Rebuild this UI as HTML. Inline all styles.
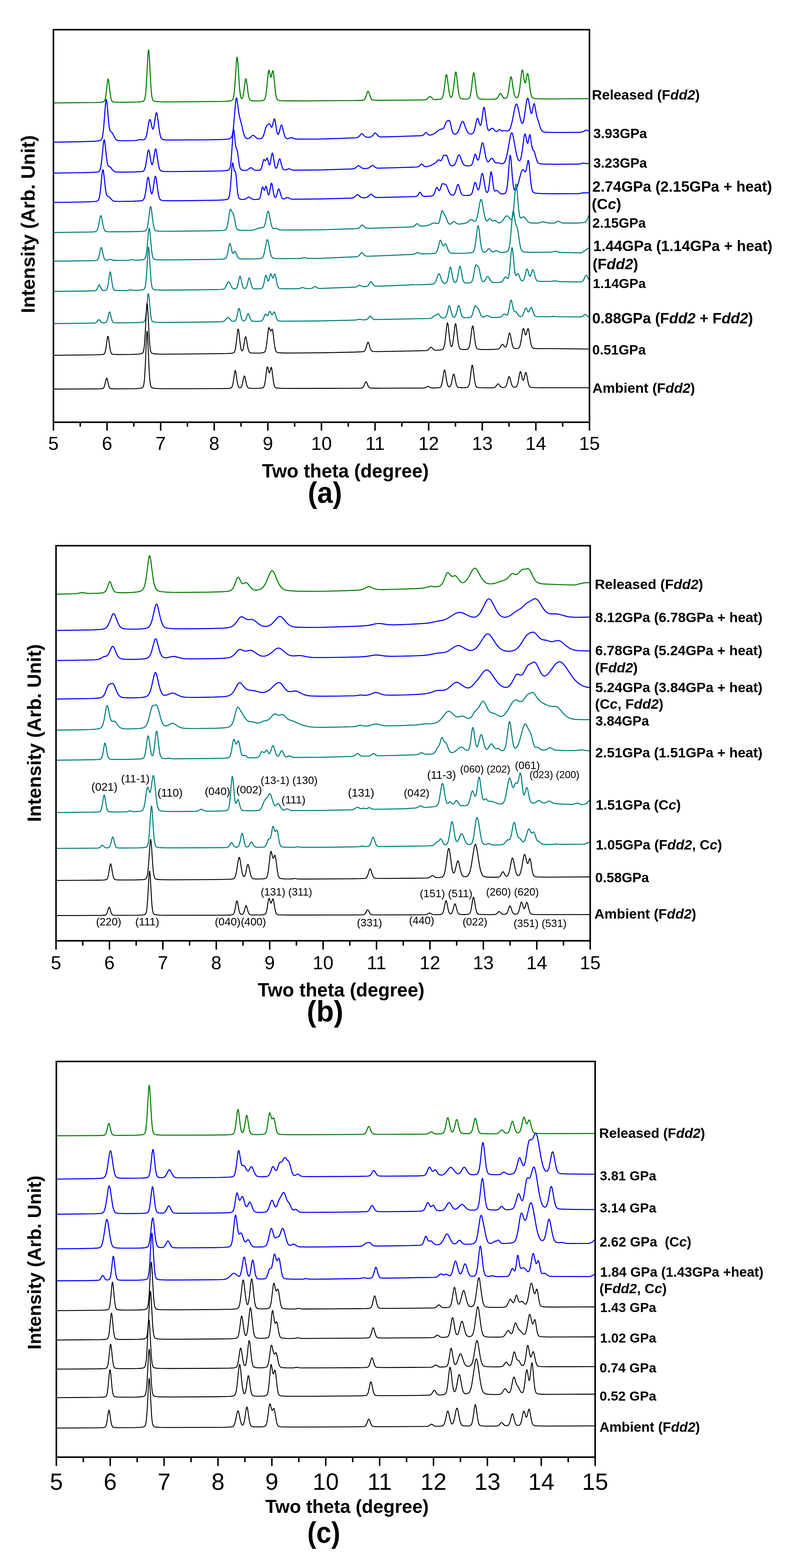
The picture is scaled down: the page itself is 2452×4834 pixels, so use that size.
<!DOCTYPE html>
<html lang="en"><head><meta charset="utf-8"><title>XRD patterns</title>
<style>html,body{margin:0;padding:0;background:#fff}body{width:2452px;height:4834px;overflow:hidden}svg{display:block}</style>
</head><body>
<svg width="2452" height="4834" viewBox="0 0 2452 4834" font-family='"Liberation Sans", Arial, Helvetica, sans-serif' fill="#000">
<rect width="2452" height="4834" fill="#fff"/>
<g>
<polyline fill="none" stroke="#008000" stroke-width="3.20" stroke-linejoin="round" points="165.8,317.3 294.8,316 312.3,315.3 316.8,314.7 319.3,313.9 321.3,312.4 322.8,310 324.3,305.7 325.3,301.3 327.3,288.2 331.3,252.7 332.3,246.7 333.3,243.9 333.8,243.9 334.3,244.9 335.3,249.6 339.8,288.4 341.8,301.3 342.8,305.7 344.3,309.9 345.8,312.3 347.3,313.5 349.3,314.2 351.8,314.6 361.3,315.2 380.8,315.3 408.3,314.9 422.3,314.5 431.8,313.9 438.3,312.9 442.3,311.5 443.8,310.3 444.8,309 446.3,305.5 447.8,298.9 449.3,287.6 451.8,254.1 456.3,168.3 457.3,157.2 457.8,154.5 458.3,153.8 458.8,155.2 459.3,158.7 460.3,171 465.3,265 466.8,284.3 468.3,296.8 470.3,305.8 472.3,309.7 473.8,311.1 475.8,312 482.3,313.3 496.3,314 522.8,314.2 669.8,313 690.3,312.5 702.8,311.9 710.8,310.9 715.3,309.4 716.8,308.2 717.8,306.9 719.3,303.6 720.8,297.6 722.3,287.6 724.8,259.4 729.3,189.4 730.3,179.9 730.8,177.3 731.3,176.3 731.8,176.9 732.3,179.1 733.8,194.1 737.3,249.7 739.3,276.1 741.3,292.8 743.3,301.3 744.8,303.8 745.3,304.1 746.3,303.9 747.8,301.9 749.3,297.4 751.8,283.8 756.3,249.4 757.3,244.8 757.8,243.6 758.3,243.1 758.8,243.5 759.3,244.6 760.3,249.1 765.3,287.6 767.8,300.6 769.3,305.1 771.3,308.3 773.8,309.9 777.3,310.6 783.8,311.1 792.8,311.1 801.8,310.8 808.3,310.2 811.8,309.5 813.8,308.6 815.3,307.4 816.8,305.2 818.8,299.4 820.8,288.5 822.8,271.4 826.8,228.9 828.3,218.9 829.3,216.5 829.8,216.7 830.8,219.3 833.8,234.1 834.8,237.1 835.3,237.7 835.8,237.7 836.8,235.8 839.8,221.8 840.8,218.5 841.3,217.8 841.8,217.9 842.3,218.9 843.3,223.6 844.3,231.4 849.3,282.3 850.8,292.8 852.3,299.9 854.3,305.3 856.3,307.9 857.8,308.8 859.8,309.5 865.8,310.4 884.3,311.1 900.8,310.6 912.3,311.1 932.8,311.1 1083.8,310 1107.3,309.6 1117.8,309.2 1120.8,308.6 1122.8,307.7 1124.3,306.4 1125.8,304.3 1128.3,298.6 1132.8,284.5 1134.3,281.6 1135.3,281 1136.3,281.7 1137.3,283.5 1142.3,298.8 1144.8,304.3 1146.3,306.3 1147.8,307.6 1149.8,308.4 1151.8,308.8 1163.3,309.2 1192.8,309.1 1279.8,308.4 1309.3,307.8 1313.3,307.3 1316.3,306 1318.8,304 1323.8,298.3 1325.3,297.3 1326.3,297.1 1327.3,297.4 1328.8,298.5 1334.3,304.5 1335.8,305.6 1337.8,306.5 1340.3,307 1344.3,307.1 1356.8,306.2 1360.8,305.1 1363.3,302.9 1365.3,299.1 1366.8,294.1 1368.3,286.7 1369.8,276.7 1374.3,239.5 1375.8,231.6 1376.8,229.6 1377.3,229.8 1377.8,230.8 1379.3,237.9 1384.3,277.9 1386.8,291.8 1388.3,296.6 1389.8,299.3 1390.8,300 1391.8,299.9 1393.3,298.3 1395.3,292.9 1397.3,282.8 1399.3,267.7 1403.3,231.9 1404.8,223.6 1405.3,222.4 1405.8,221.9 1406.3,222.3 1406.8,223.5 1408.3,231.7 1413.3,276 1415.8,291.5 1417.3,297.2 1418.8,300.7 1420.8,303.3 1422.8,304.5 1425.8,305.2 1430.8,305.5 1436.8,305.5 1441.8,305 1444.3,304.4 1445.8,303.5 1447.3,302 1448.3,300.4 1450.3,294.9 1452.3,285.4 1454.3,271.1 1458.8,232.5 1460.3,225.5 1460.8,224.6 1461.3,224.5 1462.3,226.8 1463.8,235.4 1468.3,274.4 1470.8,290.3 1472.3,296.3 1473.8,300.2 1475.3,302.5 1477.3,304.1 1479.3,304.9 1482.3,305.4 1494.3,306 1518.8,306 1525.3,305.7 1528.8,305.2 1531.8,303.9 1534.3,301.6 1536.3,298.6 1540.8,290.3 1542.3,288.5 1543.3,288.1 1544.3,288.4 1545.8,289.9 1550.8,298.6 1553.8,302.1 1555.3,303 1557.3,303.5 1559.3,303.3 1560.8,302.6 1562.3,301.4 1563.8,299.1 1565.3,295.3 1566.3,291.8 1568.8,278.7 1573.8,243.5 1575.3,237.6 1575.8,236.8 1576.3,236.7 1577.3,238.4 1578.8,245.2 1583.8,280.1 1586.3,292.1 1587.8,296.5 1589.3,299.2 1591.3,301 1593.3,301.3 1594.8,300.9 1595.8,300.2 1597.8,297.5 1599.3,293.7 1600.8,287.6 1603.3,271.4 1608.3,226.2 1609.8,217.7 1610.8,215.5 1611.3,215.6 1611.8,216.5 1612.8,220.3 1616.8,246.9 1618.3,253.6 1619.3,255.4 1619.8,255.4 1620.3,254.9 1621.3,252.3 1625.3,231.5 1626.3,227.8 1627.3,226.4 1627.8,226.6 1628.3,227.6 1629.3,231.4 1630.3,237.4 1634.8,273.6 1637.3,288.6 1638.8,294.5 1640.3,298.3 1642.3,301.2 1644.8,302.9 1648.3,303.8 1654.3,304.4 1676.3,305 1817.3,304.3"/>
<polyline fill="none" stroke="#0000ff" stroke-width="3.20" stroke-linejoin="round" points="165.8,438.3 249.8,436.8 285.8,435.7 296.8,435 304.3,434.1 308.8,433 311.3,431.6 313.3,429.1 314.8,425.5 316.3,419.7 317.8,410.6 320.3,386.7 325.3,321.1 326.8,309.3 327.3,307.4 327.8,306.7 328.3,307.2 328.8,308.9 329.8,315.4 335.3,378.5 336.8,391 338.8,401 339.8,403.7 340.8,405.3 344.8,407.9 346.8,410.3 353.8,424.3 357.3,429.5 359.3,431.2 361.8,432.6 364.8,433.4 368.3,433.7 387.8,434 414.8,433.5 421.3,432.7 429.8,430.2 432.3,430.2 437.8,431.2 440.8,431.4 443.8,430.8 445.8,429.7 447.8,427.6 449.3,424.8 451.8,417.3 454.3,405.3 459.3,375.8 460.8,370.3 461.8,368.6 462.3,368.4 462.8,368.7 464.3,372.2 468.3,390.2 469.8,395.5 471.3,397.9 472.3,397.5 472.8,396.7 473.8,393.8 475.3,386.6 480.3,353.3 481.8,348 482.3,347.3 482.8,347.3 483.8,349.1 485.3,356.2 490.8,398.8 493.8,415.9 495.3,421.3 497.3,425.9 499.3,428.4 502.3,430.1 505.3,430.8 510.3,431.3 526.8,431.7 645.3,431 690.8,429.9 702.3,429 708.8,427.7 711.8,425.9 713.3,424.1 714.3,422.3 716.3,416.4 717.8,409 719.3,398.5 720.8,384.4 726.8,313.3 728.3,303.7 728.8,302.2 729.3,301.7 729.8,302 730.3,303.2 731.3,307.8 735.8,343 738.3,358.2 744.3,380.9 750.8,408.8 753.3,416.8 756.3,422.9 757.8,424.7 759.3,425.9 761.3,426.9 763.3,427.2 766.3,427 769.3,425.7 771.8,423.9 777.8,418.4 779.3,417.6 780.8,417.3 782.3,417.6 783.8,418.4 790.8,424.9 792.8,426.3 795.3,427.4 798.8,428 802.3,428 805.3,427.3 807.3,426.2 808.8,424.9 810.3,422.8 812.8,417.5 814.8,411.4 819.8,393.6 822.3,387.8 823.8,385.9 828.3,382.5 829.8,381.6 830.8,381.5 831.8,382.1 832.8,383.4 836.8,391.7 837.8,392.3 838.3,392.1 839.3,390.7 840.3,387.9 844.8,368.6 845.8,366.7 846.3,366.5 847.3,367.8 848.3,371.4 853.3,402.1 854.8,409 856.3,413.1 856.8,413.8 857.8,414.3 858.8,413.5 859.8,411.6 861.8,405.2 865.8,389.2 867.3,385.7 868.3,385.2 869.3,386.1 870.8,390 875.8,411.5 878.8,420.9 880.3,423.7 881.8,425.5 883.8,426.8 886.3,427.4 889.8,427.1 896.3,424.8 898.8,424.4 901.3,424.7 907.8,427.4 911.3,428.4 916.3,428.8 926.3,428.9 990.3,428.7 1094.8,425 1100.3,424.4 1104.3,422.9 1107.3,420.5 1113.3,413.5 1114.8,412.4 1115.8,412.2 1117.3,412.4 1118.8,413.5 1124.3,419.5 1127.8,422.1 1131.8,423.2 1137.8,423.3 1142.3,422.6 1145.8,421.1 1148.8,418.4 1154.3,411.7 1155.8,410.6 1157.3,410.2 1158.3,410.5 1159.8,411.5 1165.3,417.8 1168.3,420.3 1171.3,421.6 1175.8,422.2 1210.8,421.4 1299.8,418.3 1302.8,417.7 1305.3,416.5 1307.3,414.8 1311.8,409.4 1312.8,408.7 1313.8,408.4 1314.8,408.7 1315.8,409.4 1319.8,413.9 1321.8,415.6 1324.3,416.5 1327.3,416.5 1333.3,415.1 1338.8,412.6 1343.3,409.5 1352.3,402 1355.8,399.8 1359.3,398.5 1364.8,397.6 1366.8,396.6 1368.8,394.2 1370.3,391.4 1375.3,378.1 1377.3,374.3 1378.8,373 1385.3,371 1386.8,372.1 1388.3,375.8 1393.3,398.4 1395.3,405.6 1397.3,410.2 1398.3,411.6 1399.8,412.8 1401.3,413.4 1402.8,413.6 1405.8,413 1408.8,411.1 1411.3,408.3 1413.3,404.9 1415.3,400.5 1423.3,378.5 1425.3,375.2 1426.8,374.3 1428.3,375 1430.3,378.1 1438.3,399.8 1440.3,404.2 1442.3,407.6 1444.8,410.4 1447.3,412.1 1450.3,413 1453.8,413 1456.3,412.3 1458.3,411 1460.3,408.4 1461.8,405.3 1464.8,395.1 1469.8,371.4 1471.3,366.5 1472.3,364.9 1473.3,364.8 1474.8,367.3 1478.8,381.5 1480.3,385.4 1481.3,386.5 1481.8,386.6 1482.8,385.5 1483.8,382.8 1485.3,375.8 1490.8,336.8 1491.8,332.7 1492.8,331 1493.3,331.2 1493.8,332.1 1495.3,338.5 1500.3,377.3 1502.3,389.8 1504.3,397.7 1505.3,400.1 1506.3,401.5 1507.8,402.4 1509.3,402 1515.3,396.5 1516.8,395.6 1518.3,395.4 1519.8,395.8 1521.3,396.9 1527.3,403.6 1528.8,404.8 1530.3,405.5 1531.8,405.5 1533.3,404.8 1537.8,400.6 1539.8,399.6 1541.8,400 1545.8,402.8 1547.8,403.6 1549.8,403.6 1554.3,402.7 1556.8,402.5 1563.3,403.7 1565.8,403.8 1567.3,403.5 1568.8,402.7 1571.3,400 1573.8,395.3 1575.8,389.7 1579.8,373.7 1588.3,330.2 1590.3,323.6 1591.3,321.6 1592.3,320.6 1593.3,320.6 1594.3,321.7 1595.3,323.7 1596.8,328.4 1598.8,336.9 1604.3,364 1607.3,375.2 1608.8,378.6 1609.8,379.9 1610.8,380.3 1611.3,380.2 1612.3,379.2 1614.3,374.4 1616.8,362.9 1622.8,321.3 1624.8,309.7 1626.3,304.4 1627.3,302.9 1627.8,302.8 1628.8,304 1630.3,308.9 1636.3,343.2 1637.8,348.5 1638.8,349.9 1639.3,349.9 1639.8,349.5 1641.3,345.5 1644.8,327.1 1646.3,321.1 1647.3,319.6 1647.8,319.8 1648.3,320.7 1649.8,326.4 1654.3,353 1656.8,363.1 1660.8,375 1665.8,391.6 1667.8,397.1 1670.8,402.7 1672.3,404.3 1674.3,405.8 1676.8,406.7 1680.3,407.3 1699.3,408.1 1731.8,408.4 1784.8,408.1 1793.3,407.1 1797.3,406.3 1800.8,404.9 1805.8,402 1807.8,401.3 1810.3,401.5 1817.3,403.8"/>
<polyline fill="none" stroke="#0000ff" stroke-width="3.20" stroke-linejoin="round" points="165.8,533.6 245.8,532.5 280.3,531.7 297.8,530.6 302.3,529.8 304.8,528.7 306.8,526.7 308.3,524 309.8,519.6 311.3,512.6 313.8,494.1 318.8,442.6 320.3,433 321.3,430.9 321.8,431.2 322.3,432.4 323.3,437.5 328.8,488.8 330.3,499.3 332.3,508.2 333.3,510.7 334.3,512.2 335.3,513.1 338.8,514.5 340.8,515.8 347.3,523.8 349.8,526.5 352.8,528.6 355.8,529.7 360.8,530.4 370.8,530.6 414.3,530.2 434.3,529.2 438.8,528.6 441.8,527.5 443.8,525.8 445.3,523.6 446.8,520.2 448.3,515 450.8,502.1 455.3,471.8 456.3,466.7 457.3,463.4 458.3,462.3 458.8,462.7 459.8,465 461.3,472 464.8,494 466.3,501.6 467.8,506.3 468.8,507.5 469.3,507.5 470.3,506.2 471.8,501.4 473.3,493.6 477.3,467.4 478.8,460.9 479.8,459.2 480.3,459.2 480.8,459.9 482.3,465.2 487.8,502.6 489.3,510.9 490.8,517.1 492.3,521.4 493.8,524.2 495.8,526.3 498.3,527.5 501.3,528.1 506.3,528.5 523.3,529 613.3,528.2 680.3,527 693.8,526.3 702.3,525 705.8,523.5 707.8,521.2 709.8,515.9 711.3,508 713.8,483.6 718.8,408.8 719.8,400.7 720.3,398.9 720.8,398.6 721.3,399.9 722.3,406.3 725.3,438.2 726.8,450.1 727.8,454.8 728.8,457.4 730.8,460.7 732.3,466.5 737.3,503.5 739.3,514.2 740.8,519.1 742.8,522.5 745.3,524.1 750.3,525.1 757.3,525.3 761.8,524.4 765.3,522.6 771.3,517.8 773.8,517 776.3,517.8 782.8,522.9 786.8,524.6 790.3,525.1 795.3,525.1 799.8,524.7 802.3,523.9 803.8,522.8 804.8,521.5 806.8,517.1 808.3,511.7 811.8,496.3 813.3,492.3 813.8,491.8 814.8,491.9 817.3,495.1 818.3,495.6 818.8,495.5 819.8,494.3 822.3,488.7 823.3,487.4 823.8,487.4 824.3,487.8 825.3,490.1 829.3,506 830.3,508.2 830.8,508.7 831.3,508.7 832.3,507.3 833.3,504.1 837.8,478 838.8,473.8 839.8,472 840.3,472.2 840.8,473 841.8,476.6 847.3,509.8 848.8,515.2 850.3,518 851.3,518.7 852.3,518.4 853.3,517.3 854.3,515.4 856.3,509.2 860.3,493.1 861.8,489.7 862.3,489.4 862.8,489.4 863.8,490.9 864.8,493.8 868.8,510.5 871.3,518.2 872.8,520.9 874.3,522.5 876.3,523.5 878.3,523.8 882.8,523.3 888.8,520.7 891.3,520.2 893.8,520.7 898.8,523.1 901.3,524 904.8,524.5 910.8,524.6 989.8,523.9 1084.8,520.9 1090.3,520.4 1094.3,519.1 1097.3,517 1102.8,511.8 1104.3,510.9 1105.8,510.5 1108.3,511.4 1113.8,516.3 1116.8,518.2 1119.8,519.2 1123.8,519.6 1131.8,519.2 1136.3,518.3 1139.8,516.3 1146.3,510.8 1148.8,509.9 1151.3,510.7 1156.8,515.2 1159.8,517 1162.8,518 1166.8,518.4 1205.8,517.5 1283.3,515 1288.3,514.5 1291.3,513.5 1293.8,511.5 1298.3,506.3 1299.3,505.6 1300.3,505.4 1302.3,506.4 1306.3,510.8 1308.8,512.7 1311.8,513.7 1315.8,513.6 1320.8,512.8 1325.8,511.2 1330.3,509.2 1340.8,503.5 1344.8,500.6 1350.3,494.4 1352.3,492.9 1353.3,492.7 1354.3,493 1358.3,495.7 1359.3,495.8 1360.3,495.4 1362.3,492.5 1367.3,480.2 1368.3,479 1369.8,478.3 1372.8,478.9 1376.3,478.6 1377.3,479 1378.3,480.1 1380.3,484.7 1384.3,498.5 1386.3,504.1 1388.8,508.5 1391.3,510.5 1394.3,511.2 1397.3,510.7 1399.8,509.5 1402.3,507 1404.3,503.8 1406.3,499.4 1412.8,481.3 1414.3,478.7 1415.8,477.6 1417.3,478.4 1418.8,480.7 1426.3,500.9 1428.3,504.9 1430.8,508.1 1433.3,509.9 1436.8,511 1441.8,511.3 1448.3,510.9 1451.3,510.4 1453.3,509.4 1454.8,508 1456.3,505.7 1458.8,498.7 1463.3,479.8 1464.3,476.8 1465.3,475.2 1465.8,475.1 1466.3,475.3 1467.3,477 1471.3,489.8 1472.8,492.9 1473.8,493.7 1474.3,493.7 1475.8,491.9 1477.3,487.7 1478.8,481.5 1485.3,446.8 1486.8,441.9 1487.8,440.4 1488.3,440.2 1488.8,440.4 1489.8,441.9 1491.8,448.8 1497.3,478.8 1499.3,487.9 1501.3,494.4 1503.3,498 1504.8,499.1 1505.8,499.1 1506.8,498.7 1508.8,496.6 1513.8,489.3 1515.3,488.1 1516.8,487.8 1517.8,488.1 1519.3,489.5 1525.3,498.4 1527.3,500.6 1528.8,501.6 1531.3,502.2 1537.8,502.2 1545.8,504.8 1549.3,505 1551.3,504.4 1552.8,503.5 1555.8,500.4 1558.3,495.9 1560.8,489 1562.8,481.6 1565.3,469.8 1573.8,421.1 1576.3,412 1577.3,410.2 1578.3,409.5 1579.3,409.9 1580.3,411.6 1582.8,420.1 1590.8,465 1594.3,481 1596.3,487.6 1597.8,491.3 1599.8,494.4 1601.3,495.5 1602.3,495.5 1603.3,494.9 1604.8,492.7 1606.3,488.8 1607.8,482.8 1610.3,468.1 1616.3,422.3 1617.8,415.3 1618.8,413.1 1619.3,412.8 1620.3,413.9 1621.3,416.9 1625.3,437.2 1626.3,440.5 1627.3,441.9 1627.8,441.7 1628.3,440.9 1629.3,437.7 1632.3,420.5 1633.3,416.2 1633.8,415.2 1634.3,414.9 1634.8,415.6 1636.3,422.4 1639.8,448.4 1641.8,457.9 1643.3,461.1 1646.3,464.4 1647.8,467.4 1649.8,473.5 1654.3,490.2 1656.8,497.1 1659.3,501.3 1660.8,502.8 1662.8,504 1667.8,505.2 1676.8,505.8 1716.8,506.3 1784.8,505.9 1789.3,505.3 1796.3,503.2 1798.8,502.9 1808.3,504.3 1817.3,504.1"/>
<polyline fill="none" stroke="#0000ff" stroke-width="3.20" stroke-linejoin="round" points="165.8,624.2 244.3,623 277.8,622.2 294.8,621 298.8,620.2 301.3,618.9 303.3,616.8 304.8,613.8 306.3,608.9 307.8,601.5 310.3,582.1 314.8,536.1 316.3,526.1 317.3,523.5 317.8,523.5 318.3,524.5 319.3,529 325.3,583 326.8,592.6 328.8,600.4 329.8,602.5 330.8,603.8 332.3,604.8 335.3,605.9 336.8,606.9 345.8,617 348.8,619 351.8,620.1 356.8,620.7 367.3,621 412.3,620.4 432.8,619.3 437.3,618.7 440.3,617.6 442.3,615.9 443.8,613.7 445.3,610.1 446.8,604.8 449.3,591.2 454.3,555 455.3,550 456.3,547.1 456.8,546.6 457.3,546.7 457.8,547.4 458.8,550.6 464.8,589 466.8,596.5 467.8,597.8 468.3,597.8 468.8,597.4 469.8,595.4 471.3,589.3 476.8,551.5 478.3,544.9 479.3,543.3 479.8,543.5 480.3,544.4 481.8,550.7 487.3,591.4 489.8,604.8 491.3,609.9 493.3,614.1 495.3,616.3 497.8,617.5 504.8,618.5 518.3,618.9 581.8,618.6 672.3,617.1 689.3,616.3 698.8,615.1 702.3,613.9 703.8,612.7 704.8,611.3 706.8,606.2 708.3,598.7 710.8,576.1 715.3,515.6 716.8,504.1 717.3,502.7 717.8,502.5 718.8,505.3 722.3,524.8 723.3,527.1 723.8,527.6 725.3,527.9 725.8,528.5 726.8,531.5 727.3,534.3 728.8,547.6 732.3,587.4 733.3,595.8 734.8,604.6 736.3,609.6 738.3,612.6 740.8,614 744.8,614.7 750.8,615 755.3,614.3 758.8,612.7 764.8,608.3 767.3,607.6 768.8,607.8 770.3,608.6 777.3,613.4 780.8,614.6 784.8,615 791.3,614.9 796.3,614.4 798.8,613.5 800.3,612.2 801.3,610.7 803.3,605.2 807.8,581.8 809.3,576.6 809.8,576.1 810.3,576.1 810.8,576.7 813.8,585.3 814.8,586.8 815.3,586.8 816.3,585.5 819.3,575.9 820.3,574.2 820.8,574.2 821.3,574.9 822.3,578 826.3,597.5 827.8,600.9 828.3,601.1 828.8,600.8 829.8,599 831.3,593.1 835.8,567.8 836.8,565 837.3,564.5 837.8,564.8 838.3,565.6 839.3,569.2 844.3,598.3 845.8,604.2 847.3,607.6 848.3,608.6 849.3,608.8 850.3,608.2 851.8,605.8 853.8,600.2 857.8,585.7 858.8,583.4 859.8,582.5 860.8,583.2 861.8,585.3 866.3,601.8 868.8,608.5 869.8,610.2 871.3,611.9 872.8,612.7 874.8,613.1 878.3,612.6 884.3,609.5 886.8,608.9 889.3,609.5 894.3,612.4 896.8,613.3 899.8,613.9 904.8,614.1 989.8,613.3 1082.3,610.8 1087.8,610.2 1091.3,608.8 1094.3,606.6 1099.8,601 1102.3,599.9 1103.8,600.1 1105.3,601 1110.8,606.3 1114.3,608.5 1118.3,609.5 1124.8,609.6 1129.3,609.1 1132.8,607.8 1135.8,605.6 1141.8,599.6 1143.3,598.8 1144.3,598.6 1145.3,598.8 1146.8,599.6 1152.3,604.9 1155.3,607.1 1158.3,608.3 1162.3,608.8 1200.3,608.2 1277.8,606.1 1283.8,605.5 1286.8,604.1 1289.3,601.1 1293.3,594 1294.3,592.9 1295.3,592.6 1296.3,593.1 1297.3,594.4 1300.8,600.6 1302.3,602.6 1303.8,604 1305.3,604.7 1307.8,605.2 1311.8,605.3 1328.8,604.7 1331.8,604.2 1334.3,603.4 1336.3,601.9 1337.8,600.1 1340.3,594.9 1344.8,581.6 1345.8,579.4 1346.8,578.1 1347.8,577.9 1348.8,578.6 1352.3,585.3 1353.8,587.3 1354.8,587.7 1355.8,587.2 1357.8,583.4 1362.3,569.5 1363.8,566.9 1365.3,566.1 1369.3,567.3 1372.8,567.9 1374.3,568.6 1375.3,569.6 1376.8,571.9 1378.3,575 1383.8,589 1386.3,594.3 1389.3,598.6 1390.8,600 1392.8,601.1 1395.3,601.7 1397.8,601.4 1399.8,600.2 1401.8,597.7 1403.3,594.7 1404.8,590.6 1410.3,571.7 1411.8,569 1412.8,568.7 1413.8,569.6 1415.3,573 1421.3,593.4 1423.3,597.7 1425.3,600.3 1427.8,601.8 1431.3,602.5 1438.3,602.7 1446.3,602.2 1449.3,601.7 1451.8,600.6 1453.8,598.7 1455.3,596.3 1456.8,592.6 1458.3,587.5 1463.3,566.2 1464.3,563.4 1465.3,562 1466.3,562.2 1467.8,565.2 1471.8,579.8 1473.3,583.7 1474.8,585.4 1475.8,585 1476.3,584.3 1477.8,580.4 1479.3,574 1484.8,541.3 1486.3,535.8 1487.3,534.5 1487.8,534.6 1488.8,536.2 1490.3,542.1 1495.3,572.8 1498.3,586.6 1499.8,590.7 1501.3,593 1502.8,593.6 1503.8,592.8 1504.8,591.1 1505.8,588.1 1507.3,580.9 1508.8,570.5 1512.8,536.6 1513.8,531.3 1514.3,529.9 1514.8,529.4 1515.3,529.8 1515.8,531.1 1516.8,536.2 1521.8,575.8 1523.3,583.3 1524.8,587.4 1525.8,588.7 1526.8,589.1 1527.8,589 1531.3,587.2 1533.3,587.3 1535.3,588.7 1540.3,594.3 1543.3,596.7 1546.8,597.9 1551.3,597.9 1556.3,596.8 1557.8,595.9 1559.3,594.3 1561.3,590.2 1563.3,582 1564.8,571.7 1566.3,557.3 1571.3,493 1572.8,481.2 1573.3,479.4 1573.8,478.9 1574.3,479.7 1574.8,481.6 1576.3,493.9 1580.3,545.3 1582.8,569.8 1583.8,576.2 1585.3,582.6 1586.3,584.9 1587.8,586.5 1589.3,586.3 1591.3,584.1 1593.3,580.5 1595.3,575.5 1598.8,564.3 1606.3,535.4 1608.3,529.3 1609.8,525.9 1611.8,523.3 1613.3,523.1 1614.8,524.1 1618.3,528.9 1619.3,529.7 1620.3,529.9 1620.8,529.5 1621.8,527.9 1623.8,520.7 1627.8,498.2 1628.8,495.1 1629.3,494.7 1629.8,495 1630.3,496.3 1631.8,505.1 1636.8,558.1 1639.3,577.3 1640.8,584.4 1642.3,588.9 1644.3,592.2 1646.8,594.1 1649.3,595 1653.3,595.7 1666.8,596.7 1687.3,597.2 1720.3,597.3 1784.8,597 1797.8,594.7 1807.8,594.7 1817.3,594"/>
<polyline fill="none" stroke="#008080" stroke-width="3.20" stroke-linejoin="round" points="165.8,716.8 272.8,715.4 288.8,714.8 292.8,714.4 295.3,713.8 297.3,712.7 298.8,711.2 300.3,708.6 301.8,704.6 304.3,694 308.8,669.7 309.8,666.4 310.8,664.8 311.3,664.9 311.8,665.4 313.3,669.8 317.8,694 320.3,704.5 321.8,708.5 323.3,711 324.8,712.5 326.8,713.5 331.3,714.3 341.3,714.6 390.8,714.4 431.8,713.6 441.3,713 446.8,712.1 449.8,710.7 451.8,708.4 453.3,705.1 454.8,699.9 457.3,685.6 462.3,644.7 463.8,637.6 464.3,636.7 464.8,636.6 465.8,638.7 466.8,643.6 472.3,687.9 473.8,696.7 475.8,704.6 477.8,708.8 478.8,710 480.3,711.1 483.8,712.1 490.8,712.7 504.8,713 530.3,712.9 650.8,711.7 680.8,710.9 688.8,710.3 693.3,709.5 695.8,708.3 697.8,706 699.3,702.9 700.8,698.1 703.3,685.4 708.3,651.8 709.8,646.2 710.8,644.9 711.3,644.9 712.3,646.1 715.8,654 718.8,658.1 720.3,661.2 722.3,669.1 726.8,693.3 728.3,699.3 729.8,703.6 731.8,706.9 733.8,708.5 736.3,709.3 740.8,709.8 762.8,710.2 772.3,710 778.3,709.5 786.3,707.7 799.8,702.6 803.3,702 809.8,702.1 812.3,701.2 813.8,699.7 814.8,698.1 817.3,691.5 819.3,683.1 824.3,657.5 825.8,652.7 826.8,651.4 827.3,651.3 827.8,651.8 829.3,655.5 836.3,691.2 838.3,698.2 840.3,702.5 841.8,704.3 843.8,705.1 845.3,704.9 849.8,703.4 851.8,703.5 859.8,707.9 862.3,708.7 865.3,709 894.8,709.2 989.8,708.4 1098.8,704.9 1103.8,704.3 1107.3,702.9 1109.8,700.8 1114.8,695 1116.3,693.9 1117.3,693.7 1118.3,693.9 1119.8,694.9 1124.8,700.4 1127.3,702.3 1130.3,703.4 1134.8,703.8 1246.8,700.6 1270.8,699.1 1274.8,698.4 1277.8,697.2 1279.8,695.5 1284.3,690.4 1286.3,689.4 1288.3,690.2 1293.3,695.1 1296.3,696.7 1301.3,697.1 1312.3,696.3 1317.8,695.4 1322.8,693.9 1333.8,688.7 1337.3,687.5 1339.3,687.3 1341.8,687.4 1349.3,689.3 1350.8,689.2 1352.3,688.3 1354.3,685.2 1355.8,680.9 1361.3,654.9 1362.8,650.4 1363.8,649.4 1364.3,649.5 1365.3,650.6 1369.3,658.8 1373.3,665.4 1375.3,669.8 1380.8,684 1382.8,687.7 1384.8,689.9 1387.3,691.1 1389.8,690.7 1392.3,689 1397.8,683.9 1399.3,683.2 1400.3,683.1 1402.8,684.1 1407.8,688.4 1410.8,690.1 1414.3,690.8 1418.8,690.6 1432.3,688.9 1437.8,687.4 1441.8,685.2 1449.3,678.5 1452.3,676.9 1453.8,676.8 1455.8,677.5 1461.3,681.5 1463.3,682.5 1465.3,682.5 1467.3,680.9 1469.8,676 1471.8,669.3 1474.3,657.4 1480.3,623.2 1482.3,616.4 1483.3,615 1483.8,614.9 1484.3,615.2 1485.3,616.9 1487.3,624.4 1492.8,656.2 1495.3,668.4 1497.3,675.4 1499.3,679.6 1500.8,681 1501.8,681.2 1502.8,680.8 1504.3,679.5 1508.3,674.4 1509.8,673.5 1510.8,673.5 1512.3,674.4 1516.3,679.2 1518.3,680.7 1520.3,681.1 1524.8,679.8 1526.8,679.8 1529.3,681.1 1535.8,686.2 1537.8,687.1 1540.3,687.3 1543.8,686.2 1547.3,683.5 1550.8,679.3 1558.3,668.5 1560.3,666.5 1561.8,665.6 1563.8,665.5 1566.3,666.8 1568.3,668.8 1573.3,674.8 1575.3,676.5 1576.3,676.9 1577.3,676.8 1578.3,676 1579.3,674.2 1581.3,667 1583.3,653.2 1585.3,632 1589.3,581.5 1590.8,569.9 1591.3,568 1591.8,567.4 1592.3,567.9 1592.8,569.5 1594.3,580.7 1598.3,630.1 1600.3,650.8 1601.8,661.4 1603.3,667.9 1604.8,671.2 1606.3,672.3 1607.8,671.9 1612.8,668.6 1614.8,668.4 1616.3,669 1619.3,672 1626.8,681.9 1629.8,684.6 1632.8,686.2 1636.3,687.2 1640.3,687.6 1656.8,687.6 1662.8,686.9 1672.3,684.3 1675.8,683.9 1678.8,684.3 1686.8,686.6 1691.3,687.4 1697.8,687.8 1706.8,687.7 1710.3,687.3 1712.8,686.6 1719.3,682.6 1721.8,681.8 1724.3,682.5 1728.8,685.4 1731.3,686.7 1733.8,687.3 1737.3,687.7 1784.8,687.6 1805.8,685.5 1812.3,674.6 1817.3,660.8"/>
<polyline fill="none" stroke="#008080" stroke-width="3.20" stroke-linejoin="round" points="165.8,805.2 275.3,803.9 291.3,803.3 297.8,802.5 299.8,801.6 301.3,800.1 302.8,797.7 303.8,795.2 305.8,788.1 310.3,766.8 311.3,764 312.3,762.9 313.3,763.9 314.3,766.6 318.8,787.8 320.8,794.9 321.8,797.3 323.3,799.8 324.8,801.2 326.3,801.9 328.8,802.3 331.3,802.1 337.8,799.9 339.8,799.5 341.8,799.8 348.8,802.4 356.3,802.9 393.8,802.5 397.8,802 403.8,800.5 406.3,800.2 415.8,801.9 424.8,801.9 436.8,801.2 443.3,800.1 445.8,798.7 447.8,796.1 449.3,792.1 450.8,785.4 453.3,766.2 457.8,715.6 459.3,705.4 459.8,704.1 460.3,703.8 461.3,706.9 462.3,714 467.3,769.1 468.8,781.1 470.3,789.3 472.3,795.4 474.3,798.3 475.8,799.3 477.8,800 484.3,800.8 496.3,801.2 517.8,801.2 631.8,800.1 676.8,799.3 687.3,798.8 692.3,798.2 694.8,797.2 696.3,796.1 697.8,794 699.3,790.7 701.8,781.4 706.8,755.2 707.8,752 708.8,750.7 709.3,750.8 709.8,751.5 710.8,754.1 715.3,774.6 717.3,780 718.3,781 719.3,780.9 720.3,780.1 723.8,775.4 724.8,775.1 725.8,775.7 727.8,779.2 732.8,791.8 734.8,794.9 737.3,797 739.3,797.7 742.3,798.1 757.3,798.4 788.8,798 798.3,797.5 803.8,796.9 806.8,796.1 809.3,794.4 811.3,791.6 813.3,786.9 816.3,774.9 821.8,744.9 823.3,739.9 824.3,738.5 824.8,738.5 825.8,739.9 827.3,744.9 833.3,777.2 834.8,783.4 836.8,789.3 838.8,792.9 841.3,795.2 844.3,796.3 848.8,796.9 871.8,797.3 922.3,796.9 928.3,796.4 935.3,794.7 937.8,794.4 940.3,794.7 946.3,796.1 950.8,796.5 989.8,796.3 1096.3,791.6 1102.3,790.9 1105.8,789.3 1108.3,787.1 1113.8,780.1 1115.8,779 1116.8,779.1 1118.3,780.1 1123.3,786.1 1125.8,788.3 1128.8,789.5 1133.3,790 1173.3,788.6 1270.8,784.3 1274.8,783.8 1277.8,783.1 1285.3,779.5 1287.8,779 1290.3,779.5 1296.3,782 1300.8,782.7 1325.8,782.1 1338.3,781.4 1341.8,780.8 1344.3,779.5 1346.3,777.4 1347.8,774.8 1349.3,771 1350.8,765.9 1355.8,745.1 1357.3,741.3 1358.3,740.4 1359.3,740.9 1360.3,742.6 1364.3,754.5 1365.8,757.6 1366.8,758.5 1367.8,758.6 1368.8,757.9 1372.3,752.5 1373.3,751.5 1374.3,751.3 1375.3,752.1 1377.3,756.2 1381.3,768.4 1383.3,773.4 1385.8,777.5 1387.3,778.9 1388.8,779.7 1391.3,780.4 1394.3,780.7 1407.8,781 1434.8,780.5 1450.8,779.6 1455.8,778.7 1458.8,777.2 1460.3,775.5 1461.3,773.8 1463.3,768.3 1465.3,759 1466.8,749.1 1472.3,703.6 1473.8,697 1474.3,696.2 1474.8,696.1 1475.8,698.2 1477.3,706.3 1481.8,744.3 1484.3,760.9 1486.8,770.7 1488.3,774 1489.8,775.9 1491.3,776.9 1493.3,777.5 1495.3,777.4 1497.3,776.6 1500.3,774.2 1505.8,767.8 1507.3,766.9 1508.3,766.8 1509.3,767.1 1510.8,768.3 1516.3,774.8 1517.8,775.9 1519.3,776.5 1520.8,776.6 1522.3,776.3 1528.3,773.1 1530.8,772.6 1533.3,773.3 1539.3,776.9 1542.3,777.8 1547.3,778.2 1555.3,777.7 1562.3,776.4 1564.3,775.5 1565.8,774.4 1567.3,772.5 1568.8,769.4 1570.8,762.2 1572.8,749.7 1574.3,736.2 1580.3,664 1581.8,653.1 1582.3,651.3 1582.8,650.3 1583.3,650.3 1583.8,651.1 1584.8,655 1588.8,682 1590.3,689.5 1591.8,694.1 1594.8,700.2 1596.8,708 1602.8,749.1 1605.3,762.2 1606.8,767.5 1608.3,771.1 1610.3,773.9 1612.3,775.4 1614.3,776.2 1617.3,776.8 1628.3,777.6 1645.8,777.8 1674.3,777.7 1700.3,777.2 1703.8,776.7 1710.3,774.8 1712.8,774.5 1715.8,774.9 1723.3,777.4 1728.8,778.1 1793.3,779.6 1817.3,763.6"/>
<polyline fill="none" stroke="#008080" stroke-width="3.20" stroke-linejoin="round" points="165.8,898.4 268.3,897.2 292.3,896.4 295.3,895.5 297.8,893.4 299.8,890 303.8,880.3 304.8,878.6 305.8,878 306.8,878.4 307.8,879.8 312.3,890.3 313.8,892.7 315.3,894.2 317.3,895.2 319.3,895.5 323.3,895.4 326.3,894.8 327.8,894 329.3,892.3 330.8,889.2 331.8,885.8 333.8,875.4 337.8,845.6 338.8,840.4 339.8,838.1 340.3,838.3 340.8,839.3 341.8,843.7 345.8,873.3 347.8,884.5 349.8,890.7 351.3,893.1 352.8,894.3 355.8,895.2 361.8,895.6 387.8,895.7 394.3,895.3 401.3,893.6 403.3,893.4 410.8,895 417.3,895.2 434.3,894.3 439.8,893.5 442.8,892.6 444.3,891.6 445.3,890.5 446.8,887.6 448.3,882 449.8,871.9 452.3,841.8 456.3,774.8 457.3,764.8 457.8,762.3 458.3,761.7 458.8,763 459.8,771 464.8,851.6 466.3,868.9 467.8,880.1 469.8,887.8 471.8,891 473.3,892.1 475.3,892.8 482.8,893.9 502.8,894.4 550.3,894.2 656.8,892.9 676.8,892.5 685.8,892 690.3,890.8 692.3,889.5 693.8,887.9 696.8,883 702.3,870.9 703.8,868.9 704.8,868.3 706.3,868.9 707.8,870.9 713.3,882.8 715.3,886.2 716.8,888 718.8,889.6 720.8,890.4 723.3,890.7 725.8,890.5 727.8,889.8 729.3,888.7 730.8,886.5 731.8,884.2 734.3,875.2 738.3,855.8 739.3,852.8 740.3,851.6 741.3,852.5 742.3,855.4 746.3,874.5 748.3,882.2 750.3,886.7 752.3,888.9 754.3,889.5 756.3,889.2 758.3,887.6 759.8,885.2 762.3,878 766.8,859.6 767.8,857.4 768.8,856.8 769.8,858 770.8,860.7 774.8,877.4 776.3,882.5 777.8,886 779.8,888.7 782.3,890.1 785.8,890.6 795.3,890.6 803.3,890.1 806.3,889.4 808.3,888.2 809.8,886.3 811.3,883.2 813.8,874.3 817.8,854.4 819.3,849.8 820.3,849 821.3,850.2 825.3,863.6 826.3,865.8 827.3,866.4 828.3,865.5 829.3,863 832.8,848.4 833.8,845.3 834.8,843.9 835.3,843.9 836.3,845.3 839.8,855.4 840.8,856.8 841.3,856.9 841.8,856.7 842.8,855.3 846.3,845.5 847.3,844.4 848.3,845.3 849.3,848.1 850.3,852.5 854.8,876.3 857.3,884.2 859.3,887.3 861.3,888.7 863.8,889.4 868.8,889.9 888.8,890.3 920.3,889.9 924.8,889.3 931.3,886.6 933.3,886.3 935.3,886.7 940.3,888.7 943.3,889.4 948.3,889.7 957.8,889.5 960.8,889.1 963.3,888.3 969.8,883.7 971.8,883.1 973.8,883.7 978.3,887.1 980.8,888.4 983.3,889 987.3,889.3 1083.3,885.7 1093.8,885.1 1098.3,884.5 1101.3,883.4 1106.8,879.9 1108.8,879.2 1110.8,879.6 1115.8,882.4 1118.3,883.3 1121.8,883.7 1127.3,883.6 1131.8,882.8 1134.8,881.2 1137.3,878.2 1142.3,869.7 1143.3,868.7 1144.3,868.3 1145.3,868.7 1146.3,869.6 1150.8,877.1 1153.3,880.1 1155.8,881.6 1159.8,882.3 1177.8,881.9 1259.3,878.7 1272.8,877.3 1281.8,878 1287.3,878 1316.3,877.1 1331.8,876.2 1335.3,875.7 1337.8,874.9 1339.8,873.7 1341.8,871.5 1343.8,868 1345.3,864.4 1351.3,846.8 1352.8,844.4 1353.8,843.9 1354.8,844.4 1356.3,846.8 1361.8,862.5 1364.8,869 1366.3,871 1368.3,872.6 1370.3,873.4 1372.3,873.5 1374.8,872.9 1376.8,871.3 1378.3,869 1379.8,865.2 1382.3,854.8 1386.8,829.1 1388.3,824.1 1388.8,823.4 1389.3,823.4 1390.3,824.9 1391.3,828.4 1395.8,853.6 1398.3,864 1399.3,866.7 1400.8,869.4 1402.3,870.7 1403.8,871.1 1405.8,870.3 1407.3,868.5 1408.8,865.3 1409.8,862.2 1411.8,853.3 1416.3,826.9 1417.8,821.7 1418.3,820.9 1418.8,820.8 1419.8,822.2 1421.3,828.1 1424.8,849.1 1426.8,859.2 1428.3,864.6 1429.8,868.1 1431.8,870.7 1434.3,872.1 1438.8,872.6 1446.3,872.4 1450.3,871.8 1452.8,870.8 1454.8,869 1456.8,865.3 1458.3,860.8 1459.8,854.4 1464.3,828.6 1465.8,821.5 1467.3,817.4 1467.8,816.7 1468.8,816.4 1469.8,816.9 1474.3,820.9 1476.3,824.1 1478.3,830.9 1482.3,850.7 1484.3,859 1486.3,864.6 1487.3,866.3 1488.8,867.9 1489.8,868.3 1491.3,868.3 1493.8,866.6 1496.3,863.3 1501.3,854.5 1502.8,852.8 1504.3,852.2 1505.3,852.6 1506.8,854.2 1513.8,866.1 1515.8,868.3 1517.8,869.7 1520.8,870.6 1524.8,871 1534.3,870.8 1542.3,870.3 1546.3,869.3 1549.3,867.3 1551.8,864 1556.3,855.8 1558.3,853.7 1559.3,853.5 1560.3,853.9 1563.8,857.8 1565.3,858.8 1566.3,858.6 1566.8,858.2 1568.3,855 1569.8,848.5 1571.3,837.9 1576.8,777.1 1578.3,766.1 1578.8,764.3 1579.3,763.6 1579.8,764 1580.3,765.5 1581.3,771.5 1586.3,825.3 1587.8,837.5 1589.3,845.2 1590.3,847.9 1590.8,848.6 1591.8,849 1592.8,848.4 1596.3,844.1 1597.3,843.9 1598.3,844.5 1600.3,848.2 1605.3,860.9 1607.3,864 1609.3,865.6 1611.3,865.9 1612.8,865.3 1614.3,863.9 1615.8,861.4 1618.3,854.2 1623.3,833.4 1624.8,829.7 1625.8,829.1 1626.8,830.1 1627.8,832.4 1632.3,848.2 1633.8,851.1 1634.8,851.6 1635.8,851 1637.3,848.1 1641.8,833.8 1643.3,831.7 1644.3,832.1 1645.3,833.9 1646.3,836.8 1650.8,854.5 1653.3,861.4 1654.8,864 1656.3,865.6 1658.3,866.7 1660.3,867.2 1672.3,867.7 1698.8,867.3 1702.8,867 1710.8,865.7 1713.3,866 1720.8,867.6 1726.8,868.1 1777.3,869.2 1786.8,869.2 1790.8,868.9 1795.3,867.7 1796.8,866.8 1798.3,865.3 1800.8,861.4 1805.8,850.6 1807.3,848.7 1808.3,848.4 1809.3,848.9 1810.8,850.9 1815.3,860.5 1817.3,863.7"/>
<polyline fill="none" stroke="#008080" stroke-width="3.20" stroke-linejoin="round" points="165.8,997.6 267.8,996.5 291.3,995.9 294.3,995.4 296.8,994 298.8,992 302.8,986.5 303.8,985.7 304.8,985.5 305.8,985.9 306.8,986.8 311.3,992.7 313.8,994.6 315.8,995.2 317.8,995.3 324.3,994.9 326.3,994.2 327.8,993 329.3,990.9 330.3,988.6 332.3,981.9 335.8,966.3 336.8,963.2 337.8,961.8 338.3,961.8 338.8,962.3 339.8,964.7 343.8,982 345.8,988.6 347.8,992.4 349.3,993.8 350.8,994.5 354.8,995.1 363.8,995.3 409.8,994.9 432.3,994.2 438.8,993.6 442.3,992.9 444.8,991.4 446.3,989.3 447.8,985.3 449.3,978.3 451.3,962.5 455.8,912.8 456.8,906.7 457.3,905.3 457.8,905.3 458.8,909 459.8,916.9 463.3,956.9 464.8,970.9 465.8,977.9 467.3,985 468.8,989 469.8,990.6 471.3,991.9 474.8,993 481.3,993.6 498.8,994 537.8,993.8 650.3,992.6 683.3,991.9 688.3,991.2 691.8,989.6 694.8,986.9 700.3,980 701.8,978.8 703.3,978.4 704.3,978.7 705.8,979.8 711.3,986.4 714.3,989 717.8,990.4 722.3,990.5 724.3,989.8 726.3,988.2 727.8,985.8 728.8,983.4 730.8,976.1 735.3,954.3 736.3,951.5 736.8,950.9 737.3,950.8 738.3,952.2 739.3,955.4 743.3,975.1 745.8,983.9 746.8,986.1 748.3,988.2 749.8,989.2 751.8,989.6 753.3,989.4 754.8,988.7 756.3,987.2 757.3,985.6 759.3,981.2 763.3,969.5 764.3,967.6 765.3,966.8 766.3,967.3 767.3,969 771.3,980.6 773.3,985.4 774.8,987.7 776.8,989.4 780.3,990.5 787.3,990.7 800.8,990.4 806.3,989.6 808.8,988.1 810.8,985.4 812.8,981.2 816.3,971.7 817.8,968.9 818.8,968.1 819.8,968.3 823.3,972.6 824.3,973.3 825.3,973.1 826.3,972 827.3,970.1 830.8,961.2 831.8,959.9 832.3,959.8 832.8,959.9 833.8,961.1 837.3,969 838.8,970.7 839.8,970.5 840.8,969.4 844.3,962.6 845.3,961.7 846.3,962.1 847.3,963.7 848.3,966.4 852.8,981.3 855.3,986.4 856.8,988 858.8,989.1 861.3,989.7 865.8,990 895.8,990.1 989.8,989.3 1075.8,987.3 1096.3,986.7 1099.8,986.1 1105.3,984.5 1107.8,984.2 1116.8,985.9 1124.8,986 1129.3,985.4 1132.3,984.2 1134.8,981.9 1139.8,975.5 1140.8,974.8 1141.8,974.6 1142.8,974.9 1143.8,975.6 1148.3,981.3 1150.8,983.6 1153.3,984.7 1157.3,985.2 1322.3,982 1327.3,981.5 1330.8,980.5 1333.3,978.8 1339.3,973.1 1340.8,972.4 1345.3,971.5 1349.8,968 1351.3,967.4 1352.3,967.6 1353.8,968.8 1358.8,976.2 1361.3,978.7 1364.3,980 1368.3,980.3 1371.3,979.7 1373.3,978.6 1374.8,977 1376.3,974.4 1378.8,967.1 1383.8,946 1384.8,943.5 1385.8,942.4 1386.8,943.1 1388.3,946.9 1392.8,965.9 1394.8,972.1 1395.8,974.3 1397.3,976.5 1398.8,977.6 1400.3,978 1401.8,977.6 1403.3,976.5 1404.8,974.3 1405.8,972.1 1408.3,964 1412.3,946.8 1413.8,942.7 1414.8,941.8 1415.8,942.6 1417.3,946.6 1421.3,963.8 1423.8,972.1 1426.3,976.6 1427.8,978 1429.8,978.9 1435.8,979.5 1446.8,979.2 1450.8,978.3 1453.3,976.6 1455.3,973.7 1456.8,970.2 1458.8,963.7 1463.3,946.4 1464.8,943.2 1465.8,942.5 1467.3,943.2 1470.3,946.9 1473.8,949.7 1475.3,951.5 1477.3,955.8 1482.8,971.1 1484.8,974.6 1487.3,976.8 1489.3,977.4 1491.8,977.1 1494.3,976.2 1499.8,973.1 1502.3,972.6 1505.3,973.5 1511.8,977.1 1515.8,978.3 1522.8,978.6 1538.3,978.2 1542.8,977.7 1545.8,976.6 1548.3,974.7 1553.3,969.3 1555.3,968.2 1557.3,968.5 1560.8,971 1562.3,971.7 1563.8,971.5 1564.8,970.6 1566.3,967.9 1567.8,963.1 1569.8,953.7 1573.8,930.9 1575.3,925.9 1575.8,925.2 1576.3,925.1 1577.3,926.3 1578.3,929.5 1582.8,951.5 1584.3,956.6 1585.3,958.8 1586.8,960.5 1590.3,960.8 1591.8,961.6 1593.3,963.4 1597.3,970.1 1599.3,972.8 1601.3,974.6 1603.8,975.7 1606.3,975.8 1608.3,975.4 1610.3,974.1 1611.8,972.4 1613.3,969.8 1614.8,966.2 1619.3,952.9 1620.3,950.8 1621.3,949.7 1622.3,949.6 1623.3,950.5 1627.8,960 1629.3,961.7 1630.3,961.8 1631.3,961.1 1632.3,959.5 1636.8,948.9 1638.3,947.6 1639.3,948 1640.8,950.8 1645.3,964.9 1647.8,970.8 1649.3,973.1 1650.8,974.5 1652.8,975.5 1654.8,976 1665.3,976.5 1690.8,976.4 1699.3,976.1 1708.3,975.2 1717.8,976.3 1723.3,976.5 1789.8,977.1 1793.3,976.6 1795.8,975.6 1797.8,974.3 1802.3,970.4 1803.8,969.6 1804.8,969.4 1805.8,969.6 1807.3,970.4 1813.8,976.1 1817.3,977.6"/>
<polyline fill="none" stroke="#000000" stroke-width="2.80" stroke-linejoin="round" points="165.8,1095.3 293.8,1093.9 311.3,1093.3 318.8,1092.4 320.8,1091.4 322.3,1089.7 323.8,1086.5 324.8,1083.2 326.8,1072.9 330.8,1043.8 331.8,1038.9 332.8,1036.9 333.3,1037.2 333.8,1038.3 334.8,1042.7 338.8,1071.7 340.8,1082.4 342.8,1088.3 344.3,1090.5 345.8,1091.6 349.8,1092.6 359.8,1093 407.3,1092.6 428.8,1091.6 434.8,1090.6 438.3,1089.4 439.8,1088.3 440.8,1087 442.3,1083.6 443.8,1077 445.3,1065.2 447.8,1029.8 451.8,950.9 452.8,939.1 453.3,936.1 453.8,935.4 454.3,936.9 455.3,946.3 460.3,1041.3 461.8,1061.7 463.3,1074.8 464.3,1080.3 465.3,1083.9 466.3,1086.2 467.3,1087.7 468.8,1089 470.8,1089.8 477.3,1091 490.3,1091.7 513.8,1091.8 652.3,1090.7 701.8,1089.8 712.8,1089.2 718.8,1088.3 721.3,1087 722.8,1085.3 724.3,1082.2 725.8,1076.7 728.3,1060.6 732.8,1020.4 733.8,1015.6 734.3,1014.6 734.8,1014.5 735.8,1017.3 736.8,1023.5 740.3,1055.3 742.3,1070.1 743.8,1077.1 744.8,1079.9 745.8,1081.4 746.8,1081.7 747.8,1080.9 748.8,1079 749.8,1076 751.8,1066.5 755.8,1042.7 756.8,1039.2 757.3,1038.4 757.8,1038.2 758.8,1039.8 759.8,1043.8 763.8,1068.4 765.8,1077.9 767.8,1083.6 769.8,1086.4 771.3,1087.4 773.8,1088.1 782.8,1088.6 801.3,1088.4 807.8,1087.9 812.3,1087.2 815.3,1085.9 817.3,1083.7 818.8,1080.4 820.3,1074.8 822.8,1058.8 827.3,1018.5 828.8,1011.1 829.3,1010.1 829.8,1009.9 830.8,1011.2 833.3,1018.5 834.3,1020.3 834.8,1020.6 835.8,1020 838.8,1014.9 839.3,1014.8 839.8,1015.4 840.3,1016.5 841.3,1020.9 842.3,1027.6 846.8,1064.9 849.3,1077.9 850.8,1082.1 852.8,1085.1 855.3,1086.6 858.8,1087.3 869.3,1088 887.8,1088.3 989.8,1087.6 1092.8,1085.5 1118.3,1084.4 1120.8,1084 1122.8,1083.2 1124.3,1082 1125.8,1080 1128.3,1074.3 1133.3,1057.5 1134.3,1055.5 1135.3,1054.9 1136.3,1055.6 1137.3,1057.7 1141.8,1072.8 1144.3,1079 1145.8,1081.1 1147.3,1082.4 1148.8,1083.2 1151.3,1083.7 1161.3,1083.9 1184.3,1083.6 1289.3,1081.6 1313.3,1080.9 1317.3,1080.3 1320.3,1078.9 1322.8,1076.6 1327.3,1071.3 1329.3,1070.3 1331.3,1071.1 1336.8,1077.1 1338.3,1078.3 1340.3,1079.3 1342.8,1079.8 1345.8,1079.9 1357.3,1079.2 1362.8,1078.3 1365.8,1076.6 1367.8,1073.9 1369.8,1068.3 1371.3,1061.2 1372.8,1050.9 1377.8,1004.7 1379.3,996.4 1379.8,995.3 1380.3,995.2 1381.3,997.6 1382.3,1003.3 1386.3,1040.1 1388.3,1055.5 1389.8,1063.2 1391.3,1067.6 1392.3,1068.7 1393.3,1068.5 1393.8,1067.9 1395.3,1064.1 1396.3,1059.8 1398.3,1046.8 1402.8,1007 1404.3,999 1404.8,997.9 1405.3,997.7 1406.3,1000 1407.3,1005.4 1412.3,1049.5 1414.8,1064.8 1416.3,1070.2 1418.3,1074.3 1420.3,1076.1 1423.3,1077.1 1431.8,1077.6 1440.3,1077 1442.3,1076.3 1443.8,1075.3 1445.3,1073.6 1446.3,1071.7 1448.3,1065.4 1449.8,1057.7 1455.3,1014.6 1456.8,1006.6 1457.8,1004.8 1458.3,1005 1458.8,1006.1 1460.3,1013.5 1464.8,1049.9 1466.3,1059.6 1467.8,1066.6 1469.3,1071.1 1470.8,1073.9 1472.8,1075.7 1475.8,1076.8 1484.8,1077.5 1501.3,1077.6 1526.3,1077.1 1535.8,1076.3 1538.3,1075.4 1540.8,1073.5 1542.8,1070.9 1547.3,1063.3 1548.8,1061.7 1549.8,1061.3 1550.8,1061.6 1551.8,1062.4 1556.8,1069.2 1558.3,1070.2 1559.3,1070.1 1560.3,1069.4 1561.3,1067.9 1563.3,1062.4 1565.3,1053.5 1569.3,1032 1570.8,1027.4 1571.3,1026.7 1571.8,1026.6 1572.8,1028 1574.3,1033.4 1579.8,1061.9 1581.3,1067 1582.8,1070.3 1584.8,1072.9 1586.3,1073.8 1587.8,1074.3 1590.8,1074.6 1594.3,1074.4 1596.8,1074 1598.8,1073.3 1600.8,1071.8 1602.3,1069.6 1603.8,1065.9 1604.8,1062.4 1607.3,1049.6 1611.8,1019.5 1613.3,1013.6 1614.3,1012.4 1614.8,1012.7 1615.8,1014.7 1619.3,1028.7 1620.3,1031.4 1621.3,1032.6 1622.3,1032.1 1623.3,1029.9 1627.3,1014.8 1628.3,1013.1 1628.8,1013.1 1629.3,1013.6 1630.3,1016.4 1631.3,1021.1 1635.8,1050.9 1638.3,1063 1639.8,1067.6 1641.3,1070.4 1643.3,1072.5 1645.3,1073.5 1650.8,1074.4 1661.8,1074.8 1697.3,1074.6 1817.3,1076.1"/>
<polyline fill="none" stroke="#000000" stroke-width="2.80" stroke-linejoin="round" points="165.8,1199.5 291.8,1199 308.8,1198.7 315.8,1198.2 317.3,1197.7 318.8,1196.8 320.3,1194.9 321.3,1192.9 323.3,1186.5 327.3,1168.6 328.3,1166 328.8,1165.5 329.3,1165.5 329.8,1166.1 330.8,1168.7 334.8,1186.6 336.8,1193 338.8,1196.3 340.3,1197.4 341.8,1198 347.3,1198.5 360.8,1198.8 414.3,1198.3 430.8,1197.3 435.8,1196.4 438.8,1195.2 440.3,1194 441.3,1192.6 442.3,1190.3 443.3,1186.7 444.8,1177.1 445.8,1166.7 447.8,1133.9 451.8,1040.2 452.8,1025.5 453.3,1021.8 453.8,1020.9 454.3,1022.8 455.3,1034.5 459.8,1137.5 461.3,1162.6 462.8,1178.5 464.3,1187.4 465.3,1190.8 466.8,1193.5 468.3,1194.9 469.8,1195.7 476.3,1197.1 485.8,1197.9 501.3,1198.3 575.3,1198.4 685.3,1197.9 702.8,1197.5 710.8,1196.7 713.3,1195.6 714.8,1194.1 716.3,1191.1 717.3,1188 719.3,1178.4 723.8,1147.2 724.8,1143.3 725.3,1142.4 725.8,1142.4 726.8,1144.7 727.8,1149.7 731.3,1174.7 733.3,1185.6 735.3,1191.8 736.3,1193.5 737.8,1194.9 739.8,1195.5 742.3,1194.9 743.8,1193.6 745.3,1191 747.8,1182.8 751.8,1163.4 752.8,1160.2 753.8,1159 754.8,1160 755.8,1163.1 759.8,1182.6 761.3,1188.4 763.3,1193.2 765.3,1195.5 766.8,1196.3 769.3,1196.8 778.3,1197.3 797.3,1197.1 808.3,1196.2 810.8,1195.4 812.8,1193.9 814.3,1191.4 815.8,1187.1 818.3,1173.5 822.8,1137.1 823.8,1132.3 824.3,1131 824.8,1130.6 825.3,1131 826.3,1133.8 829.3,1147.3 830.3,1149.5 830.8,1149.7 831.3,1149.4 832.3,1147 834.8,1136.2 835.8,1133.2 836.3,1132.6 836.8,1132.7 837.3,1133.6 838.3,1137.7 839.3,1144.3 843.3,1176.1 845.8,1188.3 847.3,1192.1 849.3,1194.6 851.8,1195.9 855.8,1196.5 872.3,1197.3 909.3,1197.5 1077.3,1197.1 1112.8,1196.6 1116.8,1195.9 1118.3,1195.2 1119.8,1193.8 1122.3,1189.8 1126.8,1179 1127.8,1177.5 1128.8,1177 1129.8,1177.5 1130.8,1178.9 1135.3,1189.6 1137.3,1193.1 1138.8,1194.7 1140.3,1195.6 1144.3,1196.5 1180.8,1196.8 1304.3,1196.3 1308.3,1196 1310.8,1195.5 1313.3,1194.4 1317.8,1191.6 1319.8,1191.1 1321.8,1191.7 1327.3,1194.8 1330.8,1195.8 1339.8,1196 1352.3,1195.4 1355.8,1194.8 1358.3,1193.5 1360.3,1190.9 1361.8,1187.2 1364.3,1176.4 1369.3,1144.8 1370.3,1141.3 1370.8,1140.5 1371.3,1140.4 1372.3,1142.2 1373.3,1146.4 1377.3,1172.4 1379.3,1182.6 1381.3,1188.9 1383.3,1191.9 1385.3,1192.9 1387.3,1192.3 1388.8,1190.8 1390.3,1187.9 1392.8,1179.4 1397.3,1157.5 1398.3,1154.4 1399.3,1153.2 1400.3,1154.1 1401.8,1158.8 1405.3,1176.5 1407.3,1184.9 1408.8,1189.1 1410.8,1192.5 1413.3,1194.3 1416.8,1195 1425.3,1195.3 1435.3,1195 1440.3,1194.4 1442.8,1193.2 1444.8,1191 1446.8,1186 1448.3,1179.6 1449.8,1170.4 1454.8,1130.8 1455.8,1126.7 1456.3,1125.7 1456.8,1125.7 1457.8,1128 1458.8,1133.3 1463.3,1169.7 1465.8,1183.8 1467.3,1188.7 1468.8,1191.6 1470.8,1193.5 1473.8,1194.6 1481.3,1195.3 1494.3,1195.6 1515.8,1195.6 1523.3,1195.1 1525.8,1194.3 1527.8,1193 1529.8,1190.8 1534.3,1184.5 1535.3,1183.7 1536.3,1183.4 1537.3,1183.7 1538.3,1184.5 1543.3,1191.2 1546.3,1193.7 1548.3,1194.5 1550.8,1194.8 1553.8,1194.7 1556.3,1194.2 1557.8,1193.5 1559.3,1192.2 1561.8,1187.8 1563.8,1181.7 1568.3,1164.2 1569.3,1161.8 1570.3,1160.9 1571.3,1161.6 1572.3,1163.8 1577.3,1182.9 1578.8,1187.3 1580.3,1190.3 1582.3,1192.6 1584.3,1193.6 1587.3,1193.9 1590.3,1193.4 1592.3,1192.3 1593.8,1190.5 1595.3,1187.6 1596.3,1184.7 1598.3,1176.3 1602.8,1151.2 1604.3,1146.3 1604.8,1145.6 1605.3,1145.5 1606.3,1147 1607.3,1150.3 1611.3,1168.6 1612.3,1171.4 1613.3,1172.6 1614.3,1172.1 1615.8,1168.6 1620.3,1150 1621.3,1148.2 1621.8,1148.1 1622.3,1148.5 1623.3,1150.8 1624.3,1154.7 1628.3,1176.3 1630.8,1186.1 1632.3,1189.7 1633.8,1192 1635.3,1193.2 1637.8,1194.2 1647.3,1195.1 1669.3,1195.4 1817.3,1195.3"/>
<rect x="164.80" y="91.50" width="1653.30" height="1210.20" fill="none" stroke="#000" stroke-width="4.80"/>
<path d="M164.80 1301.70V1325.80M247.47 1301.70V1313.50M330.13 1301.70V1325.80M412.79 1301.70V1313.50M495.46 1301.70V1325.80M578.12 1301.70V1313.50M660.79 1301.70V1325.80M743.45 1301.70V1313.50M826.12 1301.70V1325.80M908.78 1301.70V1313.50M991.45 1301.70V1325.80M1074.12 1301.70V1313.50M1156.78 1301.70V1325.80M1239.44 1301.70V1313.50M1322.11 1301.70V1325.80M1404.77 1301.70V1313.50M1487.44 1301.70V1325.80M1570.10 1301.70V1313.50M1652.77 1301.70V1325.80M1735.43 1301.70V1313.50M1818.10 1301.70V1325.80" stroke="#000" stroke-width="4.60" stroke-linecap="round" fill="none"/>
<text transform="translate(164.80 1386.80)" font-size="57.50" font-weight="normal" text-anchor="middle" style="white-space:pre">5</text>
<text transform="translate(330.13 1386.80)" font-size="57.50" font-weight="normal" text-anchor="middle" style="white-space:pre">6</text>
<text transform="translate(495.46 1386.80)" font-size="57.50" font-weight="normal" text-anchor="middle" style="white-space:pre">7</text>
<text transform="translate(660.79 1386.80)" font-size="57.50" font-weight="normal" text-anchor="middle" style="white-space:pre">8</text>
<text transform="translate(826.12 1386.80)" font-size="57.50" font-weight="normal" text-anchor="middle" style="white-space:pre">9</text>
<text transform="translate(991.45 1386.80)" font-size="57.50" font-weight="normal" text-anchor="middle" style="white-space:pre">10</text>
<text transform="translate(1156.78 1386.80)" font-size="57.50" font-weight="normal" text-anchor="middle" style="white-space:pre">11</text>
<text transform="translate(1322.11 1386.80)" font-size="57.50" font-weight="normal" text-anchor="middle" style="white-space:pre">12</text>
<text transform="translate(1487.44 1386.80)" font-size="57.50" font-weight="normal" text-anchor="middle" style="white-space:pre">13</text>
<text transform="translate(1652.77 1386.80)" font-size="57.50" font-weight="normal" text-anchor="middle" style="white-space:pre">14</text>
<text transform="translate(1818.10 1386.80)" font-size="57.50" font-weight="normal" text-anchor="middle" style="white-space:pre">15</text>
<text transform="translate(808.06 1471.60)" font-size="58.36" font-weight="bold" text-anchor="start" style="white-space:pre">Two theta (degree)</text>
<text transform="translate(107.10 965.40) rotate(-90)" font-size="59.14" font-weight="bold" text-anchor="start" style="white-space:pre">Intensity (Arb. Unit)</text>
<text transform="translate(1002.20 1549.50) scale(0.9600 1)" font-size="90.00" font-weight="bold" text-anchor="middle" style="white-space:pre">(a)</text>
<text transform="translate(1825.56 307.30)" font-size="43.08" font-weight="bold" text-anchor="start" style="white-space:pre">Released (F<tspan font-style="italic">dd2</tspan>)</text>
<text transform="translate(1829.98 425.60)" font-size="41.86" font-weight="bold" text-anchor="start" style="white-space:pre">3.93GPa</text>
<text transform="translate(1829.98 516.90)" font-size="41.86" font-weight="bold" text-anchor="start" style="white-space:pre">3.23GPa</text>
<text transform="translate(1826.83 590.70)" font-size="46.05" font-weight="bold" text-anchor="start" style="white-space:pre">2.74GPa (2.15GPa + heat)</text>
<text transform="translate(1825.11 645.00)" font-size="46.74" font-weight="bold" text-anchor="start" style="white-space:pre">(C<tspan font-style="italic">c</tspan>)</text>
<text transform="translate(1826.98 702.00)" font-size="41.73" font-weight="bold" text-anchor="start" style="white-space:pre">2.15GPa</text>
<text transform="translate(1829.55 773.70)" font-size="45.94" font-weight="bold" text-anchor="start" style="white-space:pre">1.44GPa (1.14GPa + heat)</text>
<text transform="translate(1827.64 829.60)" font-size="46.06" font-weight="bold" text-anchor="start" style="white-space:pre">(F<tspan font-style="italic">dd2</tspan>)</text>
<text transform="translate(1828.33 888.00)" font-size="41.39" font-weight="bold" text-anchor="start" style="white-space:pre">1.14GPa</text>
<text transform="translate(1826.61 996.70)" font-size="45.89" font-weight="bold" text-anchor="start" style="white-space:pre">0.88GPa (F<tspan font-style="italic">dd2</tspan> + F<tspan font-style="italic">dd2</tspan>)</text>
<text transform="translate(1826.77 1093.00)" font-size="41.79" font-weight="bold" text-anchor="start" style="white-space:pre">0.51GPa</text>
<text transform="translate(1827.26 1211.00)" font-size="43.17" font-weight="bold" text-anchor="start" style="white-space:pre">Ambient (F<tspan font-style="italic">dd2</tspan>)</text>
</g>
<g>
<polyline fill="none" stroke="#008000" stroke-width="3.20" stroke-linejoin="round" points="173.8,1831.8 231.3,1830.5 239.3,1829.7 249.3,1827.4 252.8,1826.9 256.3,1827.1 267.8,1829.2 276.8,1829.6 303.3,1828.9 312.3,1828.1 317.8,1827.2 320.8,1826.3 322.8,1825.2 324.8,1823.5 326.8,1820.9 328.8,1817.1 330.3,1813.5 336.3,1795.7 337.8,1793.3 338.8,1792.8 339.8,1793.5 341.3,1796.2 346.8,1812.5 349.8,1819.2 351.3,1821.5 353.3,1823.6 355.3,1825 357.3,1825.8 362.8,1826.8 371.3,1827.3 384.8,1827.3 400.3,1826.8 411.8,1826.1 421.8,1825.1 428.8,1823.8 433.8,1822.2 438.3,1819.7 440.3,1817.7 441.8,1815.7 444.3,1810.7 446.8,1802.8 449.3,1791.1 451.3,1778.6 458.3,1723.9 459.8,1716.2 460.8,1713.6 461.3,1713.2 461.8,1713.3 462.8,1715.4 464.8,1725.5 470.8,1773.1 473.8,1792.3 476.3,1803.6 479.3,1812.2 481.3,1815.8 483.3,1818.2 485.8,1820.2 488.8,1821.7 492.8,1823 497.8,1824 511.3,1825.4 528.8,1826.1 554.8,1826.3 641.3,1825.6 684.3,1824.4 696.8,1823.5 705.3,1822.3 709.3,1821.2 712.8,1819.5 715.8,1817.1 718.3,1814 720.8,1809.6 722.8,1805.2 730.8,1783.4 732.8,1780.1 734.3,1779.3 735.3,1779.6 736.8,1781.1 743.8,1794.6 745.8,1797.3 747.3,1798.5 748.8,1799.2 750.8,1799.2 757.3,1796.2 758.8,1795.9 760.3,1796.3 761.8,1797.1 763.8,1799 773.8,1812 776.3,1814.4 778.8,1816.2 782.8,1818.1 786.8,1818.9 791.8,1819.1 796.8,1818.5 801.8,1817 806.3,1814.7 810.3,1811.4 814.3,1806.6 817.8,1801 821.3,1794 830.3,1772.3 833.3,1765.7 836.3,1761.1 837.8,1759.8 839.3,1759.4 840.3,1759.6 841.8,1760.6 844.8,1764.7 847.8,1771 856.3,1791.8 859.8,1799.2 864.8,1807.4 867.3,1810.5 870.3,1813.5 873.3,1815.7 876.3,1817.3 879.8,1818.7 884.3,1819.9 895.3,1821.4 912.3,1822.3 942.8,1822.9 989.8,1823 1063.3,1821.1 1100.8,1819.7 1110.3,1818.8 1117.3,1817.3 1123.3,1814.9 1133.3,1809.4 1135.8,1808.5 1137.8,1808.3 1139.8,1808.4 1142.3,1809.2 1152.3,1814.1 1158.3,1816.1 1165.8,1817.3 1176.3,1817.6 1228.3,1816.5 1288.3,1814.3 1299.3,1813.6 1307.3,1812.6 1313.3,1811.3 1323.3,1808.3 1327.3,1807.6 1331.3,1807.6 1342.3,1808.9 1348.8,1808.7 1353.3,1807.7 1357.3,1805.9 1360.3,1803.6 1363.3,1800.1 1365.8,1796.1 1368.3,1790.9 1376.8,1769.6 1378.8,1766.3 1380.3,1765.1 1381.8,1765.1 1383.3,1766 1389.8,1774.3 1392.8,1776.6 1394.3,1777.1 1396.3,1776.9 1402.8,1774.7 1404.3,1774.8 1405.8,1775.4 1408.8,1778.2 1416.3,1788.8 1420.3,1793.3 1422.3,1794.8 1424.3,1795.8 1426.3,1796.3 1428.8,1796.2 1431.3,1795.4 1433.8,1793.9 1436.3,1791.7 1439.3,1788.4 1444.8,1780.2 1454.3,1762.6 1457.8,1756.8 1461.3,1752.9 1462.8,1752 1464.3,1751.7 1465.8,1752 1467.3,1752.8 1468.8,1754.1 1470.8,1756.5 1474.3,1762.2 1484.8,1781.3 1488.3,1786.5 1491.8,1790.8 1495.8,1794.5 1499.8,1797.1 1504.3,1798.9 1508.8,1799.8 1512.8,1800 1516.8,1799.9 1525.8,1798.3 1534.3,1795.8 1555.8,1788.2 1560.8,1785.9 1564.8,1783 1568.3,1779.6 1575.3,1771.3 1578.3,1768.8 1579.8,1768.3 1581.8,1768.3 1589.3,1771.1 1591.3,1771.2 1593.3,1770.9 1595.3,1770 1597.8,1768.1 1606.3,1759.1 1610.3,1756.1 1613.8,1755 1620.8,1754.4 1627.8,1753.3 1629.8,1753.6 1631.3,1754.3 1632.8,1755.7 1634.8,1758.4 1637.3,1763 1645.8,1781.4 1648.8,1786.6 1651.8,1790.6 1654.8,1793.7 1657.8,1795.8 1661.3,1797.5 1665.8,1798.9 1672.8,1799.9 1683.3,1800.7 1729.3,1802.5 1770.8,1803.7 1800.8,1796.9 1819.3,1795.8"/>
<polyline fill="none" stroke="#0000ff" stroke-width="3.20" stroke-linejoin="round" points="173.8,1943.7 247.3,1942.6 286.3,1941.8 308.8,1940.6 315.3,1939.9 320.3,1938.9 323.8,1937.5 326.8,1935.7 329.8,1932.8 332.3,1929.3 336.8,1920.4 345.8,1897 348.3,1892.9 349.3,1892.1 350.3,1891.8 351.3,1892.1 352.3,1893 354.8,1897.1 363.3,1919.1 367.3,1927.4 369.3,1930.5 371.8,1933.4 374.3,1935.4 376.8,1936.8 381.3,1938.2 386.8,1939 395.3,1939.5 407.3,1939.7 421.8,1939.5 434.8,1938.9 444.8,1938 451.3,1936.8 455.8,1935.1 459.3,1932.6 462.3,1928.9 465.3,1923 467.8,1916 470.3,1906.9 478.8,1869.4 480.8,1864 481.8,1862.6 482.8,1862.3 483.8,1862.9 484.8,1864.6 486.8,1870.5 494.3,1903.9 497.3,1915.1 500.3,1923.4 503.8,1929.7 505.8,1932 508.3,1934 510.8,1935.2 513.8,1936.2 522.8,1937.5 537.8,1938.3 580.8,1938.6 649.8,1937.7 686.8,1936.5 697.3,1935.8 704.8,1934.9 709.3,1933.8 713.3,1932.4 716.8,1930.5 719.8,1928.3 722.8,1925.6 726.3,1921.6 735.8,1908.4 738.8,1904.8 742.3,1902 745.3,1901.2 746.8,1901.4 748.8,1902.2 757.3,1907.7 761.8,1909.7 766.3,1910.3 775.8,1909.5 778.3,1909.8 780.8,1910.6 785.3,1913.3 796.8,1922.8 802.8,1926.9 806.3,1928.6 809.8,1929.9 813.3,1930.7 817.3,1931.1 821.8,1931 826.3,1930.1 830.8,1928.5 834.8,1926.2 838.3,1923.5 842.3,1919.6 852.8,1907.2 856.3,1903.5 859.8,1901 862.8,1900.2 864.3,1900.3 866.3,1901 869.8,1903.5 873.3,1907.1 884.8,1920.7 889.3,1924.9 893.8,1928 898.8,1930.4 904.3,1932 910.8,1933.1 919.3,1933.7 945.3,1934.3 989.8,1934.2 1111.3,1930.1 1125.3,1929.2 1135.3,1928.1 1143.8,1926.6 1159.8,1922.8 1166.8,1922 1174.3,1922.4 1195.3,1925.6 1210.8,1926.3 1232.8,1925.8 1273.3,1924.2 1310.8,1921.9 1320.3,1920.8 1328.8,1919.4 1347.8,1915.3 1362.8,1912.7 1370.3,1910.7 1376.3,1908.4 1382.3,1905.4 1400.3,1894 1405.3,1891.2 1410.3,1889.1 1414.8,1888.1 1420.3,1888.1 1426.3,1889.5 1431.8,1891.8 1446.3,1898.9 1454.3,1901.8 1457.8,1902.4 1461.3,1902.6 1464.3,1902.3 1467.3,1901.5 1470.8,1899.7 1473.8,1897.5 1476.8,1894.6 1479.8,1890.9 1482.8,1886.4 1486.3,1880.3 1496.8,1859.1 1500.3,1852.9 1502.3,1850 1504.3,1847.9 1506.3,1846.6 1507.8,1846.2 1509.8,1846.5 1511.8,1847.7 1513.8,1849.8 1515.8,1852.6 1519.3,1858.7 1530.8,1881.4 1534.8,1887.9 1538.3,1892.7 1541.8,1896.5 1545.8,1899.7 1549.8,1901.7 1553.8,1902.8 1558.3,1903.1 1562.8,1902.4 1567.3,1900.9 1572.3,1898.4 1577.8,1894.8 1591.3,1884.6 1603.3,1877.8 1607.3,1875.1 1611.8,1871.2 1620.8,1862.2 1625.3,1858.7 1635.8,1852.8 1644.8,1847.4 1647.8,1846.1 1650.3,1845.7 1652.3,1845.9 1654.3,1846.6 1656.3,1848 1658.3,1849.8 1662.8,1855.6 1673.8,1873.3 1679.8,1881.5 1683.3,1885.3 1686.3,1887.8 1689.3,1889.7 1692.8,1891.3 1696.3,1892.2 1699.8,1892.6 1713.3,1892.3 1720.3,1892.9 1726.3,1894.3 1746.8,1900.1 1754.3,1901.5 1761.8,1902.4 1770.3,1902.9 1781.3,1903.1 1819.3,1902.3"/>
<polyline fill="none" stroke="#0000ff" stroke-width="3.20" stroke-linejoin="round" points="173.8,2036.3 276.3,2034.7 294.3,2034 299.3,2033.4 303.3,2032.7 309.3,2030.4 318.8,2024.9 321.3,2024.1 327.3,2023.1 329.3,2022.2 330.8,2021 333.3,2018.2 335.8,2014 342.3,1999.5 344.3,1995.6 346.3,1993.3 347.8,1992.8 348.8,1993.2 349.8,1994 351.8,1997.2 359.3,2014.9 363.3,2022.5 365.3,2025.2 367.8,2027.8 370.3,2029.5 372.8,2030.6 377.3,2031.7 383.3,2032.4 405.3,2032.8 433.3,2032.1 443.3,2031.3 449.8,2030.3 454.3,2028.9 457.8,2026.8 460.8,2023.5 463.3,2019.3 465.8,2013.4 468.3,2005.6 476.3,1975.2 478.3,1970.5 479.3,1969.3 480.3,1969 481.8,1970.4 483.8,1975 491.3,2003.3 494.8,2014 496.8,2018.4 498.8,2021.8 500.8,2024.2 502.8,2025.8 506.8,2027.4 512.3,2027.8 518.3,2026.9 530.8,2024 537.3,2023.7 542.8,2024.6 554.8,2028.1 561.3,2029.6 568.8,2030.6 578.3,2031.1 613.3,2031.2 663.3,2030.4 690.3,2029.4 703.8,2028 710.8,2026.1 713.8,2024.7 716.8,2022.9 722.8,2017.6 731.3,2007.9 734.3,2004.9 737.3,2002.9 740.3,2002.1 743.3,2002.6 751.8,2006.3 756.3,2007.3 760.8,2007.1 770.8,2005 773.3,2004.9 775.8,2005.4 778.3,2006.2 781.3,2007.8 794.3,2016.9 800.8,2020.5 804.8,2021.9 808.3,2022.7 811.8,2023 815.8,2022.9 822.3,2021.3 828.8,2018.3 835.3,2013.7 846.3,2004.2 850.3,2001 854.3,1998.8 858.3,1997.9 861.8,1998.4 865.8,2000.3 869.8,2003.1 879.8,2011.8 884.8,2015.6 890.8,2019.1 896.3,2021.1 900.8,2021.9 905.3,2022.2 920.8,2021.1 927.3,2021.2 932.8,2022 950.8,2025.5 964.8,2026.8 982.8,2027.2 1008.3,2027.1 1072.3,2026.1 1112.3,2025.1 1130.8,2023.7 1153.3,2019.8 1160.3,2019.1 1167.8,2019.6 1189.3,2022.6 1205.3,2023.3 1231.8,2023 1276.3,2022 1309.3,2020.3 1324.3,2018.4 1347.3,2013.7 1365.3,2012.3 1373.3,2010.7 1378.8,2008.7 1384.3,2005.8 1399.8,1995.3 1403.8,1992.9 1407.8,1991.1 1411.3,1990.3 1415.8,1990.4 1420.8,1991.9 1425.3,1994.1 1437.3,2001 1444.8,2004.1 1448.3,2004.8 1451.8,2005.1 1455.3,2004.9 1458.8,2004 1462.3,2002.4 1465.3,2000.5 1468.3,1998.1 1471.8,1994.6 1478.8,1985.5 1490.8,1966.5 1495.3,1960.2 1497.8,1957.5 1499.8,1955.8 1502.3,1954.5 1504.3,1954.2 1506.3,1954.5 1508.3,1955.5 1510.3,1957 1512.8,1959.5 1517.3,1965.6 1527.3,1981.2 1532.3,1988.4 1537.8,1994.9 1543.3,1999.9 1549.3,2003.7 1556.3,2006.4 1564.3,2007.7 1572.8,2007.7 1579.3,2006.8 1584.8,2005.2 1589.8,2002.8 1594.3,1999.6 1598.8,1995.3 1603.8,1989.2 1608.3,1982.5 1618.8,1965.6 1624.3,1958.6 1628.3,1955 1633.3,1951.9 1638.8,1949.6 1643.3,1948.8 1645.3,1949 1647.3,1949.6 1650.8,1951.8 1654.3,1955.2 1664.3,1966.7 1667.8,1969.5 1670.8,1971.2 1674.8,1972.4 1684.8,1973.8 1694.8,1977.1 1699.8,1978.1 1702.8,1978.1 1705.8,1977.8 1718.3,1974.7 1721.8,1974.7 1725.3,1975.4 1728.8,1977 1732.8,1979.6 1746.8,1991.4 1753.3,1996.3 1759.8,2000.1 1766.3,2002.7 1774.8,2004.8 1784.8,2006 1798.3,2006.5 1819.3,2006.7"/>
<polyline fill="none" stroke="#0000ff" stroke-width="3.20" stroke-linejoin="round" points="173.8,2155.1 241.8,2154.2 278.3,2153.5 299.8,2152.4 306.3,2151.6 310.8,2150.8 314.3,2149.4 316.8,2147.8 319.3,2145.2 321.3,2142.3 324.8,2135 331.3,2117.4 332.8,2114.2 334.3,2111.9 335.8,2110.4 337.3,2109.6 344.8,2107 346.3,2106.8 347.8,2107.1 349.3,2108.1 351.8,2111.8 360.3,2132.6 362.8,2137.8 364.8,2141.2 366.8,2143.9 368.8,2146 370.8,2147.5 373.3,2148.8 377.8,2150.1 383.8,2150.9 393.3,2151.3 405.8,2151.4 420.3,2151.2 432.8,2150.5 441.8,2149.6 448.3,2148.4 452.8,2146.6 456.3,2144 459.3,2140.1 462.3,2133.9 464.3,2128.3 466.8,2119.4 475.3,2081.4 477.3,2075.5 478.3,2073.8 479.3,2073.1 480.3,2073.5 481.3,2074.9 483.3,2080.3 491.3,2115.5 494.8,2127.9 498.3,2136.2 500.3,2139.2 502.3,2141.3 504.3,2142.6 506.3,2143.3 508.3,2143.5 510.8,2143.3 515.8,2142 527.8,2137.4 530.8,2136.8 533.8,2136.8 536.3,2137.3 539.3,2138.3 551.3,2144.3 557.3,2146.7 563.8,2148.4 571.8,2149.5 583.3,2150 602.3,2150.1 658.3,2149.2 687.8,2147.9 696.3,2147 702.8,2145.8 706.8,2144.4 710.3,2142.6 713.8,2140 716.8,2136.9 719.3,2133.8 722.3,2129.2 733.3,2109.4 736.3,2105.8 737.8,2104.8 739.3,2104.4 741.3,2104.8 743.8,2106.6 755.3,2120.4 758.8,2123.6 762.8,2125.9 768.3,2127.5 778.8,2128.6 783.8,2129.4 802.3,2134.1 809.8,2134.9 813.8,2134.6 817.8,2133.8 821.8,2132.4 825.8,2130.4 829.8,2127.7 834.3,2124.1 847.3,2111.6 851.8,2107.8 856.8,2104.9 859.3,2104.3 861.3,2104.3 863.8,2105.1 866.8,2107.4 869.8,2110.7 877.3,2121 880.8,2125.3 884.8,2129 888.8,2131.3 891.8,2132.2 895.3,2132.4 907.8,2130.3 910.8,2130.2 913.8,2130.6 919.3,2132.4 933.3,2139.5 940.8,2142.4 949.8,2144.6 960.3,2145.7 989.8,2146.3 1043.3,2146 1094.3,2145 1100.8,2144.4 1112.3,2142.5 1122.8,2143.6 1127.8,2143.6 1133.3,2143 1138.3,2141.8 1143.3,2140.1 1153.3,2135.9 1156.3,2135.1 1158.8,2134.8 1161.3,2135 1164.3,2135.6 1175.3,2139.8 1181.3,2141.5 1187.3,2142.5 1194.3,2143 1211.8,2143.1 1247.3,2142.5 1279.8,2141.1 1300.3,2139.9 1311.8,2138.7 1321.3,2137 1328.8,2134.9 1342.8,2130 1347.8,2128.7 1353.3,2128.1 1366.3,2128.1 1370.3,2127.5 1373.8,2126.6 1378.3,2124.5 1383.3,2121.3 1387.8,2117.6 1396.8,2109.2 1400.8,2106.1 1404.3,2104.2 1407.3,2103.4 1411.3,2103.7 1415.3,2105.4 1419.3,2108 1429.3,2115.6 1435.8,2119.3 1439.3,2120.4 1442.3,2120.8 1445.3,2120.6 1448.3,2119.8 1451.3,2118.3 1454.8,2115.9 1461.8,2109 1473.8,2094.7 1487.3,2076.1 1491.8,2070.7 1496.3,2066.9 1498.8,2065.8 1500.8,2065.4 1503.3,2065.7 1505.8,2066.8 1508.3,2068.5 1511.3,2071.5 1516.3,2077.9 1531.8,2100.2 1537.3,2106.7 1542.3,2111.5 1547.8,2115.5 1553.3,2118.1 1558.8,2119.2 1561.3,2119.2 1563.8,2118.7 1566.8,2117.5 1569.3,2115.9 1572.3,2113.2 1574.8,2110.2 1579.3,2103 1588.3,2085.8 1590.3,2082.6 1592.3,2080.3 1594.3,2078.8 1596.3,2078.3 1598.8,2078.8 1603.3,2080.8 1605.8,2081.5 1608.3,2081.3 1610.3,2080.3 1612.3,2078.4 1614.8,2074.9 1623.8,2057.1 1625.8,2053.9 1627.8,2051.3 1629.8,2049.5 1631.8,2048.3 1637.8,2045.6 1644.3,2042.1 1647.3,2041.2 1649.3,2041.5 1650.8,2042.3 1652.3,2043.7 1654.3,2046.3 1657.8,2052.8 1666.3,2071 1670.8,2078.3 1672.8,2080.7 1674.8,2082.4 1676.8,2083.5 1679.3,2084 1681.8,2083.6 1684.3,2082.5 1686.8,2080.8 1689.8,2078 1695.3,2071.4 1709.8,2051.5 1713.3,2047.5 1716.8,2044.1 1720.3,2041.8 1723.8,2040.5 1726.8,2040.4 1730.3,2041.4 1732.8,2042.8 1735.3,2044.8 1740.8,2050.7 1746.3,2058.2 1759.8,2078.7 1766.3,2087.9 1773.8,2097 1780.8,2103.9 1788.8,2109.9 1793.3,2112.5 1797.8,2114.6 1802.8,2116.4 1807.8,2117.8 1819.3,2119.8"/>
<polyline fill="none" stroke="#008080" stroke-width="3.20" stroke-linejoin="round" points="173.8,2250.9 244.3,2249.9 279.8,2249 290.8,2248.4 299.3,2247.5 305.3,2246.4 309.3,2245 311.8,2243.4 314.3,2240.4 316.3,2236.6 318.3,2230.8 321.3,2218 327.3,2183.7 328.8,2177.8 329.8,2175.7 330.3,2175.3 331.3,2175.8 332.8,2179.6 339.3,2210.4 341.3,2217.2 342.3,2219.6 343.8,2222.1 344.8,2223 346.3,2223.7 351.8,2223.3 353.3,2223.7 354.8,2224.6 357.8,2227.8 365.8,2238.6 368.3,2241.2 371.3,2243.4 373.8,2244.7 376.8,2245.7 384.8,2246.8 406.3,2247.1 428.3,2246 435.3,2245.2 440.3,2244.2 443.8,2243 446.8,2241.2 449.3,2238.9 451.8,2235.4 453.8,2231.4 455.8,2226.3 459.3,2214.4 465.8,2187.7 467.3,2182.8 468.8,2179.2 470.3,2176.8 472.3,2175.2 480.8,2173.2 482.3,2173.6 483.8,2174.9 486.3,2179.7 488.8,2187.6 494.8,2211.1 497.8,2221.2 499.8,2226.5 501.8,2230.7 503.8,2233.8 505.8,2235.9 507.3,2237 509.3,2237.8 511.3,2238.1 513.8,2237.8 518.3,2236.1 528.3,2230.7 531.3,2230 533.8,2230 535.8,2230.6 538.3,2231.8 548.8,2239 554.8,2242.2 561.3,2244.2 569.3,2245.3 582.3,2245.9 605.8,2246 666.3,2245.1 681.8,2244.4 693.3,2243.6 701.3,2242.5 706.8,2241 710.3,2239.1 712.8,2236.8 715.3,2233.3 717.3,2229.4 721.3,2218 727.8,2192.7 729.8,2186 731.8,2181.6 732.8,2180.5 733.8,2180.1 735.3,2180.8 737.3,2183.2 754.8,2212.2 758.8,2217.3 762.8,2221.3 765.3,2223 768.3,2224.2 779.8,2225.5 789.3,2228.4 793.3,2229.2 796.8,2229.2 800.3,2228.5 813.3,2222.9 822.8,2220.9 826.8,2219.4 829.8,2217.5 832.8,2214.8 843.3,2202.7 845.8,2201 847.8,2200.6 850.3,2201.1 856.3,2204.4 859.3,2205.2 862.3,2205 869.3,2202.9 872.3,2203.1 874.3,2204.1 876.3,2205.7 885.8,2215.5 888.3,2217.4 891.3,2219 902.3,2222.2 918.8,2229.8 929.3,2234.2 936.3,2236.6 948.3,2239.7 961.8,2241.5 975.3,2242.1 993.3,2242.3 1041.8,2241.6 1085.8,2240.5 1092.8,2240.1 1097.3,2239.4 1100.8,2238.5 1107.3,2236.2 1110.3,2235.7 1113.3,2236.1 1121.8,2238.3 1128.8,2238.6 1138.3,2237.3 1153.8,2232.6 1159.3,2231.9 1164.8,2232.5 1175.3,2235.4 1180.3,2236.5 1186.3,2237.3 1192.8,2237.6 1210.3,2237.5 1246.8,2236.6 1282.8,2234.9 1292.3,2233.9 1310.3,2231.3 1327.8,2231.2 1333.8,2230.8 1339.8,2229.8 1345.3,2228 1351.3,2224.8 1356.8,2220.4 1362.8,2213.9 1375.8,2197.3 1379.8,2193.9 1381.8,2193 1383.3,2192.7 1386.3,2193 1389.3,2194.6 1392.3,2197.1 1401.8,2206.1 1404.8,2208.2 1407.8,2209.6 1410.3,2210.2 1413.3,2210.2 1416.3,2209.6 1423.3,2207.6 1427.3,2207.5 1431.3,2208.7 1439.3,2213.3 1442.3,2214.6 1445.3,2215.2 1448.3,2214.7 1451.3,2213 1454.8,2209.3 1465.3,2193 1467.8,2190.2 1472.8,2185.6 1475.8,2181.9 1485.8,2164.9 1487.8,2162.7 1489.8,2161.8 1491.8,2162.4 1494.3,2165.2 1496.8,2169.7 1505.3,2187.4 1508.3,2191.9 1511.3,2195.1 1513.3,2196.4 1515.3,2197.3 1522.8,2198.9 1525.8,2199.9 1536.3,2206.1 1539.8,2207.7 1543.8,2208.7 1547.8,2208.3 1550.8,2207.1 1553.8,2205.1 1556.8,2202.4 1559.8,2198.9 1565.8,2190.1 1579.3,2167.1 1582.8,2162.4 1585.8,2159.6 1588.8,2158 1591.8,2157.7 1595.3,2158.7 1601.3,2161.8 1603.8,2162.8 1606.8,2163.1 1609.3,2162.5 1611.8,2160.9 1614.3,2158.4 1623.3,2145.3 1626.8,2141.4 1630.3,2139.2 1640.3,2135.1 1642.8,2134.6 1645.3,2135.3 1647.8,2137.6 1656.3,2151.2 1660.3,2156.3 1665.3,2160.9 1671.8,2166 1677.3,2169.2 1692.3,2175.9 1695.8,2177.2 1701.3,2178 1712.3,2177.6 1715.3,2178.2 1718.3,2179.5 1721.3,2181.6 1724.8,2184.8 1737.3,2199.2 1742.8,2204.9 1748.8,2209.8 1754.8,2213.2 1759.3,2215 1763.8,2216.3 1774.8,2217.9 1791.8,2218.6 1819.3,2218.7"/>
<polyline fill="none" stroke="#008080" stroke-width="3.20" stroke-linejoin="round" points="173.8,2343.7 286.8,2342.2 302.8,2341.6 306.8,2341.2 309.3,2340.6 311.3,2339.5 312.8,2337.7 314.3,2334.7 315.3,2331.7 317.3,2322.9 321.8,2296.2 322.8,2292.5 323.8,2291.1 324.3,2291.3 324.8,2292.1 325.8,2295.4 330.3,2321.8 332.3,2330.8 333.3,2334 334.8,2337.2 336.3,2339 338.3,2340.2 342.3,2341 351.3,2341.3 392.3,2341.1 425.8,2340.2 434.3,2339.6 439.3,2338.7 441.8,2337.5 443.8,2335.4 445.3,2332.5 446.8,2327.8 448.3,2320.9 449.8,2311.7 454.3,2277.7 455.8,2270.4 456.8,2268.6 457.3,2268.7 457.8,2269.6 459.3,2275.8 463.8,2308.8 466.3,2322.6 467.3,2326.1 468.8,2329.1 469.8,2329.6 470.3,2329.5 471.3,2328.3 472.3,2325.9 473.3,2322.3 474.8,2314.2 480.8,2263.3 482.3,2255.3 482.8,2254.1 483.3,2253.8 483.8,2254.3 484.3,2255.6 485.3,2260.5 490.8,2308.3 492.3,2318.7 494.3,2328.2 496.3,2333.5 497.3,2335.1 498.8,2336.6 501.8,2338 507.3,2338.7 512.8,2338.6 520.8,2337.3 523.3,2337.6 530.3,2339 537.3,2339.3 644.8,2338.4 687.8,2337.5 698.3,2336.8 703.8,2336 706.3,2334.8 708.3,2332.9 709.8,2330.2 711.3,2326.1 713.8,2315.3 718.8,2285.9 720.3,2280.6 721.3,2279.4 721.8,2279.4 722.8,2280.9 726.3,2291.4 727.3,2293.4 728.3,2294.3 729.3,2294 730.3,2292.5 733.8,2284.5 734.8,2283.8 735.8,2284.7 736.8,2287.4 737.8,2291.4 743.3,2319.9 744.8,2324.9 746.8,2328.6 747.8,2329.5 748.8,2329.8 753.3,2328.4 755.3,2328.5 756.8,2329.4 761.3,2333.3 763.3,2334.6 766.3,2335.8 769.8,2336.2 788.3,2336.1 792.8,2335.7 795.3,2334.9 797.8,2333.2 799.8,2330.7 805.3,2319.6 806.8,2317.5 807.8,2316.8 808.8,2316.8 812.8,2320 813.8,2320.4 814.8,2320.3 816.8,2318.5 820.3,2313.2 821.8,2312.3 822.8,2312.6 823.8,2313.7 828.8,2322.7 830.3,2323.7 831.3,2323.4 832.8,2321.6 834.3,2318.2 839.8,2301.1 840.8,2299.4 841.8,2298.8 842.3,2298.9 843.3,2299.9 844.8,2303.3 849.3,2318.9 851.3,2324.7 853.3,2328.7 855.3,2330.9 856.3,2331.3 857.3,2331.2 858.3,2330.8 859.8,2329.4 861.8,2326.2 866.3,2316.6 867.8,2314.6 868.8,2314.2 869.8,2314.5 870.8,2315.6 877.3,2329 878.8,2331.1 880.8,2332.8 882.3,2333.4 884.3,2333.4 890.8,2330.6 892.8,2330.3 895.3,2331 901.8,2334.3 907.3,2335.2 989.8,2334.7 1085.3,2332 1089.8,2331.4 1092.8,2330.2 1095.3,2328.4 1099.8,2323.8 1101.3,2322.8 1102.3,2322.6 1103.3,2322.7 1104.8,2323.4 1109.8,2328.1 1112.3,2329.8 1115.8,2330.9 1120.3,2331.2 1134.3,2330.8 1139.8,2330.2 1143.3,2328.8 1149.3,2324.2 1151.8,2323.2 1154.3,2323.9 1159.3,2327.6 1161.8,2328.9 1164.8,2329.7 1169.3,2330 1246.8,2328.2 1282.8,2326.7 1286.8,2326.3 1289.8,2325.5 1292.3,2324.4 1297.3,2321.3 1299.8,2320.6 1301.8,2321 1307.8,2324 1311.8,2325.1 1318.3,2325.3 1330.8,2324.5 1334.8,2323.8 1337.8,2322.5 1340.3,2320.4 1342.3,2317.6 1348.3,2306.3 1353.3,2299.9 1354.8,2297.1 1356.8,2291.5 1360.8,2277.3 1362.3,2274.1 1363.3,2273.5 1364.3,2274.1 1365.3,2275.6 1368.8,2283.5 1370.3,2285.9 1371.8,2287.3 1374.8,2289 1376.8,2291.5 1378.8,2295.9 1383.8,2309.9 1386.8,2315.9 1388.3,2317.8 1390.3,2319.3 1392.3,2320 1394.8,2320.1 1398.8,2319.1 1402.8,2317.1 1406.8,2314.1 1416.3,2305.7 1418.8,2304.1 1421.3,2303.3 1423.8,2303.4 1426.8,2304.6 1436.3,2311.7 1439.8,2313.6 1441.3,2313.9 1442.8,2313.8 1444.8,2312.2 1446.3,2309.6 1447.3,2306.9 1449.3,2298.6 1451.3,2286.2 1455.8,2252.2 1457.3,2244.9 1458.3,2242.9 1458.8,2242.9 1459.3,2243.6 1460.8,2249.2 1465.3,2281.2 1467.3,2293.1 1468.8,2298.8 1470.3,2301.7 1470.8,2302 1471.8,2301.8 1472.8,2300.5 1473.8,2298.3 1475.8,2291.8 1481.3,2269.5 1482.8,2265.9 1483.8,2264.8 1484.3,2264.7 1484.8,2264.9 1485.8,2266.2 1487.3,2270.1 1493.3,2295.1 1495.3,2302 1497.3,2306.8 1499.3,2309.6 1500.3,2310.2 1501.3,2310.4 1502.3,2310.2 1503.8,2309.1 1506.3,2305.9 1512.3,2295.6 1514.3,2293.5 1515.8,2293 1517.3,2293.5 1518.8,2295 1524.8,2304.5 1526.3,2306.4 1527.8,2307.6 1530.3,2308.3 1534.8,2307.1 1536.8,2307.2 1538.8,2308.3 1543.3,2312 1545.3,2313.3 1547.3,2314.1 1549.8,2314.3 1552.8,2313.4 1555.3,2311.1 1557.3,2307.4 1559.3,2301.2 1560.8,2294.2 1562.8,2281.7 1568.8,2233.9 1570.3,2226.6 1571.3,2224.4 1571.8,2224.2 1572.3,2224.7 1573.3,2227.5 1574.8,2235.5 1579.8,2275.1 1582.8,2293.4 1584.3,2299.3 1585.8,2303.2 1587.3,2305.4 1588.8,2306.4 1590.8,2306.1 1593.3,2304.1 1595.8,2300.5 1598.3,2295.4 1600.8,2288.9 1603.3,2281 1611.3,2250.7 1614.3,2240.7 1615.8,2236.9 1617.3,2234 1618.8,2232.4 1620.3,2231.9 1621.8,2232.7 1623.8,2235.4 1629.8,2248 1636.3,2259.3 1638.8,2266.7 1643.8,2287.5 1645.8,2294.7 1648.3,2300.8 1649.8,2302.9 1651.3,2304 1652.8,2304.3 1656.8,2303.8 1658.8,2304 1660.8,2305.1 1667.8,2310.6 1670.8,2311.8 1674.3,2312.3 1679.3,2312.3 1683.8,2311.5 1687.3,2310 1693.8,2306.1 1696.8,2305.2 1699.8,2306 1706.3,2310 1709.3,2311.5 1712.8,2312.4 1716.8,2312.9 1738.3,2313.6 1771.3,2313.9 1778.8,2313.5 1789.3,2311.9 1793.3,2311.6 1797.3,2312 1809.3,2314.1 1819.3,2314.6"/>
<polyline fill="none" stroke="#008080" stroke-width="3.20" stroke-linejoin="round" points="173.8,2505 284.8,2503.9 300.8,2503.3 304.8,2502.9 307.3,2502.3 308.8,2501.5 310.3,2500 311.8,2497.1 312.8,2494.2 315.3,2482.4 319.3,2456.6 320.3,2452.6 321.3,2451.1 321.8,2451.4 322.3,2452.5 323.3,2456.4 327.3,2482.1 329.3,2492.1 330.3,2495.5 331.8,2499 333.3,2500.9 334.8,2501.9 338.3,2502.7 346.3,2503.1 383.3,2503 391.8,2502.5 400.8,2499.9 402.8,2500.1 409.3,2502 413.8,2502.3 429.3,2501.5 433.8,2500.8 436.8,2500 439.3,2498.4 441.3,2495.9 443.3,2491.2 444.8,2485.7 447.3,2472.2 452.3,2436.6 454.3,2427.9 455.3,2426.5 455.8,2426.5 456.8,2428 460.3,2439.7 461.3,2442.1 462.3,2443 462.8,2442.8 463.8,2441.1 465.8,2432 470.8,2396.3 471.8,2392.2 472.8,2390.7 473.3,2390.9 474.3,2393.6 475.8,2402.4 482.3,2463.5 484.3,2477.5 486.8,2488.9 489.3,2495.1 490.8,2497.1 492.8,2498.7 494.8,2499.6 497.8,2500.3 507.3,2501.2 520.8,2501.6 541.8,2501.8 603.3,2501.2 606.8,2500.9 609.8,2500.1 612.8,2498.7 618.3,2495.4 620.8,2494.8 623.3,2495.4 628.8,2498.6 631.8,2499.9 634.8,2500.6 638.3,2500.9 661.8,2500.8 684.3,2500.2 695.3,2499.3 698.8,2498.7 700.8,2497.9 702.3,2496.9 703.3,2495.7 704.8,2492.8 706.3,2487.6 707.3,2482.4 709.8,2461.3 714.3,2405.8 715.8,2394.9 716.3,2393.5 716.8,2393.4 717.8,2396.9 718.8,2404.9 723.8,2462 724.8,2469.2 726.3,2475.5 727.3,2476.9 728.3,2476.3 729.3,2474.5 732.3,2466.7 733.3,2465.3 734.3,2465.4 735.3,2467 736.3,2469.9 740.8,2487.5 743.3,2494 744.8,2496.3 746.8,2497.9 749.3,2498.8 753.3,2499.2 769.8,2499.6 789.8,2499.1 796.8,2498.4 799.3,2497.6 801.3,2496.6 804.3,2493.8 806.8,2489.8 809.3,2484.2 814.3,2470.9 816.8,2465.9 818.8,2463.4 823.3,2459.4 825.3,2456.6 829.8,2448.9 831.3,2447.3 832.3,2447.1 833.8,2448 835.8,2451.6 843.3,2476.1 845.3,2480.9 846.8,2483.1 848.3,2484.2 849.8,2484.1 851.8,2482.4 855.8,2477.6 857.3,2476.8 858.3,2476.9 859.3,2477.5 860.8,2479.4 866.3,2490 868.8,2493.8 871.8,2496.4 874.8,2497.4 878.3,2497 884.3,2493.9 886.3,2493.5 888.3,2494 893.3,2497 895.8,2498 899.3,2498.7 904.3,2498.9 989.8,2498.5 1080.8,2496.6 1086.8,2496.1 1090.8,2495.2 1093.8,2493.7 1099.8,2489.2 1102.3,2488.4 1104.8,2488.9 1110.3,2492.4 1113.3,2493.4 1115.3,2493.3 1119.8,2491.9 1121.8,2491.6 1123.8,2491.9 1127.8,2493.2 1130.3,2493.3 1132.8,2492.5 1137.3,2490 1139.3,2489.7 1141.3,2490.2 1145.8,2493 1148.3,2494.1 1150.8,2494.7 1153.8,2495 1246.8,2493.3 1275.3,2491.5 1283.3,2490.8 1287.8,2489.3 1294.3,2484.7 1296.8,2483.9 1299.3,2484.6 1305.3,2488.1 1309.3,2489 1317.3,2488.8 1339.8,2487 1344.3,2486 1347.3,2484.3 1349.8,2481.2 1351.8,2476.7 1353.8,2469.7 1355.3,2462.6 1361.8,2422.7 1363.3,2417 1364.3,2415.3 1364.8,2415.1 1365.3,2415.4 1366.3,2417.5 1367.8,2423.5 1372.8,2454.3 1375.3,2466.9 1377.3,2473.3 1379.3,2476.6 1380.3,2477.1 1381.8,2476.9 1386.8,2472.2 1387.8,2471.7 1388.8,2471.7 1390.8,2473 1395.3,2478.1 1396.8,2479 1398.3,2478.9 1399.3,2478.3 1400.8,2476.6 1405.8,2468.9 1406.8,2468.1 1407.8,2467.8 1408.8,2468.1 1409.8,2469.1 1415.8,2479.1 1417.8,2481.5 1419.8,2483 1422.3,2483.9 1425.3,2484.2 1435.8,2483.6 1439.3,2482.8 1441.8,2481.4 1443.8,2479.4 1445.8,2475.9 1448.8,2467.1 1454.3,2444.2 1455.8,2440 1456.8,2438.5 1457.8,2438.3 1459.3,2440.2 1463.3,2451.5 1464.8,2454.4 1465.8,2455 1466.3,2454.8 1467.3,2453.3 1468.8,2448.3 1470.3,2440 1475.3,2403.5 1476.8,2397.1 1477.8,2395.8 1478.8,2397.2 1480.3,2403.7 1485.3,2442.4 1487.3,2455 1488.8,2461.3 1489.8,2464 1490.8,2465.5 1491.8,2466.2 1492.8,2466.1 1496.8,2463 1497.8,2462.6 1498.8,2462.8 1500.8,2464.2 1505.3,2468.9 1507.8,2470.3 1510.3,2470.6 1515.8,2470.4 1518.8,2470.8 1522.3,2471.9 1531.3,2476 1535.8,2477.6 1540.8,2478.5 1545.8,2478.4 1549.3,2477.4 1552.3,2475.1 1554.8,2471.2 1557.3,2464.8 1559.3,2457.2 1561.3,2447.5 1567.8,2409.3 1569.3,2402.9 1570.8,2399.2 1571.3,2398.6 1572.3,2398.5 1573.8,2400.8 1575.3,2405.5 1579.8,2423.2 1580.8,2425.8 1581.8,2427.4 1582.3,2427.8 1583.3,2427.9 1584.3,2426.9 1585.3,2425.1 1588.8,2416.2 1590.3,2413.7 1591.8,2413 1594.3,2414.5 1595.3,2414.8 1596.3,2414.1 1596.8,2413.4 1598.8,2407.2 1602.8,2386.7 1603.8,2383.5 1604.3,2382.8 1604.8,2382.7 1605.8,2384.7 1607.3,2392.5 1612.3,2434.9 1613.8,2444 1614.8,2447.9 1615.3,2449.1 1616.3,2450.2 1616.8,2450.1 1617.8,2448.8 1619.3,2444.4 1622.8,2431.2 1624.3,2428.2 1624.8,2427.9 1625.3,2428.1 1626.3,2429.7 1627.8,2434.8 1632.3,2457.2 1634.8,2466.8 1636.3,2470.6 1637.8,2473.2 1639.3,2474.7 1641.3,2475.8 1644.8,2476.3 1648.8,2475.5 1652.3,2473.6 1658.8,2468.7 1660.3,2468 1661.8,2467.8 1663.3,2468.1 1664.8,2468.8 1672.3,2474.3 1674.3,2475.2 1676.8,2475.8 1679.3,2475.7 1681.8,2475.1 1690.8,2470.4 1692.8,2469.8 1694.3,2469.7 1697.3,2470.6 1703.3,2474.3 1706.8,2476 1710.3,2477 1714.3,2477.6 1740.8,2479.2 1761.3,2479.9 1767.3,2479.3 1776.8,2476.6 1780.3,2476.1 1783.8,2476.8 1791.8,2480 1793.3,2480.5 1794.3,2480.5 1799.8,2479.7 1809.3,2477.3 1819.3,2465"/>
<polyline fill="none" stroke="#008080" stroke-width="3.20" stroke-linejoin="round" points="173.8,2615.5 275.8,2615 301.3,2614.6 304.8,2614.1 307.3,2613 309.3,2611.4 313.3,2607 315.3,2605.9 316.3,2606 317.3,2606.5 322.3,2611.7 324.8,2613.2 328.3,2614 333.3,2613.7 335.3,2613 336.8,2611.9 338.3,2609.9 339.3,2607.9 341.3,2601.9 345.8,2583.2 346.8,2580.8 347.8,2580.1 348.8,2581.3 349.8,2584.1 353.8,2600.9 355.8,2607.3 356.8,2609.5 358.3,2611.7 359.8,2612.9 361.3,2613.5 365.8,2614.1 376.8,2614.3 424.8,2614 442.8,2613.2 448.3,2612.4 451.3,2611.5 452.8,2610.5 453.8,2609.4 455.3,2606.6 456.8,2601.3 458.3,2592.2 460.8,2565.3 465.3,2496.6 466.3,2487.8 466.8,2485.6 467.3,2485 467.8,2486.2 468.3,2489 469.3,2498.8 474.3,2574.2 475.8,2589.6 477.3,2599.7 479.3,2607 481.3,2610.1 482.8,2611.2 484.8,2612 492.3,2613.1 509.3,2613.7 545.3,2613.9 663.3,2613.4 697.8,2612.9 701.8,2612.2 704.8,2610.5 707.3,2607.3 711.8,2599.2 712.8,2598 713.8,2597.5 714.8,2597.7 715.8,2598.6 720.8,2607.2 723.3,2610.1 724.8,2611.1 726.8,2611.7 731.3,2611.7 733.3,2611 735.3,2609.4 736.8,2607 737.8,2604.7 740.3,2595.5 744.8,2573.1 745.8,2570.2 746.8,2569.2 747.8,2570.3 748.8,2573.2 753.3,2595.5 755.3,2603.2 757.3,2607.8 758.3,2609.2 759.8,2610.4 761.3,2610.9 763.3,2611 764.8,2610.5 766.3,2609.4 768.8,2606.3 773.8,2596.9 774.8,2595.9 775.8,2595.6 776.8,2596.1 777.8,2597.3 781.8,2605.1 783.8,2608.3 785.3,2609.9 787.3,2611.2 790.3,2612 795.3,2612.2 806.8,2612 813.3,2611.5 816.8,2610.1 818.3,2608.8 819.8,2606.7 821.8,2602.5 826.3,2590 827.8,2587.2 829.3,2586.1 832.3,2586 833.8,2584.1 835.8,2577.1 840.3,2551.5 841.3,2548.2 841.8,2547.4 842.3,2547.2 842.8,2547.6 843.8,2549.7 846.8,2560.1 848.3,2563 848.8,2563.3 849.8,2562.9 852.8,2558.6 853.8,2558.6 854.3,2559.2 855.3,2561.8 856.3,2566 860.8,2592.3 862.3,2599.2 863.8,2604.1 865.3,2607.2 867.3,2609.5 869.8,2610.8 873.3,2611.4 885.3,2612.1 904.8,2612.2 909.8,2611.9 918.3,2610.3 926.8,2611.9 931.8,2612.2 989.8,2612.2 1101.3,2610.7 1107.3,2610.3 1114.3,2608.7 1116.8,2608.4 1126.3,2609.9 1133.3,2609.8 1135.8,2609.4 1137.8,2608.5 1139.3,2607.4 1140.8,2605.5 1143.3,2600.3 1148.3,2584.7 1149.8,2581.9 1150.8,2581.4 1151.8,2582.2 1152.8,2584 1157.8,2599.4 1160.3,2604.9 1161.8,2606.9 1163.3,2608.1 1165.3,2609 1167.8,2609.4 1188.3,2609.7 1254.8,2608.9 1312.8,2608 1332.3,2607.2 1335.8,2606.4 1338.8,2604.6 1345.8,2596.7 1347.8,2595.3 1350.8,2594.2 1352.3,2593.3 1353.8,2591.8 1357.3,2587.1 1358.3,2586.2 1359.3,2585.9 1360.3,2586.3 1361.8,2588.2 1366.3,2597.7 1368.8,2601.7 1371.3,2603.8 1372.8,2604.3 1374.3,2604.3 1376.8,2603.3 1379.3,2600.7 1381.3,2596.6 1382.8,2591.8 1385.8,2577.2 1391.3,2541.7 1392.8,2535.4 1393.8,2533.4 1394.3,2533.2 1394.8,2533.5 1395.8,2535.5 1397.3,2541.8 1402.3,2573.4 1404.3,2583.7 1405.8,2589.2 1407.8,2593.3 1408.8,2594.2 1409.8,2594.3 1410.8,2593.8 1412.3,2592.1 1414.3,2588.3 1420.8,2572.6 1422.8,2570.2 1424.3,2569.9 1425.8,2571.2 1427.3,2573.7 1434.3,2591.6 1436.3,2595.8 1438.3,2598.9 1440.3,2601.1 1442.8,2602.7 1445.8,2603.6 1448.8,2603.7 1451.8,2602.9 1454.3,2601.1 1456.3,2597.9 1458.3,2592.3 1459.8,2585.9 1461.8,2574.2 1467.8,2530.3 1469.3,2523.8 1470.3,2521.5 1471.3,2520.8 1472.3,2521.5 1473.3,2523.4 1475.8,2532.7 1482.8,2577.5 1485.8,2591.5 1487.3,2596.1 1489.3,2600 1491.3,2602.1 1494.3,2603.4 1498.3,2603.3 1504.8,2601.1 1507.3,2600.7 1509.3,2601 1515.8,2603.8 1519.3,2604.6 1524.8,2604.9 1535.8,2604.8 1548.3,2604.1 1551.3,2603.3 1553.8,2601.9 1556.8,2599 1561.8,2592.1 1563.8,2590 1565.8,2589 1569.3,2589.3 1570.8,2589.1 1572.3,2587.9 1573.3,2586.3 1574.8,2582.5 1576.8,2574.7 1583.3,2540.2 1584.8,2536 1585.8,2535.1 1586.8,2535.9 1588.3,2540 1594.3,2569.9 1595.8,2575.6 1597.3,2579.6 1599.3,2582.5 1603.3,2584.3 1604.8,2585.5 1610.8,2593.7 1612.3,2595.1 1613.3,2595.6 1614.8,2595.7 1616.3,2594.7 1618.8,2590.6 1621.3,2583.6 1627.8,2560.4 1629.8,2556.4 1630.3,2555.9 1631.3,2555.7 1632.3,2556.3 1633.3,2557.7 1637.3,2565.9 1639.3,2568.2 1640.3,2568.5 1641.3,2568.2 1645.3,2564.8 1646.3,2564.9 1647.3,2565.9 1649.3,2570.6 1654.3,2586.7 1655.8,2589.9 1657.3,2591.9 1658.8,2593 1663.3,2595.3 1670.3,2601 1672.3,2602 1674.8,2602.7 1680.8,2603.3 1696.3,2603.4 1705.8,2603.2 1716.3,2602 1725.8,2603 1731.8,2603.2 1802.8,2602.5 1819.3,2595.5"/>
<polyline fill="none" stroke="#000000" stroke-width="2.80" stroke-linejoin="round" points="173.8,2714.4 301.8,2713.5 319.3,2713.1 326.8,2712.2 328.8,2711.2 330.3,2709.6 331.8,2706.8 332.8,2703.9 334.8,2695.2 339.3,2667.9 340.3,2664.2 340.8,2663.3 341.3,2663 342.3,2664.5 343.3,2668.4 347.3,2693 349.3,2702.5 350.3,2705.7 351.8,2708.9 353.3,2710.7 354.8,2711.7 358.8,2712.5 368.3,2712.9 413.3,2712.8 437.3,2712 444.3,2711.3 448.3,2710.3 450.8,2708.6 452.8,2705.2 454.3,2700 455.8,2691 458.3,2664.5 462.8,2598.3 463.8,2590.1 464.3,2588.2 464.8,2587.9 465.8,2592.2 466.8,2602 471.8,2674.9 473.3,2689.5 474.8,2699.1 476.8,2705.9 478.8,2708.8 480.3,2709.8 482.3,2710.5 488.8,2711.5 501.8,2712.1 525.8,2712.3 660.3,2711.6 702.8,2710.9 713.3,2710.3 718.8,2709.5 721.3,2708.4 723.3,2706.5 725.3,2703 726.8,2698.8 729.8,2684.9 735.3,2649.7 736.8,2644.2 737.8,2643.1 738.8,2644.2 740.3,2649.7 745.3,2681.5 747.3,2691.9 749.3,2698.9 750.3,2701 751.3,2702.3 752.3,2702.7 753.8,2701.9 755.8,2698 757.8,2690.9 762.3,2670 763.8,2665.8 764.8,2665 765.8,2666 767.3,2670.4 771.8,2691.9 773.8,2699.5 775.8,2704.5 778.3,2707.7 780.3,2708.8 782.3,2709.4 790.3,2709.9 806.8,2709.7 813.3,2709.2 817.3,2708.6 820.3,2707.3 822.3,2705.3 824.3,2701.1 825.8,2695.5 828.3,2679.9 833.3,2634.9 834.8,2626.7 835.8,2624.9 836.3,2625.1 837.3,2627.4 840.3,2640.8 841.3,2644 842.3,2645.6 842.8,2645.7 843.8,2644.6 846.3,2638.5 847.3,2636.9 847.8,2636.8 848.3,2637.3 848.8,2638.4 849.8,2642.3 850.8,2648.3 855.8,2686.6 858.3,2698.8 859.8,2703.1 861.8,2706.3 864.3,2708 867.8,2708.9 878.3,2709.7 895.3,2709.9 900.3,2709.6 908.8,2708 916.8,2709.6 920.3,2709.9 943.3,2710 1087.8,2709.1 1113.3,2708.7 1124.3,2708.2 1126.8,2707.7 1128.8,2706.9 1130.3,2705.7 1131.8,2703.7 1134.3,2698.2 1139.3,2681.9 1140.8,2679 1141.8,2678.5 1142.8,2679.3 1143.8,2681.2 1148.8,2697.4 1151.3,2703.2 1152.8,2705.2 1154.3,2706.5 1156.3,2707.4 1158.3,2707.8 1169.8,2708.2 1198.8,2708.2 1282.3,2707.4 1316.8,2706.8 1321.3,2706.3 1324.3,2705.3 1326.8,2703.8 1331.3,2700 1333.8,2699 1335.8,2699.5 1341.3,2703.7 1344.8,2705.3 1349.3,2705.7 1356.8,2705.3 1362.3,2704.3 1364.3,2703.5 1365.8,2702.4 1368.3,2699.2 1370.8,2692.8 1372.8,2684.4 1374.8,2672.5 1381.3,2623.5 1382.8,2617.1 1383.8,2615.5 1384.3,2615.6 1384.8,2616.2 1386.3,2621.4 1387.8,2630.5 1393.8,2675.1 1395.8,2684.7 1397.8,2690.2 1398.8,2691.4 1399.8,2691.5 1400.8,2690.8 1402.3,2687.9 1404.3,2681.4 1409.3,2659.7 1410.8,2655.5 1411.8,2654.2 1412.3,2654 1413.3,2654.9 1414.8,2658.6 1420.8,2685.3 1422.8,2692.3 1424.3,2696.2 1426.3,2699.6 1428.8,2701.8 1431.8,2702.8 1435.8,2702.8 1438.3,2702.3 1440.3,2701.5 1442.3,2700.1 1443.8,2698.6 1446.8,2693.7 1449.3,2687 1451.3,2679.3 1453.8,2666.8 1462.3,2613.6 1464.3,2605.9 1465.3,2603.9 1466.3,2603.3 1467.3,2604.1 1468.3,2606.2 1470.3,2614.2 1478.3,2664.7 1480.8,2677.7 1482.8,2685.8 1485.3,2693 1487.8,2697.7 1489.3,2699.5 1491.3,2701.2 1495.3,2703 1501.8,2704 1514.3,2704.5 1531.3,2704.5 1538.3,2703.8 1540.8,2702.7 1542.8,2700.8 1544.8,2697.7 1548.8,2689.6 1550.3,2687.7 1551.3,2687.5 1552.3,2688 1553.3,2689.3 1557.3,2696.9 1559.3,2699.7 1560.3,2700.6 1561.8,2701.3 1563.3,2701.2 1564.3,2700.8 1565.8,2699.5 1567.3,2697.2 1569.8,2690.8 1572.3,2680.5 1577.8,2651.5 1579.3,2646.6 1580.3,2645.1 1580.8,2645.1 1581.8,2646.1 1583.3,2650.6 1589.3,2681.5 1592.3,2692.5 1593.8,2695.9 1595.8,2698.6 1597.8,2699.6 1599.3,2699.6 1600.3,2699.1 1601.8,2697.8 1603.3,2695.5 1604.8,2692.1 1606.3,2687.4 1609.3,2673.6 1614.8,2642.1 1616.3,2636.5 1617.3,2634.5 1617.8,2634.1 1618.8,2634.6 1620.3,2638.1 1624.8,2657.1 1625.8,2660.1 1626.8,2661.8 1627.8,2662 1628.8,2660.8 1633.3,2647.4 1633.8,2646.8 1634.3,2646.7 1635.3,2648.3 1636.8,2654.5 1640.8,2680.5 1643.3,2692.6 1644.3,2695.8 1645.8,2699 1647.8,2701.3 1649.8,2702.3 1653.3,2703.1 1659.3,2703.6 1681.3,2704.1 1819.3,2703.5"/>
<polyline fill="none" stroke="#000000" stroke-width="2.80" stroke-linejoin="round" points="173.8,2822.5 298.8,2822.2 315.8,2822 323.3,2821.5 325.3,2821.1 326.8,2820.2 328.3,2818.7 329.3,2817 331.3,2811.8 334.8,2799.7 335.8,2797.5 336.8,2796.7 337.8,2797.6 338.8,2800 342.3,2812.1 344.3,2817.2 346.3,2819.9 347.8,2820.9 349.3,2821.3 354.8,2821.8 367.8,2821.9 422.8,2821.6 438.8,2820.8 443.8,2820.1 446.8,2819.1 448.3,2818 449.3,2816.8 450.8,2813.4 452.3,2806.6 453.3,2799.3 455.8,2767.4 459.3,2703.5 460.3,2690.9 461.3,2685.6 461.8,2686.2 462.3,2688.8 463.3,2699.9 467.8,2779.1 469.3,2797 470.8,2808.1 472.3,2814.1 473.3,2816.3 474.8,2818.2 477.8,2819.7 484.3,2820.7 494.3,2821.3 510.3,2821.6 588.3,2821.7 691.3,2821.3 707.8,2821 715.8,2820.4 718.3,2819.6 719.8,2818.5 721.3,2816.3 722.3,2813.9 724.8,2804.1 728.8,2781.9 729.8,2778.5 730.3,2777.7 730.8,2777.4 731.8,2778.9 732.8,2782.6 736.3,2802.3 738.3,2811.1 740.3,2816.3 741.3,2817.7 742.8,2818.9 744.8,2819.5 747.3,2819.1 748.8,2818.2 750.3,2816.4 752.8,2810.4 756.8,2795.9 757.8,2793.4 758.8,2792.2 759.8,2792.8 760.8,2794.9 764.8,2809.4 766.8,2815 768.8,2818.2 770.8,2819.7 774.8,2820.6 785.3,2820.9 802.8,2820.7 813.3,2820 816.3,2819.3 818.3,2817.9 819.8,2815.7 821.3,2811.9 823.8,2800.6 827.8,2775.3 828.8,2771.3 829.8,2769.7 830.3,2769.8 831.3,2771.6 834.3,2782 835.3,2783.9 835.8,2784.2 836.3,2784.1 837.3,2782.4 840.8,2771.7 841.3,2771 841.8,2771 842.3,2771.5 843.3,2774.3 844.3,2779.2 848.3,2803.8 850.8,2813.6 852.3,2816.7 854.3,2818.8 856.8,2819.8 860.8,2820.3 877.3,2820.9 913.8,2821 1081.8,2820.8 1117.8,2820.4 1122.3,2819.8 1123.8,2819.1 1125.3,2817.9 1127.8,2814.4 1131.8,2806.9 1132.8,2805.6 1133.8,2805.1 1134.8,2805.4 1135.8,2806.4 1140.3,2814.7 1142.8,2818 1145.3,2819.6 1149.3,2820.3 1187.8,2820.6 1309.3,2820.2 1313.3,2819.9 1315.8,2819.3 1318.3,2818.2 1322.8,2815.3 1324.8,2814.7 1326.8,2815.2 1332.8,2818.8 1335.8,2819.6 1343.3,2819.9 1356.8,2819.5 1360.3,2819 1362.8,2818 1364.8,2816 1366.3,2813.1 1368.8,2804.7 1373.8,2780.2 1374.8,2777.5 1375.3,2776.9 1375.8,2776.8 1376.8,2778.2 1377.8,2781.5 1381.8,2801.6 1383.8,2809.6 1385.8,2814.4 1387.8,2816.7 1389.3,2817.3 1391.3,2816.9 1392.8,2815.6 1394.3,2813.3 1396.8,2806.4 1401.3,2789.3 1402.3,2787.2 1403.3,2786.4 1404.3,2787.3 1405.3,2789.7 1409.3,2805.2 1411.3,2811.6 1412.8,2814.8 1414.8,2817.4 1417.3,2818.7 1420.8,2819.2 1429.8,2819.5 1439.3,2819.2 1444.3,2818.7 1446.8,2817.8 1448.8,2815.9 1450.8,2811.9 1452.3,2806.8 1453.8,2799.5 1458.3,2771.5 1459.3,2767.6 1460.3,2765.9 1460.8,2766 1461.3,2766.8 1462.3,2770.1 1467.3,2800.6 1469.8,2811.1 1471.3,2814.6 1472.8,2816.8 1474.8,2818.2 1477.8,2818.9 1484.8,2819.4 1497.8,2819.7 1518.8,2819.7 1526.3,2819.3 1528.8,2818.8 1531.3,2817.4 1537.3,2811.3 1539.3,2810.2 1541.3,2810.9 1546.3,2816.1 1549.3,2818.1 1553.3,2819 1558.8,2818.6 1561.8,2817.1 1564.3,2813.8 1566.3,2809.2 1570.8,2795.5 1571.8,2793.7 1572.8,2792.9 1573.8,2793.3 1574.8,2794.9 1579.8,2809.7 1581.3,2813.1 1582.8,2815.5 1584.8,2817.3 1586.8,2818.1 1590.3,2818.4 1593.8,2817.9 1595.3,2817.2 1596.8,2816 1598.3,2813.8 1599.3,2811.7 1601.8,2803.5 1606.3,2784.1 1607.3,2781.6 1608.3,2780.6 1609.3,2781.4 1610.3,2783.7 1614.8,2799.3 1615.8,2801.1 1616.8,2801.6 1617.8,2800.8 1618.8,2798.8 1623.3,2783.9 1624.3,2782.2 1624.8,2781.9 1625.8,2782.6 1627.3,2786.4 1631.8,2805.4 1633.8,2811.7 1635.3,2814.7 1636.8,2816.6 1638.8,2818 1640.8,2818.6 1650.3,2819.3 1671.8,2819.6 1819.3,2819.5"/>
<rect x="172.80" y="1682.30" width="1647.50" height="1218.00" fill="none" stroke="#000" stroke-width="4.80"/>
<path d="M172.80 2900.30V2925.80M255.18 2900.30V2913.50M337.55 2900.30V2925.80M419.93 2900.30V2913.50M502.30 2900.30V2925.80M584.67 2900.30V2913.50M667.05 2900.30V2925.80M749.42 2900.30V2913.50M831.80 2900.30V2925.80M914.17 2900.30V2913.50M996.55 2900.30V2925.80M1078.92 2900.30V2913.50M1161.30 2900.30V2925.80M1243.67 2900.30V2913.50M1326.05 2900.30V2925.80M1408.42 2900.30V2913.50M1490.80 2900.30V2925.80M1573.17 2900.30V2913.50M1655.55 2900.30V2925.80M1737.92 2900.30V2913.50M1820.30 2900.30V2925.80" stroke="#000" stroke-width="4.60" stroke-linecap="round" fill="none"/>
<text transform="translate(172.80 2987.60)" font-size="57.50" font-weight="normal" text-anchor="middle" style="white-space:pre">5</text>
<text transform="translate(337.55 2987.60)" font-size="57.50" font-weight="normal" text-anchor="middle" style="white-space:pre">6</text>
<text transform="translate(502.30 2987.60)" font-size="57.50" font-weight="normal" text-anchor="middle" style="white-space:pre">7</text>
<text transform="translate(667.05 2987.60)" font-size="57.50" font-weight="normal" text-anchor="middle" style="white-space:pre">8</text>
<text transform="translate(831.80 2987.60)" font-size="57.50" font-weight="normal" text-anchor="middle" style="white-space:pre">9</text>
<text transform="translate(996.55 2987.60)" font-size="57.50" font-weight="normal" text-anchor="middle" style="white-space:pre">10</text>
<text transform="translate(1161.30 2987.60)" font-size="57.50" font-weight="normal" text-anchor="middle" style="white-space:pre">11</text>
<text transform="translate(1326.05 2987.60)" font-size="57.50" font-weight="normal" text-anchor="middle" style="white-space:pre">12</text>
<text transform="translate(1490.80 2987.60)" font-size="57.50" font-weight="normal" text-anchor="middle" style="white-space:pre">13</text>
<text transform="translate(1655.55 2987.60)" font-size="57.50" font-weight="normal" text-anchor="middle" style="white-space:pre">14</text>
<text transform="translate(1820.30 2987.60)" font-size="57.50" font-weight="normal" text-anchor="middle" style="white-space:pre">15</text>
<text transform="translate(794.66 3071.60)" font-size="58.36" font-weight="bold" text-anchor="start" style="white-space:pre">Two theta (degree)</text>
<text transform="translate(126.40 2534.10) rotate(-90)" font-size="59.12" font-weight="bold" text-anchor="start" style="white-space:pre">Intensity (Arb. Unit)</text>
<text transform="translate(1002.60 3149.00) scale(0.9800 1)" font-size="90.00" font-weight="bold" text-anchor="middle" style="white-space:pre">(b)</text>
<text transform="translate(1834.54 1815.80)" font-size="43.28" font-weight="bold" text-anchor="start" style="white-space:pre">Released (F<tspan font-style="italic">dd2</tspan>)</text>
<text transform="translate(1836.07 1918.10)" font-size="42.86" font-weight="bold" text-anchor="start" style="white-space:pre">8.12GPa (6.78GPa + heat)</text>
<text transform="translate(1835.86 2020.40)" font-size="42.87" font-weight="bold" text-anchor="start" style="white-space:pre">6.78GPa (5.24GPa + heat)</text>
<text transform="translate(1835.29 2072.70)" font-size="43.02" font-weight="bold" text-anchor="start" style="white-space:pre">(F<tspan font-style="italic">dd2</tspan>)</text>
<text transform="translate(1836.11 2133.60)" font-size="42.85" font-weight="bold" text-anchor="start" style="white-space:pre">5.24GPa (3.84GPa + heat)</text>
<text transform="translate(1835.29 2185.00)" font-size="43.10" font-weight="bold" text-anchor="start" style="white-space:pre">(C<tspan font-style="italic">c</tspan>, F<tspan font-style="italic">dd2</tspan>)</text>
<text transform="translate(1836.48 2237.40)" font-size="41.86" font-weight="bold" text-anchor="start" style="white-space:pre">3.84GPa</text>
<text transform="translate(1835.94 2334.70)" font-size="42.87" font-weight="bold" text-anchor="start" style="white-space:pre">2.51GPa (1.51GPa + heat)</text>
<text transform="translate(1837.26 2495.50)" font-size="42.57" font-weight="bold" text-anchor="start" style="white-space:pre">1.51GPa (C<tspan font-style="italic">c</tspan>)</text>
<text transform="translate(1837.25 2619.20)" font-size="42.78" font-weight="bold" text-anchor="start" style="white-space:pre">1.05GPa (F<tspan font-style="italic">dd2</tspan>, C<tspan font-style="italic">c</tspan>)</text>
<text transform="translate(1835.76 2720.00)" font-size="42.04" font-weight="bold" text-anchor="start" style="white-space:pre">0.58GPa</text>
<text transform="translate(1833.37 2832.20)" font-size="42.81" font-weight="bold" text-anchor="start" style="white-space:pre">Ambient (F<tspan font-style="italic">dd2</tspan>)</text>
<text transform="translate(281.85 2437.70)" font-size="34.61" font-weight="normal" text-anchor="start" style="white-space:pre">(021)</text>
<text transform="translate(373.19 2412.00)" font-size="34.09" font-weight="normal" text-anchor="start" style="white-space:pre">(11-1)</text>
<text transform="translate(485.67 2455.70)" font-size="34.29" font-weight="normal" text-anchor="start" style="white-space:pre">(110)</text>
<text transform="translate(631.51 2450.50)" font-size="33.75" font-weight="normal" text-anchor="start" style="white-space:pre">(040)</text>
<text transform="translate(728.59 2446.00)" font-size="34.02" font-weight="normal" text-anchor="start" style="white-space:pre">(002)</text>
<text transform="translate(803.84 2417.10)" font-size="33.28" font-weight="normal" text-anchor="start" style="white-space:pre">(13-1) (130)</text>
<text transform="translate(868.09 2476.90)" font-size="33.97" font-weight="normal" text-anchor="start" style="white-space:pre">(111)</text>
<text transform="translate(1073.04 2455.70)" font-size="34.88" font-weight="normal" text-anchor="start" style="white-space:pre">(131)</text>
<text transform="translate(1245.29 2455.70)" font-size="34.02" font-weight="normal" text-anchor="start" style="white-space:pre">(042)</text>
<text transform="translate(1317.27 2401.00)" font-size="34.36" font-weight="normal" text-anchor="start" style="white-space:pre">(11-3)</text>
<text transform="translate(1419.06 2381.80)" font-size="31.31" font-weight="normal" text-anchor="start" style="white-space:pre">(060) (202)</text>
<text transform="translate(1587.95 2370.80)" font-size="33.11" font-weight="normal" text-anchor="start" style="white-space:pre">(061)</text>
<text transform="translate(1633.07 2399.10)" font-size="31.16" font-weight="normal" text-anchor="start" style="white-space:pre">(023) (200)</text>
<text transform="translate(296.13 2853.00)" font-size="33.43" font-weight="normal" text-anchor="start" style="white-space:pre">(220)</text>
<text transform="translate(416.89 2853.00)" font-size="34.02" font-weight="normal" text-anchor="start" style="white-space:pre">(111)</text>
<text transform="translate(662.39 2853.00)" font-size="34.02" font-weight="normal" text-anchor="start" style="white-space:pre">(040)</text>
<text transform="translate(742.73 2853.00)" font-size="33.43" font-weight="normal" text-anchor="start" style="white-space:pre">(400)</text>
<text transform="translate(803.88 2761.00)" font-size="32.64" font-weight="normal" text-anchor="start" style="white-space:pre">(131) (311)</text>
<text transform="translate(1100.73 2856.20)" font-size="33.43" font-weight="normal" text-anchor="start" style="white-space:pre">(331)</text>
<text transform="translate(1261.43 2849.10)" font-size="33.43" font-weight="normal" text-anchor="start" style="white-space:pre">(440)</text>
<text transform="translate(1294.83 2766.20)" font-size="33.32" font-weight="normal" text-anchor="start" style="white-space:pre">(151) (511)</text>
<text transform="translate(1426.66 2853.00)" font-size="32.84" font-weight="normal" text-anchor="start" style="white-space:pre">(022)</text>
<text transform="translate(1499.26 2761.00)" font-size="32.91" font-weight="normal" text-anchor="start" style="white-space:pre">(260) (620)</text>
<text transform="translate(1584.05 2857.50)" font-size="33.05" font-weight="normal" text-anchor="start" style="white-space:pre">(351) (531)</text>
</g>
<g>
<polyline fill="none" stroke="#008000" stroke-width="3.20" stroke-linejoin="round" points="174.8,3501.5 296.3,3500.8 313.8,3500.4 320.8,3499.7 322.8,3499 324.3,3497.9 325.8,3495.9 326.8,3493.9 329.3,3486 333.8,3466.9 334.8,3464.5 335.8,3463.8 336.8,3464.9 337.8,3467.6 342.3,3486.8 344.3,3493.1 345.3,3495.3 346.8,3497.4 348.3,3498.7 349.8,3499.4 354.3,3500 365.8,3500.3 415.8,3499.9 434.3,3499 439.8,3498.1 443.3,3497 445.8,3494.9 447.8,3490.9 449.3,3484.8 450.8,3474.5 453.3,3444.7 458.3,3358.3 459.3,3348.7 459.8,3346.3 460.3,3345.7 461.3,3350.1 462.3,3360.9 467.3,3447.6 468.8,3466.8 470.8,3483 472.8,3491.3 473.8,3493.6 475.3,3495.6 476.8,3496.7 478.8,3497.5 485.3,3498.7 498.3,3499.4 521.8,3499.7 651.3,3499.3 699.8,3498.6 710.8,3498 716.8,3497.1 719.3,3495.9 721.3,3493.6 722.8,3490.4 724.3,3485.1 726.8,3470.2 731.8,3427.8 732.8,3422.6 733.8,3420.4 734.3,3420.6 734.8,3421.7 736.3,3429.3 740.3,3463.6 742.3,3477.8 743.8,3484.9 745.8,3490.3 747.3,3491.8 748.8,3491.4 750.3,3489.2 751.8,3484.9 754.3,3472.7 758.8,3443.8 759.8,3440 760.8,3438.4 761.3,3438.6 761.8,3439.5 762.8,3442.9 768.3,3477.8 769.8,3485 771.3,3490.1 773.3,3494 775.3,3496 778.3,3497.1 782.8,3497.6 797.3,3497.9 810.8,3497.2 815.8,3496.2 817.3,3495.3 818.8,3493.8 820.3,3491.1 821.3,3488.4 823.3,3480.3 825.3,3468.1 829.3,3439.1 830.8,3432.3 831.8,3430.6 832.3,3430.6 833.3,3432.3 836.8,3445.3 838.3,3449 838.8,3449.5 839.8,3449.7 843.3,3446.2 844.3,3446.6 845.3,3448.4 847.3,3456.3 852.3,3482.7 853.8,3488.1 855.3,3491.8 857.3,3494.7 859.3,3496.1 862.3,3497 867.8,3497.5 890.8,3498.1 946.3,3498.1 1088.8,3497.5 1119.8,3496.8 1122.3,3496.4 1124.3,3495.7 1126.3,3494.2 1127.8,3492.4 1130.3,3487.6 1134.8,3475.8 1136.3,3473.2 1137.3,3472.5 1138.3,3472.8 1139.8,3474.8 1144.8,3487.6 1147.3,3492.4 1148.8,3494.2 1150.3,3495.3 1152.3,3496.2 1154.8,3496.6 1165.3,3497 1191.8,3497 1312.3,3496.3 1316.8,3495.8 1319.8,3494.9 1322.3,3493.6 1327.3,3489.9 1329.8,3489.2 1332.3,3490 1338.3,3494.1 1341.8,3495.4 1348.3,3495.8 1360.3,3495.3 1363.8,3494.7 1366.3,3493.6 1368.3,3491.6 1370.3,3488 1371.8,3483.6 1373.3,3477.8 1378.8,3450.2 1380.3,3446.1 1381.3,3445.5 1382.3,3446.7 1383.8,3451.5 1388.3,3474.2 1390.3,3482.3 1392.3,3487.4 1393.3,3488.9 1394.8,3489.9 1396.3,3489.4 1397.3,3488.4 1399.3,3484.3 1401.3,3477.6 1406.3,3455.7 1407.8,3452 1408.8,3451.3 1409.8,3452.2 1411.3,3456.2 1415.8,3476.4 1417.8,3483.9 1419.8,3489 1421.8,3492 1423.3,3493.2 1425.3,3494.2 1430.8,3494.9 1444.8,3494.8 1448.3,3494.3 1450.8,3493.4 1452.3,3492.2 1453.8,3490.3 1456.3,3484.6 1458.8,3474.9 1463.3,3453.1 1464.8,3448.6 1465.8,3447.4 1466.8,3448 1468.3,3451.9 1473.8,3478 1476.3,3486.5 1477.8,3489.8 1479.3,3491.9 1480.8,3493.2 1482.8,3494.1 1487.8,3494.9 1499.8,3495.3 1522.8,3495.2 1532.3,3494.8 1535.3,3494 1537.8,3492.6 1540.3,3490.2 1545.3,3484.5 1546.8,3483.5 1547.8,3483.4 1548.8,3483.7 1550.3,3484.7 1555.3,3490.3 1557.8,3492.3 1559.3,3493.1 1561.3,3493.5 1564.8,3493.1 1566.3,3492.4 1567.8,3491 1570.3,3486.8 1572.8,3479.7 1577.8,3461.1 1579.3,3457.8 1580.3,3457 1581.3,3457.6 1582.8,3460.7 1588.3,3480.7 1590.8,3487.2 1592.3,3489.7 1593.8,3491.2 1595.8,3492.3 1597.8,3492.5 1599.8,3492 1601.8,3490.7 1603.8,3488 1605.3,3484.6 1607.8,3475.8 1613.3,3449.3 1614.8,3445.1 1615.8,3444.2 1616.8,3444.8 1617.8,3446.8 1621.8,3460.4 1623.3,3463.8 1624.3,3464.8 1625.3,3464.6 1626.3,3463.5 1630.8,3453.5 1631.8,3452.6 1632.3,3452.5 1633.3,3453.4 1635.3,3458.6 1640.3,3479 1642.8,3486.4 1644.3,3489.3 1645.8,3491.2 1647.8,3492.7 1650.3,3493.6 1660.3,3494.4 1683.8,3494.8 1834.8,3494.4"/>
<polyline fill="none" stroke="#0000ff" stroke-width="3.20" stroke-linejoin="round" points="174.8,3635 257.8,3634.1 294.3,3633.4 312.8,3632.4 317.3,3631.7 320.3,3630.5 322.8,3628.5 324.8,3625.5 326.8,3620.5 328.3,3615.1 331.3,3599.3 337.3,3557.8 339.3,3549.4 340.3,3547.8 340.8,3547.7 341.3,3548.2 342.3,3550.5 343.8,3557.2 349.8,3598.5 352.8,3614.5 354.3,3620 355.8,3623.9 357.8,3627.4 359.8,3629.4 362.8,3630.9 366.8,3631.7 374.8,3632.2 386.8,3632.4 434.8,3632 447.3,3631.3 453.8,3630.3 456.8,3628.8 458.8,3626.2 460.3,3622.6 461.8,3616.8 464.3,3600.6 469.3,3553.7 470.8,3545.3 471.3,3544.1 471.8,3543.8 472.8,3546 473.8,3551.4 479.3,3601.9 480.8,3612.2 482.3,3619.5 484.3,3625.3 486.3,3628.1 488.8,3629.6 493.3,3630.4 498.8,3630.6 502.8,3630.2 505.8,3629.4 508.3,3627.9 510.3,3625.8 512.3,3622.9 519.3,3608.9 520.8,3607 522.3,3606.2 523.8,3606.7 525.3,3608.4 531.8,3621.4 535.3,3626.6 536.8,3628 538.8,3629.3 540.8,3630.1 543.8,3630.6 553.3,3631 576.8,3631 676.8,3630 705.3,3629 713.3,3628.3 717.8,3627.4 720.3,3626 722.3,3623.7 724.3,3619.1 725.8,3613.4 728.3,3598.6 733.8,3554.2 735.3,3547.9 735.8,3547.1 736.3,3547 737.3,3548.7 738.3,3552.8 743.3,3583.3 744.8,3589.2 746.3,3592.5 747.8,3593.7 751.8,3593.1 752.8,3593.4 753.8,3594.1 755.8,3596.9 761.3,3607.7 762.8,3609.5 764.3,3610.2 765.8,3609.9 767.3,3608.4 772.3,3599.5 773.8,3597.4 775.3,3596.5 776.3,3596.7 777.3,3597.6 778.8,3600 785.3,3616.2 788.8,3622.5 790.8,3624.7 792.8,3626.1 795.3,3627 798.3,3627.5 807.8,3627.8 819.3,3627.4 824.3,3626.6 827.3,3625.1 829.8,3622.4 831.8,3619 833.8,3614.4 838.8,3600.6 840.3,3597.8 841.8,3596.5 842.8,3596.7 844.3,3598.2 848.3,3605.7 849.8,3607.8 851.3,3608.6 852.3,3608.3 853.3,3607.3 854.8,3604.4 859.8,3589.5 861.8,3585 863.8,3582.9 867.8,3582.1 869.8,3580.7 871.8,3577.9 876.3,3569.9 877.8,3568.5 878.8,3568.2 879.8,3568.5 881.3,3569.9 885.3,3575.5 890.3,3580.6 891.8,3583 894.3,3590 900.3,3613.1 902.3,3618.4 904.8,3622.3 906.8,3623.6 909.3,3623.8 911.3,3623 916.3,3620 918.8,3619.7 921.3,3620.8 927.8,3625.4 930.3,3626.3 933.8,3627 946.3,3627.3 976.8,3627.3 1103.8,3626.6 1134.3,3626 1138.8,3625.1 1140.8,3624.1 1142.3,3622.9 1144.8,3619.9 1150.3,3610.7 1151.8,3609.1 1152.8,3608.7 1153.8,3608.9 1155.3,3610.2 1160.8,3619.3 1163.8,3623 1166.8,3624.8 1170.8,3625.7 1188.8,3626 1246.3,3625.7 1286.3,3625.3 1302.3,3624.7 1305.8,3624.3 1308.3,3623.6 1310.3,3622.6 1312.3,3620.9 1314.3,3618.1 1315.8,3615.3 1321.8,3601.2 1323.3,3599 1324.8,3598.3 1325.8,3598.8 1326.8,3599.9 1331.3,3608 1333.3,3610.5 1334.3,3611 1335.8,3611 1337.3,3610 1340.8,3606.8 1342.3,3606.3 1343.3,3606.6 1345.3,3608.5 1350.3,3616.8 1352.3,3619.5 1354.8,3621.6 1357.8,3622.6 1361.3,3622.7 1364.8,3622 1367.8,3620.8 1370.8,3619 1373.3,3616.8 1375.8,3614 1385.3,3601.6 1387.8,3599.5 1390.3,3598.8 1392.8,3599.6 1395.3,3601.7 1403.3,3611.9 1406.8,3615.7 1410.3,3618 1413.3,3618.7 1416.3,3617.8 1418.8,3615.7 1421.8,3611.7 1428.3,3600.8 1430.3,3598.8 1431.3,3598.4 1432.3,3598.4 1433.8,3599.2 1435.3,3600.8 1443.3,3614.1 1445.3,3616.7 1447.8,3619 1450.8,3620.6 1453.8,3621.4 1457.8,3621.7 1463.3,3621.5 1468.8,3620.6 1470.8,3619.8 1472.3,3618.8 1474.8,3615.3 1477.3,3608 1479.3,3597.8 1480.8,3587.2 1486.8,3532.8 1488.3,3524.7 1489.3,3522.6 1489.8,3522.8 1490.8,3525.3 1492.3,3534 1497.3,3580.1 1499.8,3598.6 1502.3,3610.2 1503.8,3614.3 1505.8,3617.6 1507.3,3618.9 1508.8,3619.7 1513.8,3620.8 1525.3,3621.4 1538.8,3621.2 1542.3,3620.6 1544.8,3619.6 1547.3,3617.9 1551.8,3614 1554.3,3613.1 1556.8,3613.9 1561.8,3617.8 1564.8,3619.4 1568.8,3620.1 1574.8,3619.8 1579.8,3619.1 1583.3,3617.6 1585.8,3615.5 1588.3,3611.9 1590.3,3607.5 1592.3,3601.5 1599.3,3575.2 1600.8,3571.4 1602.3,3569.5 1602.8,3569.3 1603.8,3569.7 1605.3,3571.9 1610.8,3588 1612.8,3592.4 1613.8,3593.6 1614.8,3594 1615.8,3593.6 1616.8,3592.2 1618.8,3586.9 1620.8,3578 1628.3,3530.6 1629.8,3523.2 1631.3,3517.9 1632.3,3515.6 1633.8,3513.8 1635.3,3513.5 1638.8,3514 1640.3,3513.5 1641.3,3512.6 1643.8,3508.6 1649.3,3496.2 1650.8,3494.3 1651.8,3493.8 1653.3,3494.4 1654.8,3496.9 1656.3,3501.2 1657.8,3507 1660.8,3522.4 1668.8,3569.3 1673.3,3589.6 1675.8,3597.7 1678.3,3603.7 1680.8,3607.9 1683.3,3610.4 1685.8,3611.3 1687.8,3610.6 1689.8,3608.2 1691.8,3603.8 1693.3,3598.9 1695.3,3590.3 1701.3,3558.2 1702.8,3552.9 1703.8,3551.1 1704.3,3550.8 1704.8,3550.9 1705.8,3552.2 1707.8,3559 1713.8,3592 1716.8,3604.6 1718.3,3608.9 1720.3,3612.9 1722.3,3615.3 1724.3,3616.7 1727.3,3617.7 1731.3,3618.3 1749.8,3619.2 1780.8,3619.7 1834.8,3620"/>
<polyline fill="none" stroke="#0000ff" stroke-width="3.20" stroke-linejoin="round" points="174.8,3743.3 290.3,3742 308.8,3741.1 313.3,3740.4 316.3,3739.3 318.8,3737.4 320.8,3734.4 322.8,3729.6 324.3,3724.3 327.3,3708.8 333.8,3664.2 335.3,3658.1 336.3,3656.2 336.8,3656 337.3,3656.3 338.3,3658.4 339.8,3664.8 346.8,3712.4 348.8,3722.6 350.8,3729.8 353.3,3735.3 354.8,3737.2 356.3,3738.5 358.3,3739.5 360.3,3740.1 366.8,3740.8 392.8,3741.4 434.3,3740.9 449.8,3740 453.3,3739.2 455.3,3738.2 457.3,3736 458.8,3732.8 460.3,3727.7 461.3,3722.9 463.8,3705.3 467.8,3669.4 469.3,3660.7 470.3,3658.6 470.8,3658.8 471.3,3659.9 472.8,3667.6 477.8,3711.3 479.3,3721.4 481.3,3730.4 483.3,3735.3 485.3,3737.7 488.3,3739.1 492.8,3739.7 498.8,3739.9 502.8,3739.6 505.8,3738.8 507.8,3737.6 509.8,3735.6 511.8,3732.6 517.8,3720.2 519.3,3718.2 520.3,3717.7 521.8,3718.2 523.3,3720.2 528.8,3731.7 531.8,3736.3 533.3,3737.7 535.3,3738.9 539.8,3740 549.3,3740.3 571.8,3740.4 669.8,3739.6 699.8,3738.8 708.3,3738.3 713.3,3737.5 715.8,3736.6 717.8,3734.8 719.3,3732.4 720.8,3728.6 722.3,3722.8 723.8,3715 728.8,3683.4 730.3,3678.4 730.8,3677.8 731.3,3677.7 731.8,3678.2 732.8,3680.5 736.8,3696.1 737.8,3698.8 738.8,3700.3 739.8,3700.6 741.3,3699.1 744.8,3691.4 746.3,3689.2 747.3,3688.8 747.8,3688.9 748.8,3690 750.8,3694.9 756.3,3714.1 757.8,3717.7 759.3,3719.6 760.8,3720 762.3,3718.9 763.8,3716.5 768.3,3707.7 769.8,3706.2 770.8,3706.2 772.3,3707.5 773.8,3710.3 778.8,3723.9 781.3,3729.5 783.8,3733.4 786.3,3735.6 789.8,3737 794.8,3737.6 807.8,3737.6 816.8,3737 819.8,3736.2 821.8,3735.2 823.8,3733.5 825.8,3730.8 829.3,3723.1 835.3,3705.1 836.8,3702 838.3,3700.4 838.8,3700.3 839.8,3700.7 841.3,3702.8 846.3,3715.2 848.3,3719.1 849.3,3720.3 850.3,3720.8 851.3,3720.7 852.3,3719.8 854.8,3715.2 859.3,3702.2 861.8,3696.4 866.8,3688.2 871.8,3678.6 873.3,3676.6 874.8,3675.8 876.3,3676.6 878.3,3680.2 883.8,3696.4 885.8,3701.1 887.8,3704.3 891.3,3708.1 892.8,3710.2 894.8,3714.3 899.3,3725.2 901.8,3729.1 903.3,3730.3 904.8,3730.6 906.3,3730.2 910.3,3728.2 911.8,3728 912.8,3728.2 914.8,3729.3 919.3,3733.5 921.8,3735.3 924.8,3736.5 928.3,3737.1 948.8,3737.5 999.8,3737.4 1100.8,3736.4 1128.8,3735.7 1133.3,3734.8 1135.3,3733.8 1136.8,3732.6 1139.8,3728.6 1145.3,3718.4 1146.8,3716.7 1147.8,3716.4 1148.8,3716.7 1150.3,3718.3 1155.8,3728.4 1158.3,3731.8 1161.3,3734.1 1165.3,3735.2 1179.3,3735.5 1223.3,3735.2 1276.8,3734.5 1297.8,3733.8 1301.3,3733.4 1303.8,3732.7 1305.8,3731.6 1307.8,3729.7 1310.8,3724.8 1316.8,3710.5 1318.3,3708.4 1319.8,3707.8 1320.8,3708.3 1321.8,3709.5 1325.8,3716.9 1327.8,3719.5 1328.8,3720 1330.3,3719.9 1334.8,3716 1335.8,3715.7 1336.8,3715.9 1338.8,3718.2 1343.3,3726.4 1345.3,3729.2 1347.8,3731.3 1350.8,3732.3 1355.8,3732.6 1361.3,3732.1 1364.8,3731.2 1367.8,3729.7 1370.3,3727.5 1372.8,3724.5 1379.8,3712.7 1381.8,3709.9 1383.8,3708.1 1385.3,3707.8 1386.8,3708.3 1388.8,3710.2 1395.8,3721.3 1398.3,3724.6 1400.3,3726.5 1402.8,3727.8 1405.8,3727.8 1409.3,3726.2 1412.3,3723.7 1420.3,3715.2 1422.8,3713.6 1424.8,3713.2 1426.8,3713.7 1428.8,3715 1438.3,3724.9 1440.8,3727 1443.8,3728.8 1447.3,3730.1 1450.8,3730.7 1455.3,3730.9 1461.3,3730.6 1467.3,3729.6 1469.3,3728.8 1470.8,3727.7 1472.3,3725.9 1473.3,3724.1 1475.3,3718.4 1477.3,3709 1478.8,3699.1 1485.3,3641.7 1486.8,3634.3 1487.3,3633.2 1487.8,3632.8 1488.3,3633.2 1489.3,3636.3 1490.8,3645.5 1495.8,3691.2 1498.3,3709 1500.8,3719.9 1502.3,3723.8 1504.3,3726.8 1505.8,3728.1 1507.3,3728.8 1512.3,3729.8 1524.8,3730.3 1533.3,3729.8 1535.8,3729.1 1537.8,3727.9 1539.8,3726 1544.8,3719.9 1546.3,3718.9 1547.3,3718.7 1549.3,3719.7 1554.8,3726 1556.3,3727.3 1558.3,3728.4 1560.3,3729 1563.3,3729.3 1572.3,3728.8 1577.3,3728 1580.3,3726.9 1582.8,3724.9 1585.3,3721.4 1587.3,3717.1 1589.3,3711.2 1596.3,3685 1597.8,3681.4 1598.8,3680.2 1599.3,3680 1600.3,3680.2 1601.8,3682.4 1606.8,3696.4 1608.8,3700.6 1609.8,3701.5 1610.8,3701.6 1612.3,3699.8 1613.8,3695.7 1615.8,3686.7 1621.8,3648 1623.3,3640.1 1624.8,3634.6 1625.8,3632.4 1627.3,3631.1 1628.3,3631.1 1631.3,3632.5 1632.3,3632.5 1633.8,3631.6 1634.8,3630.1 1637.3,3623.8 1643.3,3602.6 1645.3,3598.6 1646.3,3597.9 1646.8,3597.9 1647.8,3598.6 1649.3,3601.5 1650.8,3606.5 1652.3,3613.2 1654.8,3627.3 1662.3,3674.9 1666.8,3697 1669.3,3705.8 1671.8,3712.4 1674.8,3717.6 1677.8,3720.6 1679.3,3721.3 1680.8,3721.5 1682.3,3721.2 1683.3,3720.6 1685.3,3718.1 1687.3,3713.7 1688.8,3708.8 1690.8,3700.1 1697.3,3664.4 1698.8,3659.4 1699.8,3657.8 1700.3,3657.7 1700.8,3657.9 1701.8,3659.6 1703.3,3664.8 1709.8,3701.3 1712.8,3713.9 1714.3,3718.1 1716.3,3722 1718.3,3724.3 1720.3,3725.7 1723.3,3726.7 1727.3,3727.3 1746.3,3728.2 1778.3,3728.7 1834.8,3729"/>
<polyline fill="none" stroke="#0000ff" stroke-width="3.20" stroke-linejoin="round" points="174.8,3850 249.3,3849.3 283.3,3848.7 301.3,3847.6 305.3,3846.9 308.3,3845.7 310.8,3843.7 312.8,3840.8 314.8,3836.1 316.3,3831 319.8,3813.3 326.3,3769.3 328.3,3761.2 329.3,3759.6 329.8,3759.5 330.3,3759.8 331.3,3761.9 333.3,3770.7 339.3,3811.6 342.8,3829.8 344.3,3835.1 346.3,3840 348.3,3843.1 350.3,3845 353.3,3846.3 358.3,3847.2 367.8,3847.8 381.8,3848 409.3,3848 432.8,3847.6 445.8,3846.8 452.3,3845.7 454.8,3844.4 456.8,3842.1 458.8,3837.5 460.3,3831.8 461.8,3823.6 463.3,3812.6 468.8,3763 470.3,3755.9 470.8,3755.1 471.3,3755.1 472.3,3757.4 473.8,3766.3 478.8,3812.2 481.3,3829 482.8,3835.5 484.8,3840.9 486.8,3843.6 489.3,3845.1 493.3,3845.9 499.3,3846.1 502.8,3845.5 505.3,3844.2 507.3,3842.3 509.3,3839.5 515.3,3827.9 516.8,3826.1 517.8,3825.7 519.3,3826.2 520.8,3828.1 526.3,3839 529.3,3843.3 530.8,3844.6 532.8,3845.7 537.3,3846.7 547.3,3847 569.8,3847 660.3,3846.3 689.8,3845.5 698.8,3845 704.8,3844.2 708.8,3842.9 711.3,3840.8 713.3,3837.1 715.3,3830.1 716.8,3821.9 718.3,3810.7 723.8,3756.9 725.3,3748 726.3,3745.9 726.8,3746.2 727.3,3747.2 728.8,3754.6 733.8,3792.9 735.3,3799.9 736.8,3803.5 737.8,3804.3 738.8,3804.1 741.8,3801.5 742.8,3801.1 743.8,3801.4 744.8,3802.4 746.8,3806.5 752.3,3823.1 753.8,3826.4 755.3,3828.3 756.3,3828.9 757.8,3828.6 759.3,3827.4 763.3,3822.6 764.8,3821.8 765.8,3821.9 766.8,3822.6 768.3,3824.6 773.8,3835.7 776.8,3840.2 778.3,3841.7 780.3,3842.9 782.3,3843.7 785.3,3844.2 798.3,3844.4 811.8,3843.8 816.8,3842.7 818.8,3841.6 820.3,3840.3 822.8,3836.7 825.3,3830.3 827.8,3820.9 833.8,3793.1 835.3,3788.8 836.3,3787.3 836.8,3787.1 837.8,3787.6 839.3,3790.4 843.8,3806.3 845.8,3812.2 847.3,3815 848.3,3815.9 849.3,3816.3 850.8,3816 854.8,3813.8 858.8,3812.7 860.8,3811 863.3,3806.3 869.3,3789.9 870.3,3788.2 871.3,3787.3 872.3,3787.1 872.8,3787.4 874.3,3789.6 876.3,3795.1 882.3,3818.6 884.8,3827 887.3,3833.2 889.8,3837.1 892.3,3839.1 894.8,3839.5 897.3,3838.8 903.3,3835.6 904.8,3835.3 906.3,3835.4 908.8,3836.4 914.3,3840.4 917.3,3842.1 920.8,3843.3 924.8,3843.9 945.3,3844.3 999.8,3844.1 1083.8,3842.8 1110.3,3842.2 1114.8,3841.6 1118.3,3840.3 1121.3,3838.2 1126.3,3833.5 1128.8,3832 1138.3,3830.5 1140.3,3830.9 1141.8,3831.7 1147.8,3837.6 1150.8,3839.8 1153.8,3840.9 1157.8,3841.4 1179.3,3841.4 1245.8,3840.3 1279.3,3839.6 1294.3,3839 1297.8,3838.5 1299.8,3837.8 1301.8,3836.5 1303.3,3834.7 1304.8,3832 1306.3,3828.3 1310.8,3814.7 1312.3,3811.9 1313.3,3811.2 1314.3,3811.7 1315.3,3813.1 1319.3,3822.1 1320.8,3824.7 1321.8,3825.7 1323.8,3826.4 1327.8,3825.5 1329.8,3825.9 1331.8,3827.3 1337.3,3833.2 1340.3,3835.6 1344.3,3837 1349.8,3837.2 1353.8,3836.6 1356.8,3835.5 1359.3,3833.9 1361.8,3831.4 1365.8,3825.3 1374.3,3807.7 1376.3,3805.1 1378.3,3804.1 1379.3,3804.3 1380.3,3804.9 1382.8,3808.2 1389.8,3822.6 1393.3,3828.6 1396.3,3832 1399.8,3834.2 1401.8,3834.7 1403.3,3834.7 1406.3,3833.5 1408.8,3831.4 1414.3,3824.9 1415.8,3823.8 1417.3,3823.5 1418.3,3823.8 1419.8,3824.8 1426.8,3832.9 1428.8,3834.3 1431.3,3835.4 1434.3,3835.9 1439.3,3836 1448.3,3835.6 1455.8,3835 1460.8,3833.8 1462.8,3832.7 1464.3,3831.5 1466.8,3828 1469.3,3821.8 1471.3,3814 1473.3,3803.7 1480.3,3757.3 1482.3,3749.1 1483.3,3747.1 1483.8,3746.8 1484.8,3747.2 1485.8,3749.1 1487.8,3756.2 1497.8,3805.9 1500.3,3816.9 1503.3,3826 1504.8,3828.8 1506.3,3830.7 1508.3,3832.2 1510.3,3833 1513.3,3833.3 1515.8,3833 1518.8,3831.7 1524.8,3826.7 1526.3,3826.3 1529.3,3826.6 1530.8,3826.4 1532.3,3825.7 1535.3,3823.5 1536.8,3823 1537.8,3823.3 1538.8,3824.1 1544.3,3831 1545.8,3832.2 1547.8,3833.1 1550.3,3833.5 1554.8,3833.5 1571.3,3832.6 1579.3,3831.5 1583.8,3830 1585.8,3828.7 1587.3,3827.2 1589.8,3823.4 1592.8,3815.6 1595.3,3805.5 1597.8,3792 1603.8,3754.1 1605.3,3746.8 1606.8,3741.8 1608.3,3739.6 1608.8,3739.5 1609.8,3740.2 1611.8,3744.2 1615.3,3755 1617.3,3759.9 1618.3,3761.4 1619.3,3762.2 1620.3,3762.1 1621.3,3761.3 1622.8,3758.4 1624.8,3752.2 1631.3,3723 1633.3,3715.4 1635.3,3710.2 1636.3,3708.8 1637.3,3708.2 1638.8,3708.9 1640.3,3711.6 1641.8,3716.1 1643.3,3722.1 1645.8,3734.6 1653.8,3780.3 1656.3,3792.4 1658.8,3802.4 1661.3,3810.3 1664.3,3817.2 1667.3,3821.7 1670.3,3824.2 1672.8,3824.9 1674.3,3824.6 1675.3,3824 1677.8,3821.1 1679.8,3816.7 1681.3,3812 1683.3,3803.7 1690.3,3766.4 1691.8,3761.3 1692.8,3759.5 1693.3,3759.1 1693.8,3759.1 1694.8,3760.3 1696.8,3766.6 1703.3,3802.1 1706.8,3816.6 1708.8,3821.9 1710.8,3825.5 1713.3,3828.1 1715.8,3829.6 1719.3,3830.6 1723.8,3831.1 1734.3,3830.2 1743.3,3832.8 1752.8,3833.6 1815.8,3833.3 1826.3,3830 1834.8,3821"/>
<polyline fill="none" stroke="#0000ff" stroke-width="3.20" stroke-linejoin="round" points="174.8,3948.6 277.3,3947.9 302.8,3947.2 306.3,3946.2 308.8,3944.2 310.8,3941.3 314.8,3933.6 315.8,3932.4 316.8,3932 317.8,3932.4 318.8,3933.5 323.3,3941.6 324.8,3943.7 326.3,3945 328.3,3945.8 330.3,3946.1 333.3,3945.8 335.3,3945.2 337.3,3943.7 338.8,3941.3 340.3,3936.9 341.3,3932.5 343.3,3919.1 347.8,3879 348.8,3874.1 349.3,3873 349.8,3872.9 350.8,3875.7 351.8,3881.9 355.8,3918.4 357.8,3932 359.8,3939.8 361.3,3942.9 362.8,3944.6 364.3,3945.4 366.3,3946 372.8,3946.6 385.3,3946.9 406.3,3946.9 426.3,3946.6 439.3,3946 447.8,3945.1 452.3,3943.8 454.8,3941.8 456.8,3937.5 458.3,3931.1 459.8,3920.1 462.3,3888.5 466.3,3818.8 467.3,3807.2 468.3,3802 468.8,3802.3 469.3,3804.3 470.3,3813.6 475.3,3897.8 476.8,3916.3 478.8,3931.6 480.8,3939.1 482.8,3942.3 484.3,3943.4 486.3,3944.2 493.3,3945.3 512.8,3946.1 556.3,3946.1 655.8,3945.4 678.8,3945 689.3,3944.5 696.3,3943.3 701.8,3940.9 706.8,3937.1 716.3,3927.7 718.8,3926.1 721.3,3925.5 723.3,3925.9 725.8,3927.2 734.3,3934.1 736.3,3934.9 737.8,3934.8 739.3,3933.8 740.3,3932.4 741.8,3929.1 742.8,3925.9 745.3,3914.2 750.3,3883.4 751.8,3877.4 752.8,3875.6 753.3,3875.4 754.3,3876.7 755.8,3882 760.8,3913 762.8,3923.5 764.8,3930.7 766.3,3933.6 767.3,3934.3 767.8,3934.4 768.8,3933.6 769.8,3931.8 770.8,3928.8 772.8,3919.5 777.3,3890.6 778.8,3885.1 779.3,3884.5 779.8,3884.5 780.8,3886.5 781.8,3890.8 785.8,3917.4 787.8,3928.5 789.3,3934.2 791.3,3938.9 792.3,3940.2 793.8,3941.5 795.3,3942.2 797.8,3942.7 807.8,3943.1 812.8,3942.8 816.3,3942.3 818.3,3941.6 819.8,3940.6 821.3,3939 822.8,3936.4 824.8,3931.4 828.8,3917.8 830.8,3912.6 832.3,3910.9 835.8,3910.6 836.8,3909.6 837.8,3907.5 839.8,3899.4 844.3,3871.9 845.8,3866.6 846.3,3865.9 846.8,3865.7 847.3,3866.1 848.3,3868.2 851.8,3882 852.8,3884.9 853.8,3886.5 854.3,3886.7 855.3,3886.2 858.3,3880.3 859.3,3879 859.8,3878.8 860.3,3879 860.8,3879.7 861.8,3882.5 863.3,3889.7 868.8,3924.2 871.3,3934 873.3,3938.3 875.3,3940.5 877.8,3941.8 882.3,3942.7 898.8,3943.5 929.3,3943.6 935.3,3943.3 941.8,3941.9 944.3,3941.6 952.3,3943.1 956.8,3943.5 999.8,3943.4 1106.8,3941.7 1112.8,3941.2 1119.8,3939.4 1122.3,3939 1132.3,3940.8 1141.8,3940.5 1144.8,3939.9 1146.8,3938.8 1148.3,3937.3 1149.8,3934.9 1152.3,3928.3 1157.3,3910 1158.3,3907.8 1159.3,3906.9 1160.3,3907.5 1161.8,3910.8 1166.3,3927.5 1168.8,3934.2 1170.3,3936.7 1171.8,3938.3 1173.8,3939.4 1176.3,3939.9 1186.3,3940.3 1208.8,3940.1 1274.3,3939.1 1289.3,3938.4 1304.8,3938.7 1340.3,3938 1344.8,3937.4 1348.3,3936.1 1351.3,3933.9 1356.8,3928.5 1358.3,3927.6 1359.8,3927.3 1361.3,3927.5 1365.8,3930 1367.8,3930.6 1370.3,3930.2 1374.8,3928.3 1377.3,3928.3 1379.3,3929.2 1384.3,3932.6 1386.8,3933.2 1388.8,3932.5 1390.3,3931.1 1391.8,3928.9 1393.3,3925.6 1395.8,3917.7 1401.8,3893.2 1403.3,3889.3 1404.3,3888 1404.8,3887.7 1405.3,3887.8 1406.3,3888.9 1407.8,3892.5 1414.3,3917.7 1416.3,3923.3 1418.3,3926.6 1419.3,3927.3 1420.8,3927.2 1421.8,3926.4 1423.3,3924.1 1425.8,3917.9 1431.3,3900.3 1432.8,3897.3 1434.3,3896.1 1435.8,3897.2 1437.3,3900.2 1443.8,3921.4 1445.8,3926.5 1447.8,3930.1 1449.8,3932.5 1452.3,3934 1455.3,3934.7 1459.3,3934.7 1463.3,3933.7 1465.8,3931.7 1467.8,3928.3 1469.8,3922 1471.8,3911.7 1473.3,3901 1478.8,3851.7 1480.3,3843.5 1481.3,3841.5 1481.8,3841.6 1482.3,3842.5 1483.8,3849.4 1489.8,3902.3 1491.3,3912.7 1492.8,3920.6 1494.3,3926.1 1496.3,3930.6 1498.8,3933.3 1501.8,3934.6 1505.3,3935.1 1509.3,3935.1 1517.3,3933.3 1519.3,3933.2 1521.3,3933.4 1527.3,3935.1 1530.8,3935.7 1544.8,3935.9 1561.8,3935.2 1565.3,3934.6 1567.8,3933.5 1569.8,3931.7 1571.8,3928.6 1577.8,3913.7 1578.8,3911.8 1579.8,3910.7 1580.8,3910.4 1581.8,3911.1 1585.3,3916.8 1586.8,3918.4 1587.8,3918.2 1588.8,3916.6 1589.8,3913.3 1591.3,3905.1 1595.3,3874.6 1596.3,3870.4 1596.8,3869.6 1597.3,3869.7 1598.3,3872.3 1602.8,3900.3 1603.8,3904.7 1605.3,3908.9 1606.3,3910.2 1607.3,3910.6 1608.8,3910.3 1612.8,3908.5 1614.3,3908.4 1615.8,3908.8 1618.8,3911 1626.3,3919.5 1628.3,3920.6 1629.8,3920.5 1631.3,3919.1 1632.3,3917.4 1634.3,3911.7 1636.8,3900.4 1641.8,3871.9 1643.3,3866.5 1644.3,3864.8 1644.8,3864.6 1645.8,3865.5 1646.8,3868.1 1651.3,3888.8 1653.3,3894.9 1654.3,3895.9 1655.3,3895.4 1656.3,3893.7 1658.8,3887.6 1659.8,3886.3 1660.3,3886.2 1660.8,3886.5 1661.3,3887.4 1662.8,3892.7 1667.3,3916.5 1668.8,3921.9 1670.3,3925.1 1671.3,3926.2 1672.8,3926.7 1677.8,3925.2 1679.3,3925.2 1680.8,3925.6 1682.8,3926.8 1688.8,3931.7 1692.8,3933.8 1698.3,3934.8 1708.3,3935.1 1815.8,3935.6 1824.3,3934 1834.8,3928.4"/>
<polyline fill="none" stroke="#000000" stroke-width="2.80" stroke-linejoin="round" points="174.8,4040.6 308.8,4039.4 326.3,4038.6 330.8,4038 333.3,4037.1 335.3,4035.3 336.8,4032.3 338.3,4026.7 339.3,4020.9 341.3,4003.8 344.8,3964.3 345.8,3956.3 346.8,3952.7 347.3,3952.7 347.8,3954.1 348.8,3960.3 352.8,4004.2 354.8,4021.2 356.8,4030.8 358.3,4034.4 359.8,4036.3 362.8,4037.7 369.8,4038.5 382.3,4038.8 403.3,4038.8 424.3,4038.5 437.8,4038 446.3,4037.1 449.3,4036.4 451.3,4035.6 452.8,4034.5 453.8,4033.2 455.3,4029.7 456.8,4023.1 458.3,4011.4 460.3,3985.3 464.8,3903.4 465.8,3893.3 466.3,3891.2 466.8,3891.1 467.8,3897.2 468.8,3910.3 472.3,3976.3 473.8,3999.5 474.8,4011 476.3,4022.8 477.8,4029.5 478.8,4032.1 480.3,4034.3 481.8,4035.4 483.8,4036.2 490.3,4037.3 503.8,4037.9 528.8,4038.1 672.3,4037.2 714.3,4036.4 724.8,4035.7 730.8,4034.6 733.8,4033.1 735.8,4030.7 737.8,4026 739.3,4020.3 740.8,4012.1 742.3,4001.3 747.3,3956.9 748.8,3948.4 749.8,3946.2 750.3,3946.2 750.8,3947.1 752.3,3953.8 757.3,3996.7 759.8,4013.3 760.8,4017.6 762.3,4021.4 763.3,4022.2 763.8,4022 764.8,4020.6 766.3,4015.8 767.8,4007.4 769.8,3991.2 773.8,3952.9 775.3,3944.1 775.8,3942.8 776.3,3942.3 776.8,3942.7 777.3,3944 778.8,3952.5 784.3,4004.7 785.8,4015.2 787.3,4022.7 789.3,4028.8 790.3,4030.6 791.8,4032.4 794.8,4034 800.3,4034.8 813.8,4035.2 825.3,4034.4 827.8,4033.8 829.8,4032.8 831.3,4031.3 832.3,4029.8 834.3,4024.3 836.3,4014.6 838.3,3999.9 842.3,3965.3 843.8,3957.7 844.3,3956.6 844.8,3956.2 845.3,3956.6 846.3,3959.2 849.8,3975.7 851.3,3979.6 851.8,3980 852.8,3979.7 855.3,3975.2 856.3,3974 856.8,3973.9 857.3,3974.4 858.3,3976.8 859.8,3984 864.8,4016.8 866.3,4023.5 867.8,4028.1 869.3,4031 871.3,4033 873.3,4034 876.8,4034.7 889.3,4035.4 908.8,4035.6 913.3,4035.2 919.3,4033.8 921.8,4033.5 929.3,4035.1 933.3,4035.5 967.8,4035.5 1107.3,4034.5 1128.8,4034.1 1138.8,4033.5 1141.3,4032.9 1143.3,4031.7 1144.8,4030.1 1146.3,4027.3 1148.8,4019.4 1153.3,3999.3 1154.3,3996.4 1155.3,3995 1155.8,3995 1156.3,3995.5 1157.8,3999.4 1162.3,4019.4 1164.8,4027.2 1166.3,4030 1167.8,4031.6 1169.3,4032.5 1171.8,4033.1 1182.8,4033.7 1209.3,4033.7 1303.3,4032.9 1337.3,4032.3 1341.3,4031.8 1344.3,4030.6 1346.8,4028.5 1351.3,4023.6 1353.3,4022.6 1355.3,4023.3 1361.3,4029.2 1362.8,4030.2 1364.8,4031.1 1370.3,4031.6 1380.8,4030.9 1384.8,4030 1387.3,4028.5 1389.3,4025.8 1390.8,4022.3 1392.3,4017.1 1393.8,4009.9 1399.3,3975.1 1400.8,3969.6 1401.3,3968.8 1401.8,3968.6 1402.8,3970 1404.3,3975.9 1408.3,4001.2 1410.3,4011.7 1411.8,4017.1 1413.3,4020.2 1414.3,4021 1415.8,4020.7 1416.8,4019.5 1418.3,4016.5 1420.8,4008.6 1426.8,3983.9 1428.8,3979.1 1429.8,3978.3 1430.3,3978.3 1431.8,3980.3 1433.3,3984.5 1439.8,4011.6 1441.8,4018 1443.3,4021.6 1445.3,4024.9 1447.8,4027.2 1450.8,4028.4 1454.3,4028.4 1456.3,4027.9 1457.8,4027.1 1460.3,4024.6 1462.3,4020.6 1464.3,4014.1 1465.8,4007.2 1467.8,3994.9 1473.8,3949.2 1475.3,3941.9 1476.3,3939.4 1476.8,3939.1 1477.3,3939.3 1478.3,3941.4 1479.8,3948.3 1486.3,3997.4 1489.3,4013.7 1491.3,4020.5 1493.3,4024.6 1495.8,4027.4 1499.3,4029.1 1503.3,4029.7 1509.3,4030.2 1529.8,4030.6 1551.3,4030.1 1555.3,4029.7 1558.3,4029 1561.3,4027.1 1563.8,4024 1566.3,4019.2 1570.8,4008.8 1572.3,4006.3 1573.3,4005.4 1574.3,4005.3 1575.8,4006.3 1580.3,4014 1581.8,4015.8 1583.3,4016.1 1584.3,4015.3 1586.3,4011.1 1590.8,3995.6 1591.8,3993.6 1592.8,3993 1593.3,3993.3 1594.3,3994.9 1598.8,4008.9 1600.3,4012.2 1601.3,4013.6 1602.3,4014.3 1603.3,4014.3 1607.8,4011.9 1609.3,4011.7 1610.3,4011.9 1612.3,4013.3 1618.3,4019.9 1620.3,4020.8 1621.8,4020.4 1623.3,4018.9 1624.3,4017.2 1626.8,4010.1 1629.8,3996.4 1635.3,3965 1637.3,3957.7 1638.3,3956 1638.8,3955.8 1639.8,3956.4 1641.3,3960 1646.3,3982.4 1647.3,3985.7 1648.3,3987.9 1649.3,3988.5 1649.8,3988.3 1650.8,3986.7 1654.8,3974.8 1655.3,3974.2 1655.8,3974.1 1656.8,3975.6 1658.3,3982 1662.3,4008.1 1664.3,4017.8 1665.3,4021.1 1666.8,4024.5 1668.3,4026.4 1670.3,4027.6 1673.3,4028.4 1679.3,4029 1700.8,4029.5 1834.8,4029"/>
<polyline fill="none" stroke="#000000" stroke-width="2.80" stroke-linejoin="round" points="174.8,4131.2 304.8,4130.1 322.3,4129.4 327.3,4128.8 329.8,4128 331.8,4126.5 333.3,4124 334.8,4119.3 335.8,4114.4 337.8,4099.3 341.8,4057.5 342.8,4050.8 343.3,4048.9 343.8,4048.3 344.3,4048.9 344.8,4050.7 345.8,4057.3 349.8,4099 351.8,4114.2 353.8,4122.6 355.3,4125.7 356.8,4127.3 358.3,4128 360.3,4128.5 368.8,4129.3 383.8,4129.5 407.8,4129.4 425.3,4129.1 436.8,4128.5 444.3,4127.6 448.8,4126.2 450.3,4125 451.3,4123.7 452.8,4120.1 454.3,4113.2 455.8,4101.2 457.8,4074.6 461.8,3999.8 462.8,3986.8 463.8,3981 464.3,3981.2 464.8,3983.6 465.8,3994 470.8,4084 472.3,4102.3 473.8,4113.8 475.3,4120.3 476.3,4122.8 477.8,4125 479.3,4126.1 480.8,4126.7 487.3,4127.9 500.3,4128.6 523.3,4128.8 659.3,4128 709.8,4127.3 721.8,4126.6 728.3,4125.7 730.8,4124.7 732.8,4122.7 734.3,4120 735.8,4115.4 738.3,4102.4 743.3,4064.4 744.3,4059.6 745.3,4057.4 745.8,4057.4 746.3,4058.2 747.8,4064.7 752.3,4098.5 754.3,4109.7 756.3,4115.9 757.3,4117.3 758.3,4117.5 759.8,4115.9 760.8,4113.5 762.3,4107.5 763.3,4101.8 765.3,4086.4 769.8,4043.2 771.3,4034 772.3,4031.7 772.8,4031.8 773.3,4032.8 774.8,4040.5 780.3,4092.4 781.8,4103.5 783.8,4113.7 785.8,4119.6 786.8,4121.4 788.3,4123.1 791.3,4124.7 796.8,4125.6 810.3,4125.9 821.8,4125.2 824.3,4124.7 826.3,4123.8 827.8,4122.5 828.8,4121.1 830.8,4115.6 832.8,4105 834.8,4088.1 838.3,4051.7 839.8,4041.8 840.3,4040.4 840.8,4039.9 841.3,4040.5 842.3,4044.4 845.8,4069.9 847.3,4077.4 847.8,4078.8 848.8,4079.9 849.8,4079.3 852.3,4075.2 852.8,4075 853.3,4075.1 853.8,4075.8 855.3,4080.7 859.8,4106.9 862.3,4117.3 863.8,4120.9 865.8,4123.5 867.8,4124.7 871.3,4125.4 883.8,4126.1 905.3,4126.3 910.3,4125.8 918.3,4124.1 927.8,4126 935.8,4126.3 1100.8,4125.4 1123.8,4125.1 1134.3,4124.6 1136.8,4124.1 1138.8,4123.2 1140.3,4121.8 1141.8,4119.6 1144.3,4113.2 1148.8,4096.8 1149.8,4094.4 1150.8,4093.3 1151.8,4093.7 1153.3,4096.9 1157.8,4113.2 1160.3,4119.6 1161.8,4121.8 1163.3,4123.1 1164.8,4123.8 1167.3,4124.4 1178.8,4124.8 1206.3,4124.8 1298.8,4124.3 1332.8,4123.8 1336.8,4123.4 1339.8,4122.3 1342.3,4120.7 1346.8,4116.6 1348.8,4115.8 1350.8,4116.3 1356.3,4120.9 1359.8,4122.6 1364.8,4123.1 1374.8,4122.5 1378.8,4121.7 1381.3,4120.3 1383.3,4117.8 1385.3,4113.2 1386.8,4107.7 1388.3,4100.3 1393.3,4069.1 1394.8,4063.2 1395.8,4061.8 1396.3,4062 1396.8,4062.7 1398.3,4067.8 1402.8,4095.3 1404.8,4105.4 1406.3,4110.6 1407.3,4112.8 1408.3,4114.2 1409.3,4114.8 1410.8,4114.4 1412.3,4112.5 1413.8,4109.2 1416.3,4101.1 1421.8,4078.6 1423.3,4074.8 1424.3,4073.5 1424.8,4073.4 1425.3,4073.5 1426.3,4074.7 1427.8,4078.6 1434.3,4105 1435.8,4109.8 1437.8,4114.5 1439.8,4117.5 1442.3,4119.5 1445.8,4120.5 1449.8,4120.4 1453.3,4119.3 1454.8,4118.2 1456.3,4116.6 1458.3,4112.9 1460.3,4106.8 1462.3,4097.8 1463.8,4088.9 1470.8,4036.9 1472.3,4030.4 1473.3,4028.5 1473.8,4028.4 1474.3,4028.8 1475.3,4031.3 1476.8,4038.5 1483.3,4087.5 1485.3,4099.4 1486.8,4106.1 1488.8,4112.5 1490.8,4116.5 1493.3,4119.2 1496.8,4120.8 1504.8,4121.8 1520.8,4122.3 1542.3,4122.1 1547.3,4121.8 1550.3,4121.3 1553.3,4120 1556.3,4117.3 1558.8,4113.6 1563.8,4104.3 1565.3,4102.5 1566.8,4101.7 1567.8,4101.8 1569.3,4103.1 1574.8,4110.9 1576.3,4111.9 1577.3,4111.9 1578.3,4111.3 1579.3,4110 1580.8,4106.7 1582.8,4100.1 1587.3,4082.5 1588.8,4079.1 1589.8,4078.3 1590.8,4078.6 1592.3,4080.9 1596.8,4092.4 1599.8,4097.9 1605.8,4103.8 1613.3,4112.4 1615.8,4113.9 1617.8,4113.7 1619.3,4112.4 1620.3,4110.8 1622.8,4103.8 1625.3,4092.3 1630.8,4059.7 1632.3,4054.1 1633.3,4052.4 1633.8,4052.2 1634.8,4053.1 1635.8,4055.7 1640.3,4076 1641.3,4079.4 1642.3,4081.3 1643.3,4081.8 1644.3,4080.6 1648.3,4068.9 1649.3,4068 1650.3,4069.2 1651.8,4075.1 1655.8,4100.5 1657.8,4110.1 1658.8,4113.4 1660.3,4116.8 1661.8,4118.7 1664.3,4120.1 1667.8,4120.8 1673.8,4121.3 1695.8,4121.9 1834.8,4121.5"/>
<polyline fill="none" stroke="#000000" stroke-width="2.80" stroke-linejoin="round" points="174.8,4220.9 302.8,4220 319.8,4219.4 324.8,4218.8 327.3,4218.1 329.3,4216.7 330.8,4214.3 332.3,4209.8 333.3,4205.2 335.3,4191 339.3,4152.4 340.3,4146.4 340.8,4144.9 341.3,4144.4 341.8,4145.1 342.3,4146.9 343.3,4153.3 347.3,4191.9 349.3,4205.7 351.3,4213.3 352.8,4216.1 354.3,4217.5 355.8,4218.2 358.3,4218.7 366.8,4219.3 407.8,4219.4 423.3,4219.1 433.3,4218.5 440.3,4217.6 444.3,4216.3 445.8,4215.1 446.8,4213.8 448.3,4210.1 449.8,4203.2 451.3,4191.1 453.3,4164.1 457.3,4088.2 458.3,4075 459.3,4069.1 459.8,4069.3 460.3,4071.7 461.3,4082.3 466.3,4173.6 467.8,4192.1 469.3,4203.8 470.8,4210.4 471.8,4212.9 473.3,4215.1 474.8,4216.2 476.8,4217 483.3,4218.1 496.3,4218.8 519.3,4219 653.3,4218.5 706.8,4217.9 718.8,4217.3 725.3,4216.5 727.8,4215.4 729.8,4213.5 731.3,4210.7 732.8,4206.3 735.3,4194.1 739.8,4163.7 741.3,4157.3 742.3,4156 743.3,4157.3 744.8,4163.6 748.8,4190.4 750.8,4201.1 752.8,4207.6 753.8,4209.3 755.3,4210.2 756.8,4209 757.8,4206.9 759.8,4198.9 761.8,4185.1 766.3,4142.6 767.8,4134.2 768.3,4133.1 768.8,4132.9 769.8,4135.5 770.8,4141.5 775.8,4188.4 777.3,4198.9 778.8,4206.1 780.8,4211.7 782.8,4214.3 785.8,4215.7 791.3,4216.5 804.8,4216.8 816.8,4216.2 821.3,4215 822.8,4214 824.3,4212.2 826.3,4207.9 828.3,4200.4 830.3,4188.9 835.3,4153.3 836.8,4147.8 837.3,4147.1 837.8,4147 838.3,4147.5 839.3,4150.1 842.8,4166.9 844.8,4173.4 845.8,4174.6 846.8,4174.5 849.8,4170.4 850.8,4169.8 851.8,4170.5 852.8,4172.6 854.3,4178.4 858.8,4200.7 860.3,4206.3 861.8,4210.2 863.3,4212.8 865.3,4214.7 867.3,4215.7 870.8,4216.3 882.8,4216.9 902.3,4217.1 906.8,4216.8 913.3,4215.3 915.3,4215.1 924.3,4216.9 932.8,4217.2 1094.8,4216.5 1119.3,4216.2 1130.3,4215.7 1132.8,4215.3 1134.8,4214.5 1136.3,4213.3 1137.8,4211.3 1140.3,4205.4 1145.3,4188.6 1146.3,4186.7 1147.3,4186.2 1148.3,4187.1 1149.3,4189.2 1153.8,4204.6 1156.3,4210.7 1157.8,4212.9 1159.3,4214.2 1160.8,4215 1163.3,4215.5 1173.8,4215.9 1199.8,4216 1327.3,4215.1 1331.3,4214.8 1334.3,4214 1336.8,4212.6 1341.8,4208.7 1343.8,4208 1345.8,4208.6 1351.3,4212.7 1354.8,4214.1 1360.8,4214.5 1371.8,4213.9 1375.3,4213.3 1377.8,4212 1379.8,4209.6 1381.3,4206.3 1382.8,4201.1 1384.3,4193.8 1389.3,4162.1 1390.3,4158.2 1391.3,4156.7 1391.8,4156.8 1392.3,4157.6 1393.8,4163.4 1399.3,4196.6 1400.8,4202.2 1401.8,4204.6 1402.8,4206.1 1403.8,4206.8 1405.3,4206.6 1406.3,4205.7 1407.8,4203.5 1410.8,4196.5 1416.8,4178.1 1418.8,4174.3 1420.3,4173.3 1421.8,4174.3 1423.8,4178.1 1430.3,4198.1 1432.3,4203 1434.3,4206.7 1436.8,4209.7 1439.3,4211.3 1442.3,4212.1 1446.3,4212 1449.8,4211 1452.8,4208.7 1455.3,4204.6 1457.3,4199.3 1458.8,4193.7 1460.8,4184.1 1467.8,4141.4 1469.8,4134.3 1470.8,4132.9 1471.3,4132.9 1471.8,4133.3 1472.8,4135.3 1474.3,4141 1481.3,4183.7 1483.3,4193.4 1484.8,4199.1 1486.8,4204.6 1489.3,4208.8 1492.3,4211.3 1495.8,4212.6 1503.8,4213.4 1518.8,4213.8 1539.3,4213.8 1547.3,4213.2 1549.8,4212.3 1552.3,4210.3 1554.3,4207.8 1558.8,4200.6 1560.3,4199.3 1561.3,4199.1 1562.3,4199.4 1563.3,4200.4 1567.3,4206.3 1569.3,4208.7 1571.3,4209.9 1572.3,4210 1573.3,4209.6 1575.3,4207.3 1577.3,4202.5 1579.3,4194.8 1583.8,4172.7 1585.3,4168.4 1586.3,4167.5 1587.3,4168.5 1588.3,4171 1592.3,4186.2 1594.3,4191.2 1595.8,4192.8 1599.3,4193.7 1600.8,4195.1 1606.3,4205.5 1608.8,4208.8 1609.8,4209.6 1611.3,4210.2 1613.3,4209.9 1614.8,4208.7 1616.3,4206.4 1617.8,4202.5 1618.8,4198.7 1621.3,4184.9 1625.3,4156.5 1626.8,4149.5 1627.8,4147.7 1628.3,4147.7 1628.8,4148.5 1629.8,4151.6 1633.8,4174.4 1635.8,4182.1 1636.8,4183.5 1637.3,4183.6 1638.3,4182.6 1639.8,4178.8 1642.8,4169 1643.8,4167.2 1644.3,4166.9 1645.3,4167.5 1646.3,4169.8 1647.3,4173.5 1651.3,4193.2 1653.8,4202.9 1655.3,4206.7 1656.8,4209.2 1658.8,4211.1 1660.8,4212 1664.3,4212.7 1669.8,4213.1 1691.3,4213.5 1834.8,4213.1"/>
<polyline fill="none" stroke="#000000" stroke-width="2.80" stroke-linejoin="round" points="174.8,4308.9 300.8,4307.9 317.8,4307.2 322.8,4306.6 325.3,4305.8 327.3,4304.3 328.8,4301.7 330.3,4296.8 331.3,4291.7 333.3,4276 337.3,4232.4 338.3,4225.4 338.8,4223.5 339.3,4222.8 339.8,4223.4 340.3,4225.3 341.3,4232.2 345.3,4275.7 347.3,4291.5 349.3,4300.2 350.8,4303.4 352.3,4305 353.8,4305.9 355.8,4306.4 363.3,4307.1 376.8,4307.4 399.8,4307.4 419.3,4307.1 431.8,4306.5 440.3,4305.6 444.8,4304.3 446.3,4303.2 447.3,4301.9 448.8,4298.6 450.3,4292.2 451.8,4280.9 453.8,4255.3 458.3,4173.4 459.3,4162.8 459.8,4160.3 460.3,4160 461.3,4165.5 462.3,4178.2 467.3,4267.3 468.3,4279 469.8,4291.1 470.8,4296.1 471.8,4299.4 473.8,4302.8 475.3,4304 477.3,4304.8 483.8,4305.9 497.3,4306.6 522.8,4306.8 668.3,4306 706.3,4305.1 715.8,4304.4 720.8,4303.3 723.3,4301.8 725.3,4299.1 727.3,4293.9 728.8,4287.2 731.3,4269.6 736.8,4215.2 738.3,4207.2 738.8,4206.3 739.3,4206.2 740.3,4208.8 741.8,4218.7 745.8,4259.3 747.8,4276.5 749.8,4288.3 751.8,4294.8 753.3,4296.8 754.3,4296.9 754.8,4296.6 756.3,4294.1 757.3,4291 759.8,4277.7 763.8,4248.2 765.3,4241.7 765.8,4240.9 766.3,4240.9 767.3,4243.3 768.3,4248.3 772.8,4281.9 775.3,4294.4 776.8,4298.7 778.8,4301.7 780.8,4303 784.3,4303.8 790.8,4304.3 799.8,4304.4 808.8,4304.1 815.3,4303.6 818.8,4303 821.3,4302 822.8,4300.9 824.3,4298.6 826.3,4292.6 828.3,4280.9 830.3,4261.9 834.3,4216.1 835.3,4209.3 836.3,4206.6 836.8,4206.9 837.8,4210.3 840.8,4229.6 842.3,4235.3 842.8,4235.9 843.3,4235.9 843.8,4235.3 847.3,4224.7 847.8,4224.3 848.3,4224.7 849.3,4227.9 850.8,4238.1 855.3,4279.4 856.8,4288.9 858.3,4295.2 859.8,4298.9 861.3,4301 863.8,4302.6 867.3,4303.4 875.8,4304.1 889.3,4304.5 948.8,4304.6 1093.8,4303.6 1116.8,4303.1 1127.3,4302.4 1129.8,4301.8 1131.8,4300.5 1133.3,4298.6 1134.8,4295.5 1137.3,4286.7 1141.8,4264.6 1142.8,4261.5 1143.8,4260.1 1144.3,4260.2 1144.8,4260.8 1146.3,4265.3 1150.8,4287.4 1153.3,4295.8 1154.8,4298.7 1156.3,4300.5 1157.8,4301.4 1160.3,4302.1 1172.8,4302.7 1203.8,4302.7 1293.8,4301.9 1323.3,4301.2 1327.3,4300.3 1330.3,4298.3 1332.8,4295 1337.3,4287.2 1338.3,4286.2 1339.3,4285.8 1340.3,4286.1 1341.3,4287 1346.8,4296 1348.3,4297.8 1350.3,4299.3 1352.8,4300.1 1355.8,4300.3 1362.3,4300.1 1367.8,4299.5 1371.8,4298.3 1374.3,4296 1376.3,4292 1377.8,4286.8 1379.3,4279.1 1380.8,4268.5 1385.8,4224.2 1387.3,4216.5 1387.8,4215.4 1388.3,4215.1 1389.3,4217.1 1390.8,4225.5 1394.8,4261.1 1396.8,4275.9 1398.3,4283.6 1400.3,4289.3 1401.3,4290.5 1401.8,4290.7 1402.8,4290.4 1404.3,4288.4 1405.8,4284.5 1408.3,4274.1 1413.8,4243.7 1415.3,4238.8 1416.3,4237.6 1416.8,4237.7 1417.8,4239.3 1419.3,4244.6 1424.8,4275.4 1426.8,4284.2 1428.3,4289 1430.3,4293.2 1432.8,4295.9 1435.8,4297 1439.3,4297 1443.3,4295.9 1445.3,4294.5 1446.8,4293 1448.3,4290.9 1449.8,4287.9 1452.3,4280.8 1454.3,4272.6 1456.8,4259.1 1465.3,4200.5 1467.3,4192.1 1468.3,4190 1469.3,4189.4 1470.3,4190.4 1471.3,4193 1473.3,4202 1481.3,4257.7 1483.8,4271.6 1485.8,4280.1 1488.3,4287.6 1490.8,4292.3 1493.8,4295.4 1497.8,4297.4 1504.8,4298.5 1517.8,4299.1 1535.3,4299.1 1542.3,4298.3 1545.3,4297 1547.8,4294.8 1549.8,4292.2 1555.3,4283.1 1556.8,4281.7 1557.8,4281.3 1558.8,4281.5 1560.3,4282.7 1565.3,4290.2 1567.3,4292.6 1569.3,4293.7 1570.8,4293.5 1572.3,4292.1 1573.3,4290.5 1575.3,4285.2 1577.3,4277.1 1582.3,4251.6 1583.8,4246.8 1584.8,4245.4 1585.3,4245.3 1586.3,4246.2 1587.3,4248.5 1591.3,4262.3 1593.8,4268.7 1598.8,4276 1604.3,4287.6 1606.3,4291 1608.8,4293.4 1610.3,4293.7 1611.3,4293.3 1612.8,4291.6 1613.8,4289.5 1615.3,4284.5 1616.3,4279.7 1618.3,4266.2 1622.3,4232.4 1623.8,4224.5 1624.3,4223.2 1624.8,4222.8 1625.3,4223.2 1625.8,4224.4 1626.8,4228.7 1630.8,4253 1631.8,4255.7 1632.3,4255.9 1632.8,4255.5 1633.8,4252.3 1634.8,4246.2 1638.8,4209.2 1639.8,4203.4 1640.3,4202 1640.8,4201.6 1641.8,4204.4 1642.8,4211.4 1647.3,4261.7 1649.8,4281.6 1650.8,4286.5 1652.3,4291.4 1653.8,4294.2 1656.3,4296.3 1659.8,4297.3 1665.8,4298 1686.8,4298.6 1834.8,4298"/>
<polyline fill="none" stroke="#000000" stroke-width="2.80" stroke-linejoin="round" points="174.8,4402.6 298.3,4401.9 315.3,4401.4 319.8,4401 322.3,4400.5 324.3,4399.4 325.8,4397.5 327.3,4394.2 328.3,4390.7 330.3,4380.1 334.3,4352.5 335.3,4348.5 335.8,4347.7 336.3,4347.6 337.3,4349.8 338.3,4354.7 341.8,4379.4 343.8,4390.2 344.8,4393.8 346.3,4397.3 347.8,4399.2 349.3,4400.1 353.8,4401 364.3,4401.4 414.8,4401.2 435.3,4400.3 441.3,4399.4 444.8,4398.2 446.3,4397.1 447.3,4395.8 448.8,4392.4 450.3,4385.8 451.8,4374.2 453.8,4348 458.3,4263.8 459.3,4252.9 459.8,4250.3 460.3,4249.9 461.3,4255.6 462.3,4268.7 467.3,4360.3 468.3,4372.3 469.8,4384.7 470.8,4389.9 471.8,4393.3 473.8,4396.8 475.3,4398 477.3,4398.8 483.8,4400 495.3,4400.6 514.3,4400.9 616.8,4400.7 692.3,4400.1 707.8,4399.6 715.3,4398.9 717.8,4398.1 719.8,4396.8 721.8,4394.2 723.3,4390.9 726.3,4380.2 731.3,4355.2 732.8,4350.6 733.8,4349.5 734.8,4350.1 736.3,4354 741.3,4378.3 743.8,4387.7 745.8,4392 747.3,4393.5 748.3,4393.7 749.8,4392.7 750.8,4391 752.8,4384.8 754.8,4374.5 759.3,4344.3 760.3,4340 761.3,4338 761.8,4338 762.3,4338.6 763.8,4344.3 768.3,4374.8 770.3,4385.5 772.3,4392.2 774.3,4395.7 775.8,4397.1 777.8,4398.1 784.3,4398.9 801.8,4399 809.3,4398.7 814.3,4398 817.3,4397 819.3,4395.2 820.8,4392.6 822.3,4388.4 823.8,4381.9 825.3,4372.9 830.3,4335 831.8,4328.9 832.3,4328.2 832.8,4328.1 833.3,4328.6 834.3,4331.3 837.3,4343.8 838.8,4347.6 839.3,4348.1 840.3,4348 843.3,4342.8 844.3,4341.9 845.3,4342.7 845.8,4343.7 847.8,4352.4 852.8,4382.6 854.3,4388.6 855.8,4392.7 857.8,4395.8 859.8,4397.3 862.8,4398.2 868.3,4398.8 889.3,4399.3 936.8,4399.4 1088.3,4398.8 1120.8,4398.2 1123.3,4397.9 1125.3,4397.2 1126.8,4396.2 1128.3,4394.6 1130.8,4389.8 1135.3,4377.8 1136.3,4376 1137.3,4375.2 1138.3,4375.5 1139.8,4377.8 1144.3,4389.9 1146.8,4394.5 1148.3,4396.2 1149.8,4397.1 1153.8,4398 1165.3,4398.4 1193.3,4398.4 1314.8,4397.6 1318.8,4397.3 1321.8,4396.4 1324.3,4394.9 1328.8,4391.3 1330.8,4390.6 1332.8,4391.1 1338.8,4395.5 1342.3,4396.8 1348.3,4397.2 1360.3,4396.6 1363.8,4396 1366.3,4394.9 1368.3,4392.9 1370.3,4389.3 1371.8,4385.2 1373.3,4379.7 1378.3,4356.3 1379.8,4351.6 1380.8,4350.2 1381.3,4350.1 1381.8,4350.4 1383.3,4353.7 1388.8,4378.2 1390.8,4385 1391.8,4387.3 1393.3,4389.4 1394.8,4390.1 1396.3,4389.2 1398.3,4385.6 1399.8,4381 1401.8,4372.4 1406.8,4346.6 1408.3,4342.1 1409.3,4341.1 1410.3,4341.8 1411.8,4346 1418.3,4378.9 1420.3,4386 1422.8,4391.5 1425.3,4394.2 1427.3,4395.2 1429.3,4395.7 1437.3,4396.2 1446.8,4395.8 1450.3,4395 1452.3,4393.7 1454.3,4390.9 1455.8,4387 1457.3,4381 1458.8,4372.6 1463.8,4336.5 1464.8,4332.1 1465.8,4330.2 1466.3,4330.3 1466.8,4331.2 1468.3,4337.7 1473.3,4373.9 1475.8,4386 1477.3,4390.3 1478.8,4392.9 1480.8,4394.7 1483.8,4395.7 1491.3,4396.4 1504.3,4396.7 1525.3,4396.6 1533.3,4396.2 1535.8,4395.5 1538.3,4394 1540.3,4392 1544.3,4387 1545.8,4385.8 1546.8,4385.4 1547.8,4385.6 1549.3,4386.6 1554.3,4392.5 1557.3,4394.7 1559.3,4395.3 1561.3,4395.6 1563.8,4395.4 1565.8,4394.9 1567.3,4394.1 1568.8,4392.7 1571.3,4388.1 1573.3,4381.9 1577.8,4363.3 1579.3,4359.3 1580.3,4358.4 1581.3,4359.1 1582.3,4361.3 1587.8,4383 1589.3,4387.5 1590.8,4390.7 1592.8,4393.1 1594.8,4394.3 1597.8,4394.7 1600.8,4394.2 1602.8,4393.1 1604.3,4391.5 1605.8,4388.7 1606.8,4386 1608.8,4378.4 1613.3,4355.8 1614.8,4351.1 1615.8,4350.1 1616.8,4350.9 1617.8,4353.3 1621.8,4367.4 1622.8,4369.1 1623.8,4369.3 1624.8,4367.9 1625.8,4365 1629.8,4347.7 1630.8,4345.1 1631.3,4344.4 1631.8,4344.3 1632.8,4345.7 1633.8,4349 1638.8,4377 1641.3,4386.9 1642.8,4390.5 1644.3,4392.7 1645.8,4394 1648.3,4395 1651.8,4395.5 1658.3,4395.9 1680.8,4396.3 1834.8,4395.9"/>
<rect x="173.80" y="3272.40" width="1661.80" height="1219.90" fill="none" stroke="#000" stroke-width="4.80"/>
<path d="M173.80 4492.30V4517.80M256.89 4492.30V4506.10M339.98 4492.30V4517.80M423.07 4492.30V4506.10M506.16 4492.30V4517.80M589.25 4492.30V4506.10M672.34 4492.30V4517.80M755.43 4492.30V4506.10M838.52 4492.30V4517.80M921.61 4492.30V4506.10M1004.70 4492.30V4517.80M1087.79 4492.30V4506.10M1170.88 4492.30V4517.80M1253.97 4492.30V4506.10M1337.06 4492.30V4517.80M1420.15 4492.30V4506.10M1503.24 4492.30V4517.80M1586.33 4492.30V4506.10M1669.42 4492.30V4517.80M1752.51 4492.30V4506.10M1835.60 4492.30V4517.80" stroke="#000" stroke-width="4.60" stroke-linecap="round" fill="none"/>
<text transform="translate(173.80 4592.80)" font-size="72.50" font-weight="normal" text-anchor="middle" style="white-space:pre">5</text>
<text transform="translate(339.98 4592.80)" font-size="72.50" font-weight="normal" text-anchor="middle" style="white-space:pre">6</text>
<text transform="translate(506.16 4592.80)" font-size="72.50" font-weight="normal" text-anchor="middle" style="white-space:pre">7</text>
<text transform="translate(672.34 4592.80)" font-size="72.50" font-weight="normal" text-anchor="middle" style="white-space:pre">8</text>
<text transform="translate(838.52 4592.80)" font-size="72.50" font-weight="normal" text-anchor="middle" style="white-space:pre">9</text>
<text transform="translate(1004.70 4592.80)" font-size="72.50" font-weight="normal" text-anchor="middle" style="white-space:pre">10</text>
<text transform="translate(1170.88 4592.80)" font-size="72.50" font-weight="normal" text-anchor="middle" style="white-space:pre">11</text>
<text transform="translate(1337.06 4592.80)" font-size="72.50" font-weight="normal" text-anchor="middle" style="white-space:pre">12</text>
<text transform="translate(1503.24 4592.80)" font-size="72.50" font-weight="normal" text-anchor="middle" style="white-space:pre">13</text>
<text transform="translate(1669.42 4592.80)" font-size="72.50" font-weight="normal" text-anchor="middle" style="white-space:pre">14</text>
<text transform="translate(1835.60 4592.80)" font-size="72.50" font-weight="normal" text-anchor="middle" style="white-space:pre">15</text>
<text transform="translate(818.27 4664.30)" font-size="57.20" font-weight="bold" text-anchor="start" style="white-space:pre">Two theta (degree)</text>
<text transform="translate(126.40 4160.42) rotate(-90)" font-size="57.83" font-weight="bold" text-anchor="start" style="white-space:pre">Intensity (Arb. Unit)</text>
<text transform="translate(998.60 4755.50) scale(0.9260 1)" font-size="90.00" font-weight="bold" text-anchor="middle" style="white-space:pre">(c)</text>
<text transform="translate(1848.11 3508.30)" font-size="42.28" font-weight="bold" text-anchor="start" style="white-space:pre">Released (F<tspan font-style="italic">dd2</tspan>)</text>
<text transform="translate(1849.99 3638.50)" font-size="41.24" font-weight="bold" text-anchor="start" style="white-space:pre">3.81 GPa</text>
<text transform="translate(1849.99 3738.30)" font-size="41.24" font-weight="bold" text-anchor="start" style="white-space:pre">3.14 GPa</text>
<text transform="translate(1849.47 3843.00)" font-size="42.05" font-weight="bold" text-anchor="start" style="white-space:pre">2.62 GPa  (C<tspan font-style="italic">c</tspan>)</text>
<text transform="translate(1850.80 3936.20)" font-size="41.88" font-weight="bold" text-anchor="start" style="white-space:pre">1.84 GPa (1.43GPa +heat)</text>
<text transform="translate(1848.82 3986.80)" font-size="42.48" font-weight="bold" text-anchor="start" style="white-space:pre">(F<tspan font-style="italic">dd2</tspan>, C<tspan font-style="italic">c</tspan>)</text>
<text transform="translate(1850.86 4044.70)" font-size="41.03" font-weight="bold" text-anchor="start" style="white-space:pre">1.43 GPa</text>
<text transform="translate(1850.86 4138.50)" font-size="41.03" font-weight="bold" text-anchor="start" style="white-space:pre">1.02 GPa</text>
<text transform="translate(1849.29 4230.70)" font-size="41.40" font-weight="bold" text-anchor="start" style="white-space:pre">0.74 GPa</text>
<text transform="translate(1849.29 4318.00)" font-size="41.40" font-weight="bold" text-anchor="start" style="white-space:pre">0.52 GPa</text>
<text transform="translate(1848.89 4413.80)" font-size="42.26" font-weight="bold" text-anchor="start" style="white-space:pre">Ambient (F<tspan font-style="italic">dd2</tspan>)</text>
</g>
</svg>
</body></html>
